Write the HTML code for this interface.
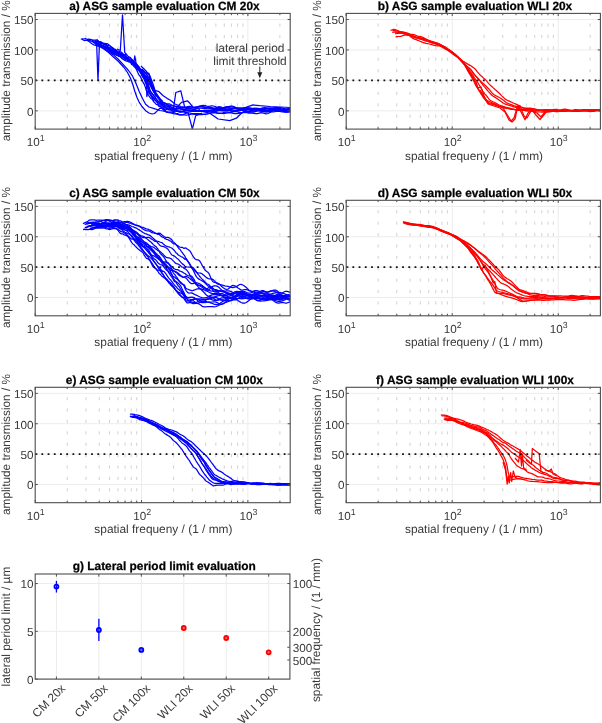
<!DOCTYPE html><html><head><meta charset="utf-8"><style>html,body{margin:0;padding:0;background:#fff;width:602px;height:723px;overflow:hidden}svg{display:block;will-change:transform;filter:blur(0.3px);text-rendering:geometricPrecision}</style></head><body><svg width="602" height="723" viewBox="0 0 602 723" font-family='"Liberation Sans", sans-serif'>
<rect width="602" height="723" fill="#fff"/>
<clipPath id="clipa"><rect x="35.2" y="13.4" width="255.0" height="115.69999999999999"/></clipPath>
<line x1="35.2" y1="110.83" x2="290.2" y2="110.83" stroke="#ececec" stroke-width="1"/>
<line x1="35.2" y1="80.38" x2="290.2" y2="80.38" stroke="#ececec" stroke-width="1"/>
<line x1="35.2" y1="49.94" x2="290.2" y2="49.94" stroke="#ececec" stroke-width="1"/>
<line x1="35.2" y1="19.49" x2="290.2" y2="19.49" stroke="#ececec" stroke-width="1"/>
<line x1="141.54" y1="13.4" x2="141.54" y2="129.1" stroke="#ececec" stroke-width="1"/>
<line x1="247.88" y1="13.4" x2="247.88" y2="129.1" stroke="#ececec" stroke-width="1"/>
<path d="M67.21,126.00V129.20M67.21,114.61V117.81M67.21,103.22V106.42M67.21,91.83V95.03M67.21,80.44V83.64M67.21,69.05V72.25M67.21,57.66V60.86M67.21,46.27V49.47M67.21,34.88V38.08M67.21,23.49V26.69" stroke="#d2d2d2" stroke-width="1" fill="none"/>
<path d="M85.94,126.00V129.20M85.94,114.61V117.81M85.94,103.22V106.42M85.94,91.83V95.03M85.94,80.44V83.64M85.94,69.05V72.25M85.94,57.66V60.86M85.94,46.27V49.47M85.94,34.88V38.08M85.94,23.49V26.69" stroke="#d2d2d2" stroke-width="1" fill="none"/>
<path d="M99.22,126.00V129.20M99.22,114.61V117.81M99.22,103.22V106.42M99.22,91.83V95.03M99.22,80.44V83.64M99.22,69.05V72.25M99.22,57.66V60.86M99.22,46.27V49.47M99.22,34.88V38.08M99.22,23.49V26.69" stroke="#d2d2d2" stroke-width="1" fill="none"/>
<path d="M109.53,126.00V129.20M109.53,114.61V117.81M109.53,103.22V106.42M109.53,91.83V95.03M109.53,80.44V83.64M109.53,69.05V72.25M109.53,57.66V60.86M109.53,46.27V49.47M109.53,34.88V38.08M109.53,23.49V26.69" stroke="#d2d2d2" stroke-width="1" fill="none"/>
<path d="M117.95,126.00V129.20M117.95,114.61V117.81M117.95,103.22V106.42M117.95,91.83V95.03M117.95,80.44V83.64M117.95,69.05V72.25M117.95,57.66V60.86M117.95,46.27V49.47M117.95,34.88V38.08M117.95,23.49V26.69" stroke="#d2d2d2" stroke-width="1" fill="none"/>
<path d="M125.07,126.00V129.20M125.07,114.61V117.81M125.07,103.22V106.42M125.07,91.83V95.03M125.07,80.44V83.64M125.07,69.05V72.25M125.07,57.66V60.86M125.07,46.27V49.47M125.07,34.88V38.08M125.07,23.49V26.69" stroke="#d2d2d2" stroke-width="1" fill="none"/>
<path d="M131.24,126.00V129.20M131.24,114.61V117.81M131.24,103.22V106.42M131.24,91.83V95.03M131.24,80.44V83.64M131.24,69.05V72.25M131.24,57.66V60.86M131.24,46.27V49.47M131.24,34.88V38.08M131.24,23.49V26.69" stroke="#d2d2d2" stroke-width="1" fill="none"/>
<path d="M136.68,126.00V129.20M136.68,114.61V117.81M136.68,103.22V106.42M136.68,91.83V95.03M136.68,80.44V83.64M136.68,69.05V72.25M136.68,57.66V60.86M136.68,46.27V49.47M136.68,34.88V38.08M136.68,23.49V26.69" stroke="#d2d2d2" stroke-width="1" fill="none"/>
<path d="M173.55,126.00V129.20M173.55,114.61V117.81M173.55,103.22V106.42M173.55,91.83V95.03M173.55,80.44V83.64M173.55,69.05V72.25M173.55,57.66V60.86M173.55,46.27V49.47M173.55,34.88V38.08M173.55,23.49V26.69" stroke="#d2d2d2" stroke-width="1" fill="none"/>
<path d="M192.28,126.00V129.20M192.28,114.61V117.81M192.28,103.22V106.42M192.28,91.83V95.03M192.28,80.44V83.64M192.28,69.05V72.25M192.28,57.66V60.86M192.28,46.27V49.47M192.28,34.88V38.08M192.28,23.49V26.69" stroke="#d2d2d2" stroke-width="1" fill="none"/>
<path d="M205.57,126.00V129.20M205.57,114.61V117.81M205.57,103.22V106.42M205.57,91.83V95.03M205.57,80.44V83.64M205.57,69.05V72.25M205.57,57.66V60.86M205.57,46.27V49.47M205.57,34.88V38.08M205.57,23.49V26.69" stroke="#d2d2d2" stroke-width="1" fill="none"/>
<path d="M215.87,126.00V129.20M215.87,114.61V117.81M215.87,103.22V106.42M215.87,91.83V95.03M215.87,80.44V83.64M215.87,69.05V72.25M215.87,57.66V60.86M215.87,46.27V49.47M215.87,34.88V38.08M215.87,23.49V26.69" stroke="#d2d2d2" stroke-width="1" fill="none"/>
<path d="M224.29,126.00V129.20M224.29,114.61V117.81M224.29,103.22V106.42M224.29,91.83V95.03M224.29,80.44V83.64M224.29,69.05V72.25M224.29,57.66V60.86M224.29,46.27V49.47M224.29,34.88V38.08M224.29,23.49V26.69" stroke="#d2d2d2" stroke-width="1" fill="none"/>
<path d="M231.41,126.00V129.20M231.41,114.61V117.81M231.41,103.22V106.42M231.41,91.83V95.03M231.41,80.44V83.64M231.41,69.05V72.25M231.41,57.66V60.86M231.41,46.27V49.47M231.41,34.88V38.08M231.41,23.49V26.69" stroke="#d2d2d2" stroke-width="1" fill="none"/>
<path d="M237.58,126.00V129.20M237.58,114.61V117.81M237.58,103.22V106.42M237.58,91.83V95.03M237.58,80.44V83.64M237.58,69.05V72.25M237.58,57.66V60.86M237.58,46.27V49.47M237.58,34.88V38.08M237.58,23.49V26.69" stroke="#d2d2d2" stroke-width="1" fill="none"/>
<path d="M243.02,126.00V129.20M243.02,114.61V117.81M243.02,103.22V106.42M243.02,91.83V95.03M243.02,80.44V83.64M243.02,69.05V72.25M243.02,57.66V60.86M243.02,46.27V49.47M243.02,34.88V38.08M243.02,23.49V26.69" stroke="#d2d2d2" stroke-width="1" fill="none"/>
<path d="M279.89,126.00V129.20M279.89,114.61V117.81M279.89,103.22V106.42M279.89,91.83V95.03M279.89,80.44V83.64M279.89,69.05V72.25M279.89,57.66V60.86M279.89,46.27V49.47M279.89,34.88V38.08M279.89,23.49V26.69" stroke="#d2d2d2" stroke-width="1" fill="none"/>
<g clip-path="url(#clipa)" fill="none" stroke="#0000ff" stroke-width="1.25" stroke-linejoin="round">
<polyline points="82.0,38.8 83.7,39.0 85.3,38.5 87.0,39.3 88.7,39.1 90.4,39.3 92.0,40.0 93.7,40.1 95.4,40.1 97.0,39.8 98.7,41.5 100.3,41.7 101.8,42.4 103.3,43.9 104.8,43.6 106.3,43.6 107.8,43.9 109.3,45.2 110.9,47.0 112.5,48.2 114.0,49.9 115.5,50.5 117.0,51.1 118.5,52.4 120.0,53.8 121.5,54.4 123.0,54.4 124.4,54.8 125.9,54.5 127.4,55.6 128.7,56.9 130.1,57.4 131.4,58.9 132.7,60.1 134.1,61.7 135.3,62.6 136.6,64.1 137.8,65.8 138.9,66.5 140.1,69.7 141.3,69.9 142.6,70.8 143.8,72.1 145.0,72.9 146.2,73.5 147.5,75.4 148.4,76.8 149.2,77.7 150.0,79.0 150.6,80.4 151.2,81.6 151.7,83.6 152.2,85.0 152.8,86.1 153.6,87.2 154.4,89.3 155.2,91.0 156.0,93.1 157.0,94.2 157.9,95.7 158.9,97.1 159.9,98.7 160.9,99.6 161.9,101.3 163.2,103.0 164.6,103.4 166.0,103.7 167.5,103.8 169.2,103.8 170.8,104.5 172.5,105.5 174.2,106.1 175.8,106.3 177.5,106.4 179.2,106.9 180.9,107.7 182.7,108.1 184.4,108.0 186.1,107.9 187.8,108.1 189.5,108.3 191.2,108.3 192.9,108.0 194.6,107.6 196.3,107.1 198.1,106.7 199.8,106.3 201.5,106.4 203.2,106.7 204.9,107.1 206.6,107.5 208.3,108.1 210.0,108.5 211.8,108.9 213.5,108.9 215.2,108.4 216.9,107.5 218.6,106.7 220.3,106.8 222.0,107.3 223.7,107.6 225.4,107.6 227.1,107.6 228.8,107.7 230.5,107.9 232.2,108.0 233.9,108.1 235.6,108.2 237.3,108.6 239.0,109.1 240.7,109.4 242.4,109.1 244.1,108.3 245.8,108.0 247.5,108.7 249.2,109.2 250.9,108.9 252.7,108.5 254.4,108.3 256.1,108.3 257.8,108.4 259.5,108.6 261.2,108.8 262.9,108.8 264.7,108.6 266.4,108.3 268.1,108.1 269.8,108.0 271.5,108.1 273.3,108.2 275.0,108.5 276.7,109.0 278.4,109.5 280.2,109.6 281.9,109.4 283.6,109.1 285.3,109.0 287.1,109.0 288.8,109.0 290.5,109.0"/>
<polyline points="96.9,39.9 98.5,41.3 100.2,41.9 101.8,42.8 103.2,43.2 104.7,43.3 106.2,44.4 107.7,45.5 109.3,45.5 110.8,46.5 112.4,47.6 114.0,48.7 115.5,50.8 117.0,52.0 118.5,52.4 120.0,52.7 121.4,53.3 122.9,54.4 124.4,55.3 125.8,56.8 127.3,57.4 128.7,57.8 130.1,58.1 131.4,59.4 132.7,60.4 134.0,62.2 135.3,63.0 136.5,64.0 137.7,66.1 138.9,67.6 140.0,68.3 141.2,69.6 142.5,70.6 143.7,71.1 144.9,72.3 146.1,74.0 147.3,75.9 148.1,77.5 148.9,78.9 149.7,79.8 150.4,81.6 150.9,82.8 151.5,84.5 152.0,86.7 152.5,87.7 153.3,88.4 154.2,90.4 155.0,92.4 155.8,93.0 156.8,95.1 157.8,96.3 158.7,97.5 159.8,99.0 160.8,100.5 161.9,101.2 163.1,102.5 164.5,102.9 166.0,103.6 167.5,104.7 169.1,105.9 170.8,106.9 172.5,107.5 174.2,108.0 175.8,108.5 177.5,108.8 179.2,108.5 180.9,107.9 182.7,107.5 184.4,107.4 186.1,107.6 187.8,107.9 189.5,107.9 191.2,107.8 192.9,107.8 194.6,107.7 196.3,107.4 198.1,107.1 199.8,106.9 201.5,106.9 203.2,107.1 204.9,107.3 206.6,107.3 208.3,107.2 210.0,107.3 211.8,107.7 213.5,108.2 215.2,108.6 216.9,108.7 218.6,108.7 220.3,108.7 222.0,108.4 223.7,107.6 225.4,106.8 227.2,106.5 228.9,106.6 230.6,106.8 232.3,107.0 234.0,107.3 235.7,107.7 237.4,107.9 239.1,107.9 240.8,107.9 242.6,107.9 244.3,107.8 246.0,107.7 247.7,107.7 249.4,107.9 251.1,108.2 252.8,108.3 254.6,108.4 256.3,108.4 258.0,108.5 259.7,108.8 261.4,108.9 263.1,109.0 264.8,108.8 266.5,108.5 268.2,108.3 269.9,108.2 271.7,108.2 273.4,107.9 275.1,107.5 276.8,107.4 278.5,107.8 280.2,108.8 281.9,109.8 283.6,110.3 285.4,110.1 287.1,109.5 288.8,108.9 290.5,108.8"/>
<polyline points="90.3,39.9 92.0,40.0 93.6,41.2 95.3,41.2 97.0,42.0 98.6,42.7 100.2,43.4 101.8,43.7 103.2,43.3 104.7,44.3 106.2,44.6 107.7,46.4 109.2,48.0 110.8,49.3 112.3,50.1 113.8,50.0 115.3,50.7 116.8,51.2 118.3,52.2 119.8,53.1 121.2,53.5 122.7,55.6 124.2,55.5 125.6,56.5 127.1,57.9 128.5,59.2 129.8,60.3 131.1,61.1 132.5,62.8 133.8,63.1 135.1,64.2 136.3,64.8 137.4,65.1 138.5,66.7 139.6,68.5 140.8,70.5 141.9,71.7 143.1,72.8 144.1,73.5 145.2,75.0 146.3,76.5 147.2,77.1 147.9,78.9 148.8,80.6 149.5,81.9 150.1,83.2 150.7,85.1 151.3,86.5 151.9,87.9 152.8,88.9 153.7,91.4 154.5,92.8 155.5,94.3 156.5,95.9 157.5,96.8 158.5,98.4 159.6,98.7 160.7,99.8 161.8,100.4 163.0,102.5 164.5,103.0 165.9,104.0 167.4,104.7 169.1,105.1 170.7,105.5 172.4,105.8 174.1,106.0 175.8,106.3 177.5,106.9 179.2,107.4 180.9,107.8 182.7,107.8 184.4,107.4 186.1,107.0 187.8,106.6 189.5,106.4 191.2,106.6 192.9,107.0 194.6,107.2 196.3,107.0 198.1,106.5 199.8,106.0 201.5,105.6 203.2,105.4 204.9,105.6 206.6,106.1 208.3,106.4 210.0,106.2 211.7,105.9 213.3,106.0 215.0,106.5 216.7,107.0 218.4,107.4 220.1,107.6 221.8,108.0 223.5,108.6 225.2,109.3 226.9,109.9 228.6,110.0 230.3,109.6 232.0,109.0 233.8,108.5 235.5,108.4 237.2,108.6 238.9,108.9 240.6,109.1 242.3,109.2 244.0,109.1 245.7,109.1 247.4,109.0 249.2,108.9 250.9,108.8 252.6,109.0 254.3,109.4 256.1,109.9 257.8,110.1 259.5,110.0 261.2,109.7 262.9,109.2 264.7,108.9 266.4,108.7 268.1,108.7 269.8,108.7 271.6,108.6 273.3,108.5 275.0,108.4 276.7,108.4 278.5,108.5 280.2,108.7 281.9,109.0 283.6,109.5 285.3,109.7 287.1,109.6 288.8,109.2 290.5,108.6"/>
<polyline points="95.1,40.7 96.8,41.2 98.4,42.0 100.1,42.4 101.7,43.1 103.2,43.9 104.7,45.1 106.2,45.5 107.7,46.9 109.2,48.0 110.8,47.9 112.3,48.3 113.9,49.9 115.4,49.3 116.8,50.8 118.3,51.0 119.8,51.7 121.3,52.1 122.8,53.5 124.2,55.4 125.7,56.0 127.1,57.5 128.5,58.4 129.8,59.9 131.2,60.3 132.5,62.0 133.8,63.4 135.1,64.7 136.2,65.9 137.3,68.4 138.4,68.8 139.5,70.0 140.6,71.1 141.7,72.0 142.6,72.8 143.6,74.9 144.5,76.7 145.4,79.0 146.1,81.2 146.8,81.6 147.4,84.0 148.1,84.2 148.6,86.4 149.2,87.5 149.8,90.0 150.4,91.1 151.2,92.3 152.2,93.8 153.1,95.0 154.0,96.5 155.1,97.7 156.2,99.1 157.4,100.5 158.6,101.5 159.8,102.1 161.0,103.2 162.3,104.8 163.8,106.9 165.2,107.6 166.6,108.9 168.2,109.5 169.9,109.5 171.6,109.1 173.3,109.0 175.0,109.6 176.8,110.7 178.5,111.6 180.2,112.1 182.0,111.8 183.7,111.0 185.4,110.4 187.2,110.4 188.9,110.6 190.7,110.6 192.4,110.0 194.2,109.4 195.9,108.8 197.6,108.5 199.4,108.2 201.1,108.1 202.8,108.3 204.6,108.6 206.3,108.7 208.0,108.8 209.8,108.8 211.5,108.7 213.2,108.4 214.9,108.2 216.7,108.2 218.4,108.3 220.1,108.3 221.8,108.2 223.5,108.1 225.2,107.8 227.0,107.3 228.7,106.7 230.4,106.2 232.1,106.2 233.8,106.7 235.6,107.4 237.3,108.0 239.0,108.5 240.7,109.0 242.4,109.5 244.1,109.6 245.8,109.5 247.6,109.3 249.3,109.1 251.0,109.1 252.7,109.4 254.4,109.9 256.1,110.3 257.9,110.3 259.6,110.1 261.3,110.0 263.0,110.0 264.7,109.9 266.4,109.8 268.2,109.8 269.9,109.5 271.6,109.0 273.3,108.7 275.0,108.4 276.8,108.0 278.5,107.6 280.2,107.5 281.9,107.8 283.6,108.4 285.4,108.9 287.1,109.0 288.8,108.7 290.5,108.3"/>
<polyline points="98.0,43.0 99.5,43.9 101.1,44.6 102.6,46.0 104.1,46.9 105.6,46.8 107.1,47.3 108.6,49.0 110.1,50.6 111.6,50.6 113.2,52.0 114.6,52.8 116.1,52.6 117.6,53.0 119.1,54.0 120.6,55.4 122.1,56.0 123.6,57.0 125.1,58.1 126.6,58.5 128.1,59.7 129.4,60.2 130.8,62.2 132.1,63.3 133.5,64.1 134.8,65.1 136.0,66.4 137.1,66.5 138.2,67.5 139.3,68.8 140.5,70.7 141.6,72.2 142.7,74.1 143.8,75.3 144.9,76.4 146.0,77.8 146.9,80.4 147.7,81.7 148.5,83.1 149.3,84.3 149.9,85.2 150.6,86.2 151.2,87.2 151.8,88.3 152.7,89.9 153.5,91.5 154.4,93.0 155.3,95.2 156.3,95.9 157.3,96.8 158.3,98.4 159.4,99.7 160.5,101.4 161.6,102.5 162.8,104.1 164.2,104.9 165.6,106.4 167.1,107.6 168.7,108.4 170.3,108.9 172.0,109.0 173.7,108.7 175.3,108.4 177.0,108.3 178.7,108.2 180.4,108.7 182.1,109.5 183.8,110.2 185.4,110.4 187.1,110.4 188.8,110.4 190.5,110.7 192.2,111.2 193.9,111.3 195.6,111.0 197.3,110.7 199.0,110.7 200.7,111.1 202.4,111.3 204.1,111.2 205.8,111.0 207.6,110.8 209.3,110.9 211.0,111.1 212.7,111.3 214.4,111.5 216.1,111.3 217.9,110.9 219.6,110.6 221.3,110.5 223.0,110.8 224.8,111.0 226.5,110.9 228.2,110.7 230.0,110.6 231.7,110.8 233.4,111.0 235.2,110.9 236.9,110.8 238.7,110.8 240.4,110.7 242.1,110.2 243.9,109.6 245.6,109.2 247.3,109.3 249.1,109.8 250.8,110.2 252.6,110.3 254.3,110.2 256.0,110.0 257.8,109.6 259.5,109.0 261.2,108.3 263.0,107.8 264.7,107.6 266.4,107.8 268.1,108.6 269.9,109.4 271.6,109.9 273.3,109.9 275.0,109.7 276.8,109.3 278.5,109.2 280.2,109.2 281.9,109.4 283.6,109.4 285.4,109.4 287.1,109.2 288.8,108.9 290.5,108.4"/>
<polyline points="97.5,44.1 99.1,44.4 100.7,44.6 102.2,45.3 103.8,45.9 105.3,46.9 106.8,47.2 108.4,47.8 110.0,48.6 111.5,49.6 113.1,50.6 114.6,51.4 116.1,53.0 117.6,54.1 119.2,55.0 120.7,55.1 122.2,56.5 123.7,57.1 125.2,58.6 126.8,59.1 128.2,59.5 129.6,60.4 131.0,62.1 132.3,62.4 133.7,63.8 135.0,64.4 136.2,66.2 137.3,66.8 138.5,68.5 139.6,69.7 140.8,70.5 142.0,72.1 143.2,74.2 144.3,75.1 145.4,75.8 146.6,77.5 147.5,79.3 148.3,80.0 149.1,81.9 149.8,82.9 150.4,84.6 150.9,85.3 151.5,87.2 152.0,88.8 152.9,90.4 153.7,91.8 154.5,92.4 155.4,93.3 156.3,94.6 157.3,96.2 158.3,97.2 159.4,99.2 160.5,101.0 161.6,102.7 162.8,103.7 164.2,104.7 165.6,105.1 167.0,105.8 168.6,106.3 170.3,106.8 171.9,107.6 173.6,108.4 175.2,109.2 176.9,109.8 178.6,110.0 180.3,109.9 182.0,109.7 183.7,109.6 185.4,109.7 187.1,109.8 188.8,110.0 190.5,110.2 192.2,110.3 193.9,110.5 195.6,110.9 197.3,111.4 199.0,111.4 200.7,111.3 202.4,111.2 204.1,111.5 205.8,111.6 207.5,111.6 209.2,111.4 210.9,111.2 212.7,110.8 214.4,110.4 216.1,110.2 217.8,110.3 219.5,110.5 221.3,110.6 223.0,110.6 224.7,110.5 226.4,110.1 228.2,109.6 229.9,109.4 231.6,109.7 233.3,110.3 235.1,110.8 236.8,110.9 238.5,110.5 240.3,110.2 242.0,110.4 243.7,110.9 245.5,111.5 247.2,112.1 248.9,112.3 250.7,112.2 252.4,111.9 254.1,111.6 255.9,111.2 257.6,110.9 259.3,110.7 261.1,110.5 262.8,110.4 264.5,110.4 266.3,110.5 268.0,110.5 269.7,110.2 271.5,109.8 273.2,109.7 274.9,109.7 276.7,109.8 278.4,110.1 280.1,110.4 281.9,110.5 283.6,110.5 285.3,110.5 287.0,110.8 288.8,111.3 290.5,111.7"/>
<polyline points="94.7,41.7 96.4,42.2 98.0,43.9 99.6,44.7 101.2,45.2 102.8,45.7 104.2,46.2 105.8,47.2 107.3,48.4 108.8,48.9 110.4,49.0 111.9,49.9 113.4,50.2 114.9,50.8 116.4,51.5 117.9,52.4 119.4,53.9 120.9,54.9 122.4,55.3 123.8,56.8 125.3,57.5 126.8,58.2 128.2,59.3 129.5,59.9 130.8,60.7 132.2,62.1 133.5,62.7 134.8,64.5 136.0,66.0 137.0,67.3 138.0,69.2 139.1,70.6 140.1,71.9 141.1,73.8 142.0,75.8 142.8,77.4 143.6,78.2 144.4,80.0 145.1,82.0 145.8,83.5 146.4,84.9 147.1,86.4 147.7,88.2 148.3,90.0 148.9,92.8 149.5,93.5 150.5,94.7 151.4,95.6 152.4,96.8 153.4,97.8 154.4,98.8 155.7,100.8 156.9,101.5 158.2,102.7 159.5,103.8 160.8,105.2 162.1,106.3 163.5,108.0 164.9,109.8 166.3,111.7 167.9,112.3 169.6,112.3 171.3,112.0 173.0,111.6 174.7,111.1 176.4,111.0 178.2,111.0 179.9,111.3 181.7,111.5 183.4,111.4 185.2,111.0 186.9,110.5 188.7,110.4 190.4,110.5 192.2,110.7 193.9,111.1 195.6,111.4 197.4,111.3 199.1,111.0 200.9,110.7 202.6,110.5 204.3,110.3 206.1,110.4 207.8,110.6 209.6,110.5 211.3,110.1 213.0,109.6 214.8,109.2 216.5,109.3 218.2,109.5 219.9,109.5 221.7,109.3 223.4,109.0 225.1,108.5 226.8,108.2 228.6,108.1 230.3,108.4 232.0,108.6 233.7,108.8 235.4,108.9 237.2,109.1 238.9,109.3 240.6,109.6 242.3,109.9 244.0,110.1 245.7,109.9 247.4,109.3 249.2,108.7 250.9,108.4 252.6,108.5 254.3,109.0 256.0,109.5 257.7,110.2 259.5,110.9 261.2,111.3 262.9,111.5 264.6,111.7 266.3,111.8 268.1,111.4 269.8,110.7 271.5,110.1 273.2,109.9 274.9,110.0 276.7,110.2 278.4,110.3 280.1,110.4 281.9,110.6 283.6,111.2 285.3,111.8 287.0,112.1 288.8,111.9 290.5,111.6"/>
<polyline points="87.0,40.5 88.7,41.3 90.3,42.6 91.9,43.7 93.6,44.8 95.2,45.2 96.8,46.0 98.5,46.2 100.1,45.9 101.7,46.0 103.3,46.5 104.9,48.0 106.5,48.5 108.0,49.2 109.6,49.6 111.1,50.3 112.7,51.1 114.2,52.9 115.7,52.8 117.3,54.0 118.8,54.5 120.4,55.2 121.9,55.6 123.4,56.6 124.9,58.2 126.4,58.7 127.9,60.2 129.3,61.0 130.7,62.0 132.0,63.4 133.4,64.3 134.7,65.9 135.9,67.4 136.9,67.8 138.0,69.6 139.1,70.3 140.2,72.0 141.2,73.3 142.2,75.2 143.2,76.2 144.1,77.6 145.0,78.8 145.8,81.2 146.5,82.1 147.3,84.1 148.0,85.2 148.6,86.5 149.2,87.4 149.8,89.7 150.4,91.3 151.3,92.5 152.3,93.7 153.2,94.5 154.2,95.9 155.2,96.9 156.3,99.0 157.5,100.8 158.7,102.0 159.9,102.7 161.1,104.1 162.4,104.7 163.8,106.1 165.2,107.0 166.6,108.3 168.2,109.0 169.8,109.4 171.5,109.7 173.2,109.8 174.9,110.2 176.6,110.8 178.3,111.6 180.0,112.0 181.8,111.8 183.5,111.1 185.2,110.5 186.9,110.3 188.7,110.3 190.4,110.3 192.1,110.2 193.8,110.0 195.6,110.2 197.3,110.7 199.0,111.1 200.7,111.2 202.5,111.0 204.2,111.0 205.9,111.2 207.6,111.2 209.4,110.9 211.1,110.7 212.8,110.7 214.5,110.7 216.3,110.4 218.0,109.9 219.7,109.6 221.4,109.5 223.2,109.7 224.9,109.8 226.6,109.8 228.3,110.0 230.1,110.7 231.8,111.3 233.5,111.5 235.2,111.2 237.0,110.8 238.7,110.4 240.4,110.0 242.1,109.8 243.9,110.0 245.6,110.6 247.3,111.2 249.0,111.3 250.8,110.6 252.5,109.7 254.2,109.3 255.9,109.3 257.7,109.3 259.4,109.2 261.1,109.3 262.9,109.5 264.6,110.0 266.3,110.5 268.0,111.0 269.8,111.1 271.5,110.7 273.2,110.0 274.9,109.7 276.7,109.7 278.4,109.9 280.1,110.0 281.9,110.2 283.6,110.4 285.3,110.7 287.0,111.0 288.8,111.0 290.5,110.7"/>
<polyline points="95.2,44.4 96.8,44.9 98.4,45.8 100.0,45.5 101.7,45.8 103.2,46.2 104.8,48.0 106.3,48.8 107.9,50.4 109.5,51.2 111.0,52.0 112.5,54.0 114.1,54.1 115.6,54.9 117.1,55.4 118.7,55.7 120.2,56.8 121.8,57.6 123.3,58.8 124.8,59.2 126.3,59.5 127.8,60.6 129.2,61.1 130.6,62.1 131.9,62.8 133.3,64.4 134.6,65.1 135.8,67.1 136.9,68.0 137.9,69.4 139.0,70.4 140.0,71.8 141.1,73.3 142.0,74.8 142.9,76.1 143.8,77.0 144.7,78.0 145.4,80.1 146.1,81.0 146.8,81.9 147.4,85.1 148.0,86.8 148.6,89.7 149.2,91.6 149.8,93.0 150.7,94.4 151.6,95.2 152.5,97.0 153.4,98.2 154.4,99.4 155.6,100.4 156.8,102.0 158.1,103.9 159.3,106.0 160.6,106.6 161.9,107.8 163.2,108.9 164.6,110.0 165.9,111.7 167.4,112.4 169.1,112.7 170.8,113.0 172.4,113.4 174.1,113.8 175.8,114.0 177.5,114.4 179.2,114.8 180.9,114.9 182.6,114.8 184.3,115.0 186.1,115.1 187.8,115.0 189.6,114.6 191.3,114.2 193.0,114.2 194.8,114.4 196.5,114.6 198.3,114.7 200.0,114.7 201.7,114.6 203.5,114.5 205.2,114.3 206.9,114.0 208.7,113.5 210.4,112.9 212.2,112.5 213.9,112.2 215.7,112.4 217.4,112.8 219.1,113.1 220.9,113.4 222.6,113.5 224.3,113.5 226.1,113.1 227.8,112.8 229.6,112.8 231.3,113.0 233.1,113.4 234.8,113.6 236.6,113.7 238.3,113.5 240.1,113.2 241.8,112.7 243.6,112.1 245.3,111.6 247.1,111.2 248.8,111.1 250.6,111.5 252.3,111.9 254.1,111.9 255.8,111.3 257.6,110.7 259.3,110.6 261.0,110.8 262.8,111.3 264.5,111.6 266.3,111.9 268.0,111.9 269.7,111.7 271.5,111.3 273.2,111.0 274.9,110.8 276.7,110.7 278.4,110.7 280.1,110.9 281.9,111.2 283.6,111.3 285.3,111.4 287.0,111.6 288.8,111.5 290.5,111.3"/>
<polyline points="80.8,38.7 82.5,39.5 84.1,40.6 85.8,40.1 87.5,40.3 89.1,40.1 90.8,41.1 92.4,41.5 94.0,42.9 95.6,43.8 97.2,45.4 98.8,45.5 100.4,45.9 102.0,46.1 103.5,46.2 105.0,47.1 106.6,47.9 108.1,48.5 109.6,50.3 111.1,51.3 112.6,52.8 114.1,53.9 115.6,54.2 117.1,55.0 118.6,56.3 120.1,56.4 121.6,58.2 123.0,59.3 124.5,60.1 126.0,60.9 127.5,61.3 128.9,62.0 130.2,62.0 131.6,64.5 132.9,65.1 134.3,66.8 135.4,67.8 136.4,69.3 137.3,71.1 138.3,73.9 139.2,75.2 140.2,76.2 140.9,77.7 141.6,79.2 142.2,80.5 142.9,82.0 143.5,83.3 144.2,84.0 144.8,85.7 145.5,87.6 146.2,90.2 146.9,91.4 147.6,93.3 148.2,94.5 149.3,96.5 150.3,97.7 151.3,98.7 152.4,99.5 153.5,101.5 154.8,102.7 156.2,104.3 157.5,104.7 158.9,106.3 160.2,106.2 161.6,107.8 163.0,109.3 164.3,111.1 165.7,111.7 167.2,112.2 168.9,112.0 170.6,112.0 172.3,112.2 174.0,112.7 175.7,113.3 177.4,113.7 179.2,114.3 180.9,114.8 182.6,114.7 184.3,114.1 186.1,113.2 187.8,112.8 189.6,113.0 191.3,113.3 193.0,113.5 194.8,113.5 196.5,113.5 198.3,113.7 200.0,113.9 201.7,114.1 203.5,114.2 205.2,114.1 206.9,114.0 208.7,113.7 210.4,113.2 212.2,112.8 213.9,112.7 215.7,113.0 217.4,113.3 219.1,113.3 220.9,113.2 222.6,112.9 224.3,112.4 226.1,112.2 227.8,112.2 229.6,112.3 231.3,112.3 233.1,112.0 234.8,111.6 236.5,111.6 238.3,112.1 240.0,112.7 241.8,112.9 243.5,112.6 245.2,112.4 247.0,112.7 248.7,113.1 250.5,113.2 252.2,113.2 253.9,113.4 255.7,113.7 257.4,113.6 259.2,113.1 260.9,112.6 262.6,112.8 264.4,113.4 266.1,113.8 267.9,113.5 269.6,112.7 271.4,112.0 273.1,111.8 274.8,111.7 276.6,111.5 278.3,111.3 280.1,111.5 281.8,111.8 283.5,112.0 285.3,112.0 287.0,112.0 288.8,111.8 290.5,111.5"/>
<polyline points="96.0,44.5 102.4,48.1 108.0,52.0 113.2,56.7 118.5,61.5 124.0,67.5 127.5,72.5 130.5,78.3 132.8,84.5 134.8,91.3 137.0,97.5 139.1,102.1 142.0,106.5 145.6,110.7 149.0,113.0 152.1,114.0 154.5,113.5 157.3,110.9 159.9,108.2 166.6,109.5 175.0,111.0 185.0,112.0 200.0,111.0 209.8,113.2 218.1,119.0 229.8,120.7 236.4,118.2 241.4,113.2 248.0,109.0 260.0,110.0 290.5,110.5"/>
<polyline points="141.0,66.0 146.0,71.0 150.0,76.0 153.0,84.0 154.9,90.3 159.0,91.7 163.2,95.8 167.4,98.6 170.0,100.0 175.0,104.0 181.0,106.5 190.0,108.0"/>
<polyline points="92.0,41.5 95.5,42.3 96.6,43.0 98.0,80.4 99.4,44.3 102.0,45.5"/>
<polyline points="117.0,49.0 120.3,50.5 122.5,14.8 124.7,52.3 127.0,55.0"/>
<polyline points="131.0,59.5 133.8,62.5 134.8,55.9 136.2,64.0 138.0,68.0"/>
<polyline points="166.6,106.0 170.0,108.0 173.3,109.9 175.8,92.5 180.8,90.8 184.9,108.2 190.0,109.0 196.0,109.5"/>
<polyline points="176.0,108.0 181.6,102.4 187.4,100.8 189.9,103.3 193.2,107.4 200.0,109.5"/>
<polyline points="180.0,111.0 188.2,113.2 192.4,129.0 195.7,115.7 202.0,113.0"/>
<polyline points="238.0,110.0 248.0,106.6 253.0,104.9 259.7,105.7 270.0,106.5 290.5,107.5"/>
<polyline points="138.0,67.0 141.0,70.5 143.5,74.0 145.0,78.5 146.6,84.0 146.8,96.5 148.5,90.0 151.0,96.0 154.0,101.0"/>
<polyline points="142.0,69.0 145.5,72.8 149.0,73.3 150.2,79.0 151.5,84.0 153.0,88.0 155.0,92.0"/>
<polyline points="100.0,45.5 106.0,50.0 113.2,54.6 118.5,59.5 124.0,65.4 128.5,70.5 132.6,76.2 135.8,83.0 139.1,91.3 142.5,98.5 145.6,104.2 149.0,107.0 154.2,108.6 160.0,110.5 166.0,111.5"/>
</g>
<line x1="35.20" y1="80.38" x2="290.2" y2="80.38" stroke="#111" stroke-width="1.8" stroke-dasharray="1.8 4.413"/>
<rect x="35.2" y="13.4" width="255.0" height="115.69999999999999" fill="none" stroke="#4d4d4d" stroke-width="1.1"/>
<line x1="35.2" y1="110.83" x2="37.800000000000004" y2="110.83" stroke="#4d4d4d" stroke-width="1"/>
<line x1="290.2" y1="110.83" x2="287.59999999999997" y2="110.83" stroke="#4d4d4d" stroke-width="1"/>
<text x="33.40" y="115.73" text-anchor="end" font-size="11.7" fill="#383838">0</text>
<line x1="35.2" y1="80.38" x2="37.800000000000004" y2="80.38" stroke="#4d4d4d" stroke-width="1"/>
<line x1="290.2" y1="80.38" x2="287.59999999999997" y2="80.38" stroke="#4d4d4d" stroke-width="1"/>
<text x="33.40" y="85.28" text-anchor="end" font-size="11.7" fill="#383838">50</text>
<line x1="35.2" y1="49.94" x2="37.800000000000004" y2="49.94" stroke="#4d4d4d" stroke-width="1"/>
<line x1="290.2" y1="49.94" x2="287.59999999999997" y2="49.94" stroke="#4d4d4d" stroke-width="1"/>
<text x="33.40" y="54.84" text-anchor="end" font-size="11.7" fill="#383838">100</text>
<line x1="35.2" y1="19.49" x2="37.800000000000004" y2="19.49" stroke="#4d4d4d" stroke-width="1"/>
<line x1="290.2" y1="19.49" x2="287.59999999999997" y2="19.49" stroke="#4d4d4d" stroke-width="1"/>
<text x="33.40" y="24.39" text-anchor="end" font-size="11.7" fill="#383838">150</text>
<line x1="35.20" y1="129.1" x2="35.20" y2="126.5" stroke="#4d4d4d" stroke-width="1"/>
<line x1="35.20" y1="13.4" x2="35.20" y2="16.0" stroke="#4d4d4d" stroke-width="1"/>
<text x="35.80" y="145.90" text-anchor="middle" font-size="11.7" fill="#383838">10<tspan font-size="8.8" dy="-4.5">1</tspan></text>
<line x1="141.54" y1="129.1" x2="141.54" y2="126.5" stroke="#4d4d4d" stroke-width="1"/>
<line x1="141.54" y1="13.4" x2="141.54" y2="16.0" stroke="#4d4d4d" stroke-width="1"/>
<text x="142.14" y="145.90" text-anchor="middle" font-size="11.7" fill="#383838">10<tspan font-size="8.8" dy="-4.5">2</tspan></text>
<line x1="247.88" y1="129.1" x2="247.88" y2="126.5" stroke="#4d4d4d" stroke-width="1"/>
<line x1="247.88" y1="13.4" x2="247.88" y2="16.0" stroke="#4d4d4d" stroke-width="1"/>
<text x="248.48" y="145.90" text-anchor="middle" font-size="11.7" fill="#383838">10<tspan font-size="8.8" dy="-4.5">3</tspan></text>
<line x1="67.21" y1="129.1" x2="67.21" y2="127.3" stroke="#4d4d4d" stroke-width="1"/>
<line x1="67.21" y1="13.4" x2="67.21" y2="15.200000000000001" stroke="#4d4d4d" stroke-width="1"/>
<line x1="85.94" y1="129.1" x2="85.94" y2="127.3" stroke="#4d4d4d" stroke-width="1"/>
<line x1="85.94" y1="13.4" x2="85.94" y2="15.200000000000001" stroke="#4d4d4d" stroke-width="1"/>
<line x1="99.22" y1="129.1" x2="99.22" y2="127.3" stroke="#4d4d4d" stroke-width="1"/>
<line x1="99.22" y1="13.4" x2="99.22" y2="15.200000000000001" stroke="#4d4d4d" stroke-width="1"/>
<line x1="109.53" y1="129.1" x2="109.53" y2="127.3" stroke="#4d4d4d" stroke-width="1"/>
<line x1="109.53" y1="13.4" x2="109.53" y2="15.200000000000001" stroke="#4d4d4d" stroke-width="1"/>
<line x1="117.95" y1="129.1" x2="117.95" y2="127.3" stroke="#4d4d4d" stroke-width="1"/>
<line x1="117.95" y1="13.4" x2="117.95" y2="15.200000000000001" stroke="#4d4d4d" stroke-width="1"/>
<line x1="125.07" y1="129.1" x2="125.07" y2="127.3" stroke="#4d4d4d" stroke-width="1"/>
<line x1="125.07" y1="13.4" x2="125.07" y2="15.200000000000001" stroke="#4d4d4d" stroke-width="1"/>
<line x1="131.24" y1="129.1" x2="131.24" y2="127.3" stroke="#4d4d4d" stroke-width="1"/>
<line x1="131.24" y1="13.4" x2="131.24" y2="15.200000000000001" stroke="#4d4d4d" stroke-width="1"/>
<line x1="136.68" y1="129.1" x2="136.68" y2="127.3" stroke="#4d4d4d" stroke-width="1"/>
<line x1="136.68" y1="13.4" x2="136.68" y2="15.200000000000001" stroke="#4d4d4d" stroke-width="1"/>
<line x1="173.55" y1="129.1" x2="173.55" y2="127.3" stroke="#4d4d4d" stroke-width="1"/>
<line x1="173.55" y1="13.4" x2="173.55" y2="15.200000000000001" stroke="#4d4d4d" stroke-width="1"/>
<line x1="192.28" y1="129.1" x2="192.28" y2="127.3" stroke="#4d4d4d" stroke-width="1"/>
<line x1="192.28" y1="13.4" x2="192.28" y2="15.200000000000001" stroke="#4d4d4d" stroke-width="1"/>
<line x1="205.57" y1="129.1" x2="205.57" y2="127.3" stroke="#4d4d4d" stroke-width="1"/>
<line x1="205.57" y1="13.4" x2="205.57" y2="15.200000000000001" stroke="#4d4d4d" stroke-width="1"/>
<line x1="215.87" y1="129.1" x2="215.87" y2="127.3" stroke="#4d4d4d" stroke-width="1"/>
<line x1="215.87" y1="13.4" x2="215.87" y2="15.200000000000001" stroke="#4d4d4d" stroke-width="1"/>
<line x1="224.29" y1="129.1" x2="224.29" y2="127.3" stroke="#4d4d4d" stroke-width="1"/>
<line x1="224.29" y1="13.4" x2="224.29" y2="15.200000000000001" stroke="#4d4d4d" stroke-width="1"/>
<line x1="231.41" y1="129.1" x2="231.41" y2="127.3" stroke="#4d4d4d" stroke-width="1"/>
<line x1="231.41" y1="13.4" x2="231.41" y2="15.200000000000001" stroke="#4d4d4d" stroke-width="1"/>
<line x1="237.58" y1="129.1" x2="237.58" y2="127.3" stroke="#4d4d4d" stroke-width="1"/>
<line x1="237.58" y1="13.4" x2="237.58" y2="15.200000000000001" stroke="#4d4d4d" stroke-width="1"/>
<line x1="243.02" y1="129.1" x2="243.02" y2="127.3" stroke="#4d4d4d" stroke-width="1"/>
<line x1="243.02" y1="13.4" x2="243.02" y2="15.200000000000001" stroke="#4d4d4d" stroke-width="1"/>
<line x1="279.89" y1="129.1" x2="279.89" y2="127.3" stroke="#4d4d4d" stroke-width="1"/>
<line x1="279.89" y1="13.4" x2="279.89" y2="15.200000000000001" stroke="#4d4d4d" stroke-width="1"/>
<text x="163.40" y="159.70" text-anchor="middle" font-size="11.9" fill="#383838">spatial frequeny / (1 / mm)</text>
<text transform="translate(9.80,70.75) rotate(-90)" x="0" y="0" text-anchor="middle" font-size="11.8" fill="#383838">amplitude transmission / %</text>
<text x="164.40" y="9.70" text-anchor="middle" font-size="11.9" font-weight="bold" fill="#000" stroke="#000" stroke-width="0.25">a) ASG sample evaluation CM 20x</text>
<clipPath id="clipb"><rect x="346.2" y="13.4" width="254.2" height="115.69999999999999"/></clipPath>
<line x1="346.2" y1="110.83" x2="600.4" y2="110.83" stroke="#ececec" stroke-width="1"/>
<line x1="346.2" y1="80.38" x2="600.4" y2="80.38" stroke="#ececec" stroke-width="1"/>
<line x1="346.2" y1="49.94" x2="600.4" y2="49.94" stroke="#ececec" stroke-width="1"/>
<line x1="346.2" y1="19.49" x2="600.4" y2="19.49" stroke="#ececec" stroke-width="1"/>
<line x1="452.21" y1="13.4" x2="452.21" y2="129.1" stroke="#ececec" stroke-width="1"/>
<line x1="558.22" y1="13.4" x2="558.22" y2="129.1" stroke="#ececec" stroke-width="1"/>
<path d="M378.11,126.00V129.20M378.11,114.61V117.81M378.11,103.22V106.42M378.11,91.83V95.03M378.11,80.44V83.64M378.11,69.05V72.25M378.11,57.66V60.86M378.11,46.27V49.47M378.11,34.88V38.08M378.11,23.49V26.69" stroke="#d2d2d2" stroke-width="1" fill="none"/>
<path d="M396.78,126.00V129.20M396.78,114.61V117.81M396.78,103.22V106.42M396.78,91.83V95.03M396.78,80.44V83.64M396.78,69.05V72.25M396.78,57.66V60.86M396.78,46.27V49.47M396.78,34.88V38.08M396.78,23.49V26.69" stroke="#d2d2d2" stroke-width="1" fill="none"/>
<path d="M410.02,126.00V129.20M410.02,114.61V117.81M410.02,103.22V106.42M410.02,91.83V95.03M410.02,80.44V83.64M410.02,69.05V72.25M410.02,57.66V60.86M410.02,46.27V49.47M410.02,34.88V38.08M410.02,23.49V26.69" stroke="#d2d2d2" stroke-width="1" fill="none"/>
<path d="M420.30,126.00V129.20M420.30,114.61V117.81M420.30,103.22V106.42M420.30,91.83V95.03M420.30,80.44V83.64M420.30,69.05V72.25M420.30,57.66V60.86M420.30,46.27V49.47M420.30,34.88V38.08M420.30,23.49V26.69" stroke="#d2d2d2" stroke-width="1" fill="none"/>
<path d="M428.69,126.00V129.20M428.69,114.61V117.81M428.69,103.22V106.42M428.69,91.83V95.03M428.69,80.44V83.64M428.69,69.05V72.25M428.69,57.66V60.86M428.69,46.27V49.47M428.69,34.88V38.08M428.69,23.49V26.69" stroke="#d2d2d2" stroke-width="1" fill="none"/>
<path d="M435.79,126.00V129.20M435.79,114.61V117.81M435.79,103.22V106.42M435.79,91.83V95.03M435.79,80.44V83.64M435.79,69.05V72.25M435.79,57.66V60.86M435.79,46.27V49.47M435.79,34.88V38.08M435.79,23.49V26.69" stroke="#d2d2d2" stroke-width="1" fill="none"/>
<path d="M441.93,126.00V129.20M441.93,114.61V117.81M441.93,103.22V106.42M441.93,91.83V95.03M441.93,80.44V83.64M441.93,69.05V72.25M441.93,57.66V60.86M441.93,46.27V49.47M441.93,34.88V38.08M441.93,23.49V26.69" stroke="#d2d2d2" stroke-width="1" fill="none"/>
<path d="M447.36,126.00V129.20M447.36,114.61V117.81M447.36,103.22V106.42M447.36,91.83V95.03M447.36,80.44V83.64M447.36,69.05V72.25M447.36,57.66V60.86M447.36,46.27V49.47M447.36,34.88V38.08M447.36,23.49V26.69" stroke="#d2d2d2" stroke-width="1" fill="none"/>
<path d="M484.12,126.00V129.20M484.12,114.61V117.81M484.12,103.22V106.42M484.12,91.83V95.03M484.12,80.44V83.64M484.12,69.05V72.25M484.12,57.66V60.86M484.12,46.27V49.47M484.12,34.88V38.08M484.12,23.49V26.69" stroke="#d2d2d2" stroke-width="1" fill="none"/>
<path d="M502.79,126.00V129.20M502.79,114.61V117.81M502.79,103.22V106.42M502.79,91.83V95.03M502.79,80.44V83.64M502.79,69.05V72.25M502.79,57.66V60.86M502.79,46.27V49.47M502.79,34.88V38.08M502.79,23.49V26.69" stroke="#d2d2d2" stroke-width="1" fill="none"/>
<path d="M516.03,126.00V129.20M516.03,114.61V117.81M516.03,103.22V106.42M516.03,91.83V95.03M516.03,80.44V83.64M516.03,69.05V72.25M516.03,57.66V60.86M516.03,46.27V49.47M516.03,34.88V38.08M516.03,23.49V26.69" stroke="#d2d2d2" stroke-width="1" fill="none"/>
<path d="M526.30,126.00V129.20M526.30,114.61V117.81M526.30,103.22V106.42M526.30,91.83V95.03M526.30,80.44V83.64M526.30,69.05V72.25M526.30,57.66V60.86M526.30,46.27V49.47M526.30,34.88V38.08M526.30,23.49V26.69" stroke="#d2d2d2" stroke-width="1" fill="none"/>
<path d="M534.70,126.00V129.20M534.70,114.61V117.81M534.70,103.22V106.42M534.70,91.83V95.03M534.70,80.44V83.64M534.70,69.05V72.25M534.70,57.66V60.86M534.70,46.27V49.47M534.70,34.88V38.08M534.70,23.49V26.69" stroke="#d2d2d2" stroke-width="1" fill="none"/>
<path d="M541.79,126.00V129.20M541.79,114.61V117.81M541.79,103.22V106.42M541.79,91.83V95.03M541.79,80.44V83.64M541.79,69.05V72.25M541.79,57.66V60.86M541.79,46.27V49.47M541.79,34.88V38.08M541.79,23.49V26.69" stroke="#d2d2d2" stroke-width="1" fill="none"/>
<path d="M547.94,126.00V129.20M547.94,114.61V117.81M547.94,103.22V106.42M547.94,91.83V95.03M547.94,80.44V83.64M547.94,69.05V72.25M547.94,57.66V60.86M547.94,46.27V49.47M547.94,34.88V38.08M547.94,23.49V26.69" stroke="#d2d2d2" stroke-width="1" fill="none"/>
<path d="M553.36,126.00V129.20M553.36,114.61V117.81M553.36,103.22V106.42M553.36,91.83V95.03M553.36,80.44V83.64M553.36,69.05V72.25M553.36,57.66V60.86M553.36,46.27V49.47M553.36,34.88V38.08M553.36,23.49V26.69" stroke="#d2d2d2" stroke-width="1" fill="none"/>
<path d="M590.13,126.00V129.20M590.13,114.61V117.81M590.13,103.22V106.42M590.13,91.83V95.03M590.13,80.44V83.64M590.13,69.05V72.25M590.13,57.66V60.86M590.13,46.27V49.47M590.13,34.88V38.08M590.13,23.49V26.69" stroke="#d2d2d2" stroke-width="1" fill="none"/>
<g clip-path="url(#clipb)" fill="none" stroke="#ff0000" stroke-width="1.25" stroke-linejoin="round">
<polyline points="390.5,30.3 392.2,29.9 393.9,29.4 395.5,29.7 397.1,30.4 398.7,31.1 400.4,31.6 402.1,31.9 403.8,32.2 405.5,32.6 407.1,33.0 408.8,33.6 410.4,34.0 412.1,34.3 413.8,34.6 415.4,35.2 417.0,35.9 418.6,36.4 420.1,36.5 421.7,36.9 423.3,37.5 424.9,38.5 426.4,39.4 428.0,40.2 429.6,40.7 431.1,41.2 432.7,41.6 434.2,42.1 435.7,42.5 437.2,43.1 438.8,43.7 440.3,44.5 441.7,45.2 443.1,45.9 444.5,46.5 445.9,47.4 447.3,48.4 448.7,49.4 450.0,50.2 451.3,51.2 452.6,52.2 453.9,53.3 455.2,54.3 456.6,55.5 457.9,56.7 459.2,58.0 460.5,59.3 461.8,60.4 463.1,61.2 464.4,61.9 465.8,62.9 467.2,63.7 468.7,64.6 470.1,65.4 471.6,66.2 472.8,67.2 474.0,68.1 475.2,69.1 476.4,70.5 477.6,72.1 478.9,73.7 480.1,75.0 481.3,76.1 482.5,77.1 483.7,78.2 484.9,79.2 486.1,80.4 487.3,81.8 488.5,83.3 489.7,84.6 490.9,85.7 492.1,86.7 493.3,87.9 494.5,89.0 495.7,90.1 497.0,91.2 498.2,92.3 499.5,93.5 500.8,94.8 502.0,96.1 503.3,97.3 504.5,98.4 505.8,99.4 507.2,100.2 508.7,100.9 510.2,101.6 511.7,102.3 513.2,103.0 514.8,103.7 516.3,104.3 517.8,105.0 519.4,105.6 521.0,106.7 522.7,107.6 524.3,108.2 525.9,108.5 527.6,108.5 529.2,108.4 530.9,108.4 532.5,108.6 534.2,108.9 536.0,109.3 537.6,109.7 539.3,109.9 541.0,110.0 542.7,110.0 544.4,110.0 546.1,110.1 547.8,110.3 549.5,110.3 551.2,110.0 552.9,109.6 554.6,109.3 556.3,109.4 558.0,109.7 559.7,109.8 561.4,109.6 563.1,109.3 564.8,109.2 566.5,109.4 568.2,110.0 569.9,110.6 571.6,110.8 573.3,110.6 575.0,110.2 576.7,110.0 578.4,110.1 580.1,110.4 581.8,110.5 583.5,110.6 585.2,110.5 586.9,110.5 588.6,110.4 590.3,110.0 592.0,109.7 593.7,109.5 595.4,109.6 597.1,110.0 598.8,110.3 600.5,110.3"/>
<polyline points="392.6,30.7 394.4,30.4 396.0,30.8 397.7,31.2 399.3,31.6 401.1,31.9 402.8,32.3 404.6,32.7 406.3,33.2 407.9,33.7 409.6,34.4 411.3,35.2 413.0,35.9 414.8,36.7 416.4,37.4 418.1,37.9 419.7,38.2 421.4,38.6 423.1,39.0 424.8,39.5 426.4,40.0 428.1,40.6 429.8,41.3 431.4,42.1 433.1,42.8 434.8,43.5 436.4,43.9 438.1,44.3 439.6,44.8 441.2,45.5 442.8,46.4 444.3,47.4 445.8,48.2 447.3,49.0 448.7,49.9 450.1,50.7 451.5,51.7 452.8,52.9 454.2,54.1 455.5,55.1 456.7,56.1 457.9,57.0 459.1,58.1 460.3,59.2 461.5,60.3 462.6,61.5 463.6,62.6 464.7,63.8 465.8,64.9 466.8,66.0 468.0,67.1 469.2,68.2 470.4,69.4 471.5,70.7 472.6,72.2 473.6,73.6 474.7,74.8 475.7,75.9 476.8,77.1 477.9,78.3 478.9,79.5 480.1,80.6 481.2,81.7 482.3,82.8 483.4,83.8 484.5,84.8 485.7,85.8 486.9,87.0 488.1,88.2 489.2,89.4 490.4,90.9 491.6,92.4 492.8,93.8 494.2,94.8 495.6,95.6 497.0,96.3 498.4,97.0 499.7,97.7 501.1,98.5 502.4,99.4 503.8,100.5 505.2,101.8 506.6,102.9 508.2,103.5 509.7,104.1 511.3,104.7 512.9,105.3 514.4,105.9 516.0,106.3 517.6,106.8 519.2,107.3 520.9,107.8 522.5,108.1 524.1,108.2 525.8,108.2 527.4,108.2 529.1,108.3 530.8,108.4 532.5,108.6 534.2,109.0 535.9,109.6 537.6,110.0 539.3,110.2 541.0,110.3 542.7,110.3 544.4,110.2 546.1,110.0 547.8,110.0 549.5,110.0 551.2,110.0 552.9,110.1 554.6,110.3 556.3,110.4 558.0,110.5 559.7,110.7 561.4,110.9 563.1,110.9 564.8,111.0 566.5,110.9 568.2,110.9 569.9,110.6 571.6,110.3 573.3,110.0 575.0,109.7 576.7,109.7 578.4,110.0 580.1,110.4 581.8,110.7 583.5,110.8 585.2,110.8 586.9,110.7 588.6,110.3 590.3,110.0 592.0,109.7 593.7,109.5 595.4,109.5 597.1,109.8 598.8,110.0 600.5,110.1"/>
<polyline points="392.2,32.3 393.9,32.1 395.5,31.9 397.1,32.1 398.7,32.4 400.3,32.6 402.0,32.8 403.7,33.1 405.3,33.5 406.9,34.2 408.4,34.8 410.0,35.3 411.6,35.7 413.2,36.1 414.9,36.5 416.5,37.0 418.1,37.4 419.6,37.5 421.3,37.8 422.9,38.3 424.5,38.9 426.1,39.4 427.7,40.1 429.3,40.8 430.9,41.5 432.5,42.0 434.1,42.4 435.7,42.8 437.3,43.2 438.8,43.9 440.4,44.6 441.9,45.5 443.4,46.5 444.9,47.4 446.4,48.3 447.8,49.3 449.2,50.3 450.6,51.2 452.0,52.1 453.3,53.2 454.7,54.2 455.9,55.3 457.2,56.4 458.4,57.6 459.7,59.0 460.9,60.4 462.1,61.7 463.2,62.8 464.4,63.8 465.5,64.9 466.7,66.1 467.9,67.2 469.1,68.2 470.3,69.3 471.5,70.5 472.6,72.0 473.6,73.5 474.7,74.9 475.7,76.1 476.7,77.3 477.8,78.3 478.8,79.5 479.9,80.8 480.9,82.3 482.0,83.7 483.0,85.1 484.1,86.4 485.2,87.7 486.3,89.0 487.4,90.3 488.5,91.6 489.6,92.8 490.7,94.0 491.9,95.2 493.3,96.2 494.7,97.1 496.2,98.0 497.6,99.0 499.0,100.1 500.4,101.1 501.8,102.1 503.2,103.0 504.6,103.8 506.1,104.4 507.7,104.8 509.3,105.3 510.9,105.8 512.5,106.4 514.1,106.9 515.7,107.4 517.3,108.0 519.0,108.6 520.6,110.1 522.3,109.8 524.0,109.3 525.6,108.9 527.3,108.8 529.0,108.9 530.6,109.2 532.3,109.6 534.0,109.9 535.7,110.1 537.4,110.3 539.1,110.4 540.9,110.5 542.5,110.7 544.2,111.0 546.0,111.4 547.7,111.6 549.4,111.5 551.1,111.0 552.8,110.5 554.5,110.3 556.2,110.4 557.9,110.6 559.6,110.6 561.3,110.5 563.0,110.4 564.7,110.4 566.4,110.4 568.1,110.6 569.8,110.9 571.5,111.1 573.2,111.2 574.9,111.0 576.6,110.8 578.3,110.6 580.0,110.3 581.7,110.2 583.5,110.1 585.1,110.1 586.9,110.0 588.6,109.8 590.3,109.8 592.0,109.7 593.7,109.8 595.4,109.9 597.1,110.2 598.8,110.6 600.5,110.9"/>
<polyline points="395.2,33.3 396.8,32.9 398.4,32.9 399.9,33.0 401.5,33.2 403.1,33.5 404.8,33.9 406.4,34.3 407.9,34.9 409.3,35.5 410.8,36.0 412.3,36.6 413.9,37.0 415.5,37.4 417.1,37.9 418.7,38.4 420.2,38.9 421.8,39.3 423.4,39.7 425.0,40.1 426.6,40.5 428.2,41.1 429.8,41.7 431.4,42.2 433.0,42.7 434.6,43.2 436.2,43.9 437.8,44.6 439.4,45.2 440.9,45.8 442.5,46.6 444.0,47.6 445.5,48.5 446.9,49.3 448.4,50.0 449.8,50.7 451.2,51.5 452.6,52.5 454.0,53.5 455.3,54.7 456.6,56.1 457.9,57.4 459.1,58.7 460.4,59.9 461.6,61.0 462.7,62.1 463.8,63.3 464.9,64.7 466.0,66.2 467.1,67.7 468.2,69.1 469.3,70.4 470.4,71.8 471.5,73.1 472.4,74.6 473.4,76.1 474.3,77.6 475.2,79.0 476.2,80.3 477.1,81.6 478.0,83.0 478.9,84.5 479.9,86.1 480.8,87.7 481.7,89.3 482.7,91.0 483.7,92.5 484.7,93.8 485.8,95.0 486.8,96.2 487.8,97.5 488.8,98.9 490.0,100.2 491.5,101.0 493.1,101.8 494.6,102.5 496.2,103.4 497.7,104.3 499.2,105.0 500.7,105.5 502.3,106.1 503.8,106.6 505.4,107.2 507.0,107.5 508.7,107.9 510.4,108.4 512.0,108.9 513.7,109.4 515.4,109.7 517.0,109.8 518.7,109.7 520.4,110.2 522.1,109.9 523.8,109.6 525.5,109.3 527.2,109.3 528.9,109.5 530.5,109.7 532.2,109.8 534.0,109.8 535.7,110.0 537.4,110.1 539.1,110.1 540.8,110.0 542.5,109.8 544.2,109.6 545.9,109.5 547.6,109.5 549.3,109.7 551.0,110.1 552.7,110.7 554.4,111.3 556.1,111.7 557.9,111.6 559.6,111.4 561.3,111.3 563.0,111.4 564.7,111.3 566.4,111.1 568.1,110.8 569.8,110.7 571.5,110.7 573.2,110.9 574.9,111.1 576.6,111.3 578.3,111.4 580.0,111.4 581.8,111.2 583.5,110.8 585.2,110.4 586.9,110.4 588.6,110.6 590.3,110.8 592.0,110.7 593.7,110.4 595.4,110.2 597.1,110.4 598.8,110.7 600.5,111.1"/>
<polyline points="395.1,34.0 396.7,33.5 398.3,33.3 399.9,33.2 401.5,33.1 403.1,33.4 404.8,33.8 406.4,34.1 407.9,34.8 409.4,35.4 410.9,36.1 412.4,36.8 414.1,37.4 415.7,37.8 417.3,38.2 418.9,38.6 420.6,39.2 422.2,39.7 423.8,40.4 425.5,41.0 427.1,41.5 428.8,41.9 430.4,42.4 432.1,42.8 433.7,43.3 435.4,43.8 437.0,44.3 438.6,44.9 440.2,45.7 441.9,46.3 443.4,47.1 445.0,48.1 446.6,49.2 448.1,50.3 449.5,51.5 451.0,52.6 452.4,53.7 453.8,54.7 455.2,55.6 456.6,56.6 457.9,57.6 459.1,58.6 460.4,59.6 461.6,60.7 462.8,62.0 463.8,63.6 464.8,65.3 465.8,67.0 466.8,68.6 467.8,70.0 468.7,71.2 469.7,72.5 470.6,74.0 471.4,75.5 472.3,77.1 473.1,78.5 473.9,79.9 474.7,81.5 475.5,83.3 476.4,85.3 477.2,87.2 478.1,88.9 478.9,90.4 479.8,91.8 480.6,93.2 481.5,94.7 482.5,96.2 483.5,97.8 484.6,99.2 485.6,100.3 486.6,101.5 487.6,102.7 488.8,103.7 490.5,104.0 492.1,104.3 493.8,104.8 495.4,105.2 497.1,105.8 498.7,106.3 500.3,106.7 501.9,107.2 503.5,107.8 505.1,108.2 506.8,108.3 508.5,108.5 510.2,108.7 511.9,109.0 513.6,109.2 515.2,109.7 516.9,110.1 518.6,110.3 520.3,110.3 522.0,110.1 523.7,110.2 525.4,110.6 527.1,110.8 528.8,110.8 530.5,110.5 532.2,110.1 534.0,110.0 535.6,110.1 537.4,110.2 539.1,110.4 540.8,110.6 542.5,110.8 544.2,111.1 545.9,111.5 547.6,111.8 549.3,111.9 551.0,111.7 552.7,111.3 554.4,111.1 556.1,111.0 557.9,110.9 559.6,110.7 561.3,110.4 563.0,110.2 564.7,110.0 566.4,109.9 568.1,109.9 569.8,110.1 571.5,110.4 573.2,110.5 574.9,110.5 576.6,110.5 578.3,110.6 580.0,110.7 581.7,110.7 583.4,110.7 585.1,110.8 586.9,111.2 588.6,111.5 590.3,111.6 592.0,111.5 593.7,111.4 595.4,111.2 597.1,110.8 598.8,110.3 600.5,109.9"/>
<polyline points="395.5,36.9 397.2,36.7 398.9,36.5 400.5,36.3 402.2,35.8 403.9,35.1 405.6,35.0 407.3,35.0 409.0,35.2 410.4,36.3 411.7,37.4 413.1,38.4 414.6,39.2 416.2,39.7 417.8,40.3 419.4,41.0 421.0,41.7 422.7,42.3 424.3,42.8 426.0,43.3 427.7,43.7 429.3,44.0 431.0,44.4 432.6,44.9 434.3,45.3 435.9,45.6 437.6,45.8 439.2,46.0 440.9,46.5 442.4,47.3 444.0,48.3 445.5,49.2 447.1,50.0 448.6,50.8 450.1,51.7 451.4,52.6 452.8,53.6 454.1,54.6 455.5,55.7 456.9,56.7 458.2,57.7 459.4,59.0 460.5,60.5 461.7,61.9 462.8,63.1 463.9,64.2 464.8,65.4 465.6,66.7 466.5,68.3 467.4,70.1 468.2,71.7 469.1,73.1 469.9,74.4 470.6,75.7 471.4,76.8 472.2,78.2 473.0,79.6 473.8,81.3 474.6,83.0 475.4,84.6 476.2,86.1 477.1,87.4 477.9,88.7 478.9,89.9 479.7,91.0 480.6,92.2 481.6,93.6 482.6,95.1 483.7,96.5 484.7,97.9 485.8,99.2 486.8,100.5 487.8,101.8 489.1,102.9 490.7,103.2 492.3,103.6 494.0,104.1 495.6,104.7 497.2,105.4 498.8,106.0 500.3,106.5 501.9,106.9 503.5,107.4 505.1,107.9 506.8,108.2 508.4,108.6 510.1,109.1 511.8,109.4 513.5,109.5 515.2,109.7 516.9,109.9 518.6,110.2 520.2,110.1 522.0,110.3 523.7,110.5 525.4,110.7 527.1,110.7 528.8,110.8 530.5,111.0 532.2,111.3 533.9,111.5 535.6,111.7 537.3,111.8 539.0,111.9 540.7,112.0 542.4,112.0 544.1,112.0 545.8,112.0 547.5,111.7 549.3,111.4 551.0,111.0 552.7,110.8 554.4,110.7 556.1,110.8 557.8,110.9 559.5,111.1 561.2,111.1 562.9,111.1 564.6,111.1 566.3,111.0 568.0,110.8 569.8,110.8 571.5,110.9 573.2,111.2 574.9,111.3 576.6,111.0 578.3,110.5 580.0,110.1 581.7,109.8 583.4,109.7 585.1,109.7 586.8,109.7 588.5,109.9 590.2,110.2 592.0,110.5 593.7,110.6 595.4,110.4 597.1,110.1 598.8,109.7 600.5,109.5"/>
<polyline points="466.0,66.0 471.0,74.0 476.0,82.0 478.0,88.0 481.0,87.0 484.0,96.0 488.0,104.0 494.0,106.0 500.0,108.0 505.0,112.0 509.0,120.0 512.0,122.0 515.0,119.0 518.0,105.0 521.0,112.0 525.0,119.8 528.0,113.0 532.0,110.0 536.0,115.0 540.0,119.5 543.0,116.0 547.0,111.0 555.0,110.0"/>
<polyline points="480.0,90.0 486.0,100.0 495.0,104.0 503.0,108.0 508.0,116.0 511.0,121.0 514.0,118.0 517.0,108.0 520.0,106.0 524.0,116.0 527.0,118.0 531.0,111.0 537.0,113.0 541.0,117.0 545.0,112.0 552.0,110.0"/>
</g>
<line x1="346.20" y1="80.38" x2="600.4" y2="80.38" stroke="#111" stroke-width="1.8" stroke-dasharray="1.8 4.413"/>
<rect x="346.2" y="13.4" width="254.2" height="115.69999999999999" fill="none" stroke="#4d4d4d" stroke-width="1.1"/>
<line x1="346.2" y1="110.83" x2="348.8" y2="110.83" stroke="#4d4d4d" stroke-width="1"/>
<line x1="600.4" y1="110.83" x2="597.8" y2="110.83" stroke="#4d4d4d" stroke-width="1"/>
<text x="344.40" y="115.73" text-anchor="end" font-size="11.7" fill="#383838">0</text>
<line x1="346.2" y1="80.38" x2="348.8" y2="80.38" stroke="#4d4d4d" stroke-width="1"/>
<line x1="600.4" y1="80.38" x2="597.8" y2="80.38" stroke="#4d4d4d" stroke-width="1"/>
<text x="344.40" y="85.28" text-anchor="end" font-size="11.7" fill="#383838">50</text>
<line x1="346.2" y1="49.94" x2="348.8" y2="49.94" stroke="#4d4d4d" stroke-width="1"/>
<line x1="600.4" y1="49.94" x2="597.8" y2="49.94" stroke="#4d4d4d" stroke-width="1"/>
<text x="344.40" y="54.84" text-anchor="end" font-size="11.7" fill="#383838">100</text>
<line x1="346.2" y1="19.49" x2="348.8" y2="19.49" stroke="#4d4d4d" stroke-width="1"/>
<line x1="600.4" y1="19.49" x2="597.8" y2="19.49" stroke="#4d4d4d" stroke-width="1"/>
<text x="344.40" y="24.39" text-anchor="end" font-size="11.7" fill="#383838">150</text>
<line x1="346.20" y1="129.1" x2="346.20" y2="126.5" stroke="#4d4d4d" stroke-width="1"/>
<line x1="346.20" y1="13.4" x2="346.20" y2="16.0" stroke="#4d4d4d" stroke-width="1"/>
<text x="346.80" y="145.90" text-anchor="middle" font-size="11.7" fill="#383838">10<tspan font-size="8.8" dy="-4.5">1</tspan></text>
<line x1="452.21" y1="129.1" x2="452.21" y2="126.5" stroke="#4d4d4d" stroke-width="1"/>
<line x1="452.21" y1="13.4" x2="452.21" y2="16.0" stroke="#4d4d4d" stroke-width="1"/>
<text x="452.81" y="145.90" text-anchor="middle" font-size="11.7" fill="#383838">10<tspan font-size="8.8" dy="-4.5">2</tspan></text>
<line x1="558.22" y1="129.1" x2="558.22" y2="126.5" stroke="#4d4d4d" stroke-width="1"/>
<line x1="558.22" y1="13.4" x2="558.22" y2="16.0" stroke="#4d4d4d" stroke-width="1"/>
<text x="558.82" y="145.90" text-anchor="middle" font-size="11.7" fill="#383838">10<tspan font-size="8.8" dy="-4.5">3</tspan></text>
<line x1="378.11" y1="129.1" x2="378.11" y2="127.3" stroke="#4d4d4d" stroke-width="1"/>
<line x1="378.11" y1="13.4" x2="378.11" y2="15.200000000000001" stroke="#4d4d4d" stroke-width="1"/>
<line x1="396.78" y1="129.1" x2="396.78" y2="127.3" stroke="#4d4d4d" stroke-width="1"/>
<line x1="396.78" y1="13.4" x2="396.78" y2="15.200000000000001" stroke="#4d4d4d" stroke-width="1"/>
<line x1="410.02" y1="129.1" x2="410.02" y2="127.3" stroke="#4d4d4d" stroke-width="1"/>
<line x1="410.02" y1="13.4" x2="410.02" y2="15.200000000000001" stroke="#4d4d4d" stroke-width="1"/>
<line x1="420.30" y1="129.1" x2="420.30" y2="127.3" stroke="#4d4d4d" stroke-width="1"/>
<line x1="420.30" y1="13.4" x2="420.30" y2="15.200000000000001" stroke="#4d4d4d" stroke-width="1"/>
<line x1="428.69" y1="129.1" x2="428.69" y2="127.3" stroke="#4d4d4d" stroke-width="1"/>
<line x1="428.69" y1="13.4" x2="428.69" y2="15.200000000000001" stroke="#4d4d4d" stroke-width="1"/>
<line x1="435.79" y1="129.1" x2="435.79" y2="127.3" stroke="#4d4d4d" stroke-width="1"/>
<line x1="435.79" y1="13.4" x2="435.79" y2="15.200000000000001" stroke="#4d4d4d" stroke-width="1"/>
<line x1="441.93" y1="129.1" x2="441.93" y2="127.3" stroke="#4d4d4d" stroke-width="1"/>
<line x1="441.93" y1="13.4" x2="441.93" y2="15.200000000000001" stroke="#4d4d4d" stroke-width="1"/>
<line x1="447.36" y1="129.1" x2="447.36" y2="127.3" stroke="#4d4d4d" stroke-width="1"/>
<line x1="447.36" y1="13.4" x2="447.36" y2="15.200000000000001" stroke="#4d4d4d" stroke-width="1"/>
<line x1="484.12" y1="129.1" x2="484.12" y2="127.3" stroke="#4d4d4d" stroke-width="1"/>
<line x1="484.12" y1="13.4" x2="484.12" y2="15.200000000000001" stroke="#4d4d4d" stroke-width="1"/>
<line x1="502.79" y1="129.1" x2="502.79" y2="127.3" stroke="#4d4d4d" stroke-width="1"/>
<line x1="502.79" y1="13.4" x2="502.79" y2="15.200000000000001" stroke="#4d4d4d" stroke-width="1"/>
<line x1="516.03" y1="129.1" x2="516.03" y2="127.3" stroke="#4d4d4d" stroke-width="1"/>
<line x1="516.03" y1="13.4" x2="516.03" y2="15.200000000000001" stroke="#4d4d4d" stroke-width="1"/>
<line x1="526.30" y1="129.1" x2="526.30" y2="127.3" stroke="#4d4d4d" stroke-width="1"/>
<line x1="526.30" y1="13.4" x2="526.30" y2="15.200000000000001" stroke="#4d4d4d" stroke-width="1"/>
<line x1="534.70" y1="129.1" x2="534.70" y2="127.3" stroke="#4d4d4d" stroke-width="1"/>
<line x1="534.70" y1="13.4" x2="534.70" y2="15.200000000000001" stroke="#4d4d4d" stroke-width="1"/>
<line x1="541.79" y1="129.1" x2="541.79" y2="127.3" stroke="#4d4d4d" stroke-width="1"/>
<line x1="541.79" y1="13.4" x2="541.79" y2="15.200000000000001" stroke="#4d4d4d" stroke-width="1"/>
<line x1="547.94" y1="129.1" x2="547.94" y2="127.3" stroke="#4d4d4d" stroke-width="1"/>
<line x1="547.94" y1="13.4" x2="547.94" y2="15.200000000000001" stroke="#4d4d4d" stroke-width="1"/>
<line x1="553.36" y1="129.1" x2="553.36" y2="127.3" stroke="#4d4d4d" stroke-width="1"/>
<line x1="553.36" y1="13.4" x2="553.36" y2="15.200000000000001" stroke="#4d4d4d" stroke-width="1"/>
<line x1="590.13" y1="129.1" x2="590.13" y2="127.3" stroke="#4d4d4d" stroke-width="1"/>
<line x1="590.13" y1="13.4" x2="590.13" y2="15.200000000000001" stroke="#4d4d4d" stroke-width="1"/>
<text x="474.00" y="159.70" text-anchor="middle" font-size="11.9" fill="#383838">spatial frequeny / (1 / mm)</text>
<text transform="translate(320.80,70.75) rotate(-90)" x="0" y="0" text-anchor="middle" font-size="11.8" fill="#383838">amplitude transmission / %</text>
<text x="475.00" y="9.70" text-anchor="middle" font-size="11.9" font-weight="bold" fill="#000" stroke="#000" stroke-width="0.25">b) ASG sample evaluation WLI 20x</text>
<clipPath id="clipc"><rect x="35.2" y="200.3" width="255.0" height="115.5"/></clipPath>
<line x1="35.2" y1="297.56" x2="290.2" y2="297.56" stroke="#ececec" stroke-width="1"/>
<line x1="35.2" y1="267.17" x2="290.2" y2="267.17" stroke="#ececec" stroke-width="1"/>
<line x1="35.2" y1="236.77" x2="290.2" y2="236.77" stroke="#ececec" stroke-width="1"/>
<line x1="35.2" y1="206.38" x2="290.2" y2="206.38" stroke="#ececec" stroke-width="1"/>
<line x1="141.54" y1="200.3" x2="141.54" y2="315.8" stroke="#ececec" stroke-width="1"/>
<line x1="247.88" y1="200.3" x2="247.88" y2="315.8" stroke="#ececec" stroke-width="1"/>
<path d="M67.21,312.70V315.90M67.21,301.31V304.51M67.21,289.92V293.12M67.21,278.53V281.73M67.21,267.14V270.34M67.21,255.75V258.95M67.21,244.36V247.56M67.21,232.97V236.17M67.21,221.58V224.78M67.21,210.19V213.39" stroke="#d2d2d2" stroke-width="1" fill="none"/>
<path d="M85.94,312.70V315.90M85.94,301.31V304.51M85.94,289.92V293.12M85.94,278.53V281.73M85.94,267.14V270.34M85.94,255.75V258.95M85.94,244.36V247.56M85.94,232.97V236.17M85.94,221.58V224.78M85.94,210.19V213.39" stroke="#d2d2d2" stroke-width="1" fill="none"/>
<path d="M99.22,312.70V315.90M99.22,301.31V304.51M99.22,289.92V293.12M99.22,278.53V281.73M99.22,267.14V270.34M99.22,255.75V258.95M99.22,244.36V247.56M99.22,232.97V236.17M99.22,221.58V224.78M99.22,210.19V213.39" stroke="#d2d2d2" stroke-width="1" fill="none"/>
<path d="M109.53,312.70V315.90M109.53,301.31V304.51M109.53,289.92V293.12M109.53,278.53V281.73M109.53,267.14V270.34M109.53,255.75V258.95M109.53,244.36V247.56M109.53,232.97V236.17M109.53,221.58V224.78M109.53,210.19V213.39" stroke="#d2d2d2" stroke-width="1" fill="none"/>
<path d="M117.95,312.70V315.90M117.95,301.31V304.51M117.95,289.92V293.12M117.95,278.53V281.73M117.95,267.14V270.34M117.95,255.75V258.95M117.95,244.36V247.56M117.95,232.97V236.17M117.95,221.58V224.78M117.95,210.19V213.39" stroke="#d2d2d2" stroke-width="1" fill="none"/>
<path d="M125.07,312.70V315.90M125.07,301.31V304.51M125.07,289.92V293.12M125.07,278.53V281.73M125.07,267.14V270.34M125.07,255.75V258.95M125.07,244.36V247.56M125.07,232.97V236.17M125.07,221.58V224.78M125.07,210.19V213.39" stroke="#d2d2d2" stroke-width="1" fill="none"/>
<path d="M131.24,312.70V315.90M131.24,301.31V304.51M131.24,289.92V293.12M131.24,278.53V281.73M131.24,267.14V270.34M131.24,255.75V258.95M131.24,244.36V247.56M131.24,232.97V236.17M131.24,221.58V224.78M131.24,210.19V213.39" stroke="#d2d2d2" stroke-width="1" fill="none"/>
<path d="M136.68,312.70V315.90M136.68,301.31V304.51M136.68,289.92V293.12M136.68,278.53V281.73M136.68,267.14V270.34M136.68,255.75V258.95M136.68,244.36V247.56M136.68,232.97V236.17M136.68,221.58V224.78M136.68,210.19V213.39" stroke="#d2d2d2" stroke-width="1" fill="none"/>
<path d="M173.55,312.70V315.90M173.55,301.31V304.51M173.55,289.92V293.12M173.55,278.53V281.73M173.55,267.14V270.34M173.55,255.75V258.95M173.55,244.36V247.56M173.55,232.97V236.17M173.55,221.58V224.78M173.55,210.19V213.39" stroke="#d2d2d2" stroke-width="1" fill="none"/>
<path d="M192.28,312.70V315.90M192.28,301.31V304.51M192.28,289.92V293.12M192.28,278.53V281.73M192.28,267.14V270.34M192.28,255.75V258.95M192.28,244.36V247.56M192.28,232.97V236.17M192.28,221.58V224.78M192.28,210.19V213.39" stroke="#d2d2d2" stroke-width="1" fill="none"/>
<path d="M205.57,312.70V315.90M205.57,301.31V304.51M205.57,289.92V293.12M205.57,278.53V281.73M205.57,267.14V270.34M205.57,255.75V258.95M205.57,244.36V247.56M205.57,232.97V236.17M205.57,221.58V224.78M205.57,210.19V213.39" stroke="#d2d2d2" stroke-width="1" fill="none"/>
<path d="M215.87,312.70V315.90M215.87,301.31V304.51M215.87,289.92V293.12M215.87,278.53V281.73M215.87,267.14V270.34M215.87,255.75V258.95M215.87,244.36V247.56M215.87,232.97V236.17M215.87,221.58V224.78M215.87,210.19V213.39" stroke="#d2d2d2" stroke-width="1" fill="none"/>
<path d="M224.29,312.70V315.90M224.29,301.31V304.51M224.29,289.92V293.12M224.29,278.53V281.73M224.29,267.14V270.34M224.29,255.75V258.95M224.29,244.36V247.56M224.29,232.97V236.17M224.29,221.58V224.78M224.29,210.19V213.39" stroke="#d2d2d2" stroke-width="1" fill="none"/>
<path d="M231.41,312.70V315.90M231.41,301.31V304.51M231.41,289.92V293.12M231.41,278.53V281.73M231.41,267.14V270.34M231.41,255.75V258.95M231.41,244.36V247.56M231.41,232.97V236.17M231.41,221.58V224.78M231.41,210.19V213.39" stroke="#d2d2d2" stroke-width="1" fill="none"/>
<path d="M237.58,312.70V315.90M237.58,301.31V304.51M237.58,289.92V293.12M237.58,278.53V281.73M237.58,267.14V270.34M237.58,255.75V258.95M237.58,244.36V247.56M237.58,232.97V236.17M237.58,221.58V224.78M237.58,210.19V213.39" stroke="#d2d2d2" stroke-width="1" fill="none"/>
<path d="M243.02,312.70V315.90M243.02,301.31V304.51M243.02,289.92V293.12M243.02,278.53V281.73M243.02,267.14V270.34M243.02,255.75V258.95M243.02,244.36V247.56M243.02,232.97V236.17M243.02,221.58V224.78M243.02,210.19V213.39" stroke="#d2d2d2" stroke-width="1" fill="none"/>
<path d="M279.89,312.70V315.90M279.89,301.31V304.51M279.89,289.92V293.12M279.89,278.53V281.73M279.89,267.14V270.34M279.89,255.75V258.95M279.89,244.36V247.56M279.89,232.97V236.17M279.89,221.58V224.78M279.89,210.19V213.39" stroke="#d2d2d2" stroke-width="1" fill="none"/>
<g clip-path="url(#clipc)" fill="none" stroke="#0000ff" stroke-width="1.25" stroke-linejoin="round">
<polyline points="83.0,223.7 84.6,222.9 86.3,222.2 87.9,221.2 89.5,220.1 91.2,219.8 92.8,219.9 94.4,219.9 96.1,220.4 97.7,220.2 99.4,220.0 101.0,220.2 102.7,220.4 104.3,220.7 106.0,219.9 107.7,220.0 109.3,220.4 111.0,220.4 112.6,220.7 114.3,219.8 116.0,219.8 117.6,219.9 119.2,220.6 120.8,220.9 122.4,222.0 124.0,221.7 125.6,221.5 127.2,221.3 128.8,221.6 130.4,222.3 132.0,223.1 133.6,224.0 135.2,224.9 136.8,225.2 138.3,225.6 139.9,226.7 141.4,227.8 142.9,228.9 144.4,229.9 146.0,230.6 147.5,230.8 149.0,230.9 150.5,231.7 152.0,232.7 153.5,233.0 155.0,233.4 156.5,233.7 158.0,234.4 159.4,234.5 160.8,236.1 162.3,237.2 163.7,237.5 165.1,238.7 166.6,239.3 168.0,239.7 169.5,240.6 170.9,241.3 172.3,242.7 173.7,243.9 175.1,243.8 176.6,245.1 178.0,245.7 179.5,247.0 181.0,247.4 182.6,247.4 184.0,248.4 185.5,247.8 186.9,248.8 188.4,249.8 189.9,250.9 191.1,252.8 192.3,255.0 193.6,257.1 194.8,258.7 196.1,259.6 197.3,259.8 198.4,259.9 199.5,260.7 200.5,262.3 201.6,264.2 202.6,266.1 203.6,267.8 204.7,269.5 205.7,270.8 206.7,271.5 207.8,272.1 208.8,273.3 209.8,275.5 210.9,278.1 211.9,280.3 213.0,281.7 214.0,282.3 215.3,282.5 216.6,282.8 217.9,283.2 219.2,283.9 220.4,285.1 221.7,286.6 223.3,287.8 224.9,288.9 226.5,289.5 228.1,289.1 229.7,287.7 231.3,286.1 233.0,285.4 234.7,285.8 236.3,286.8 238.0,288.0 239.7,289.1 241.2,290.0 242.8,290.0 244.4,289.6 246.0,289.5 247.5,289.9 249.1,290.6 250.7,291.1 252.4,291.6 254.1,292.2 255.7,292.9 257.4,293.4 259.0,293.2 260.7,292.4 262.3,291.6 264.0,291.3 265.6,291.6 267.3,292.0 268.9,291.9 270.6,291.3 272.3,290.6 273.9,290.1 275.6,290.1 277.2,290.9 278.9,292.3 280.6,293.2 282.2,293.0 283.9,292.0 285.5,291.3 287.2,291.4 288.8,291.9 290.5,292.3"/>
<polyline points="84.7,224.7 86.3,223.8 88.0,222.6 89.6,222.6 91.3,222.8 93.0,222.7 94.6,222.7 96.3,222.2 97.9,222.0 99.6,221.2 101.3,221.4 103.0,220.5 104.6,220.4 106.3,219.9 108.0,219.8 109.6,220.1 111.3,220.8 113.0,221.2 114.6,222.1 116.2,222.5 117.8,222.4 119.4,222.9 121.0,222.7 122.6,222.7 124.2,223.0 125.8,222.5 127.4,222.4 129.0,222.9 130.5,223.5 132.0,223.8 133.6,224.3 135.2,225.0 136.7,225.7 138.3,225.8 140.0,226.3 141.6,227.1 143.2,227.4 144.7,228.2 146.3,228.8 147.8,229.2 149.4,229.8 150.9,230.3 152.4,231.4 154.0,232.2 155.5,233.1 157.1,233.6 158.6,233.1 160.1,233.3 161.6,234.6 163.0,235.8 164.4,236.8 165.9,237.5 167.3,237.4 168.7,237.6 170.2,238.6 171.5,239.4 172.8,241.4 174.0,242.5 175.3,243.8 176.5,245.2 177.7,246.8 178.8,248.4 180.1,249.5 181.3,251.3 182.5,252.9 183.7,254.5 184.9,256.2 186.0,259.4 187.2,260.7 188.1,261.8 189.1,262.9 190.1,264.4 191.1,266.3 192.1,268.1 193.1,270.0 194.1,271.9 195.0,274.0 195.9,275.9 196.9,277.4 197.9,278.4 199.0,279.1 200.1,279.7 201.2,280.2 202.3,280.9 203.5,281.8 204.8,282.8 206.0,284.1 207.3,285.4 208.6,286.3 210.0,286.9 211.4,287.7 212.8,288.7 214.3,289.4 215.8,289.7 217.4,290.0 218.9,290.7 220.4,291.4 222.0,291.7 223.7,292.1 225.3,292.6 227.0,293.3 228.7,294.2 230.3,294.9 232.0,295.7 233.7,296.0 235.4,295.6 237.1,294.9 238.8,294.2 240.5,293.9 242.1,293.8 243.7,294.1 245.4,294.6 247.0,295.0 248.7,295.3 250.3,295.7 252.0,296.0 253.7,295.9 255.3,295.4 257.0,294.7 258.7,294.1 260.4,293.7 262.1,293.5 263.7,293.6 265.4,293.9 267.1,294.2 268.7,294.2 270.4,294.1 272.1,293.7 273.8,293.2 275.4,292.8 277.1,292.6 278.8,292.6 280.5,292.7 282.1,293.1 283.8,293.6 285.5,294.2 287.1,294.9 288.8,295.5 290.5,295.9"/>
<polyline points="89.6,222.4 91.2,222.4 92.9,222.2 94.5,222.2 96.2,222.2 97.8,221.9 99.5,221.8 101.2,221.1 102.8,220.3 104.5,220.0 106.2,219.9 107.8,220.0 109.5,220.2 111.2,220.3 112.9,220.8 114.5,220.7 116.2,221.0 117.8,221.1 119.4,222.0 121.0,222.4 122.6,223.3 124.2,224.1 125.9,224.6 127.5,224.5 129.1,225.1 130.6,225.8 132.0,226.5 133.5,226.9 134.9,227.7 136.3,228.1 137.8,229.1 139.2,229.9 140.6,230.8 142.0,231.7 143.4,232.8 144.9,233.6 146.3,233.9 147.7,234.6 149.2,235.1 150.6,235.9 152.0,237.3 153.4,238.4 154.8,239.8 156.1,240.8 157.5,242.7 158.8,244.1 160.1,245.7 161.4,246.1 162.7,246.4 164.0,246.7 165.3,247.5 166.6,248.1 167.9,249.2 169.2,251.0 170.4,253.0 171.8,255.0 173.0,255.3 174.3,256.1 175.6,257.1 176.9,258.3 178.2,259.2 179.6,260.9 180.9,262.4 182.3,263.9 183.6,264.6 185.0,266.2 186.3,266.8 187.6,267.0 188.9,267.1 190.3,267.1 191.6,267.0 193.0,267.5 194.2,268.8 195.5,270.6 196.7,272.2 198.0,272.9 199.3,273.0 200.6,273.1 201.9,273.7 203.1,274.7 204.4,275.8 205.7,276.9 207.0,277.9 208.3,278.6 209.6,278.9 210.8,278.9 212.1,279.1 213.3,279.8 214.7,281.1 216.1,282.7 217.5,284.0 218.9,284.5 220.2,284.6 221.6,284.9 223.2,285.3 224.8,285.8 226.5,286.1 228.1,286.3 229.7,286.9 231.3,287.4 233.0,287.6 234.7,287.2 236.3,286.6 238.0,285.6 239.7,284.5 241.2,284.4 242.8,285.0 244.4,286.0 246.0,287.3 247.5,288.8 249.1,290.2 250.7,291.1 252.4,291.4 254.1,291.7 255.7,292.0 257.4,292.2 259.0,292.4 260.7,292.7 262.3,293.0 264.0,293.2 265.6,293.0 267.3,292.4 268.9,291.6 270.6,290.9 272.3,290.8 273.9,291.2 275.6,291.9 277.2,292.6 278.9,293.5 280.6,294.5 282.2,295.4 283.9,296.2 285.5,296.6 287.2,296.7 288.8,296.2 290.5,295.3"/>
<polyline points="91.3,223.1 93.0,223.3 94.7,223.2 96.3,223.7 98.0,223.8 99.7,223.8 101.4,223.3 103.1,222.6 104.8,222.2 106.5,220.9 108.2,220.4 109.9,221.5 111.6,222.6 113.3,223.2 115.0,223.1 116.7,223.0 118.3,223.3 119.9,223.6 121.5,224.4 123.1,225.4 124.7,226.0 126.3,227.4 128.0,227.7 129.6,229.0 130.8,230.7 132.0,231.7 133.2,232.8 134.4,234.2 135.5,235.6 136.7,237.0 137.8,237.8 138.9,239.0 140.1,240.2 141.4,241.8 142.7,242.8 144.0,243.5 145.3,244.6 146.7,245.9 148.0,247.4 149.3,248.3 150.5,249.3 151.7,250.5 152.9,250.8 154.1,251.9 155.3,253.8 156.5,255.3 157.7,256.6 158.9,257.9 160.1,259.3 161.3,261.0 162.5,262.1 163.8,263.3 165.0,263.7 166.2,264.9 167.5,266.3 168.8,267.2 170.1,268.3 171.3,269.1 172.5,270.0 173.7,270.9 175.0,271.4 176.2,271.8 177.5,272.7 178.8,273.8 180.1,274.9 181.4,276.0 182.8,277.0 184.2,277.5 185.6,277.8 187.0,279.1 188.4,280.9 189.8,282.6 191.1,283.6 192.5,283.7 193.9,283.3 195.4,282.9 196.8,282.9 198.2,283.2 199.6,283.8 201.1,284.7 202.6,285.8 204.1,287.1 205.6,288.7 207.0,290.1 208.4,290.2 209.9,288.8 211.4,287.2 212.9,286.2 214.5,285.9 216.0,285.9 217.5,286.3 219.0,287.4 220.5,289.1 222.1,290.3 223.8,291.3 225.4,292.1 227.1,292.7 228.8,293.2 230.4,293.4 232.1,293.5 233.8,293.5 235.5,293.1 237.1,292.4 238.8,291.6 240.4,291.4 242.1,291.6 243.7,292.4 245.3,293.4 246.9,294.3 248.6,294.8 250.2,294.8 251.9,294.4 253.6,293.9 255.2,293.4 256.9,292.9 258.6,292.2 260.3,291.2 261.9,290.5 263.6,290.7 265.3,291.7 267.0,293.0 268.6,294.1 270.3,295.0 272.0,295.9 273.7,296.9 275.4,297.7 277.0,298.1 278.7,298.1 280.4,297.9 282.1,297.5 283.8,296.8 285.4,295.8 287.1,294.9 288.8,294.7 290.5,295.3"/>
<polyline points="93.0,223.4 94.7,223.6 96.4,224.3 98.1,223.9 99.8,223.8 101.5,223.3 103.2,222.8 104.9,222.5 106.6,223.1 108.3,223.7 110.0,223.8 111.7,223.7 113.4,223.2 115.1,223.2 116.7,223.3 118.3,224.2 119.9,224.3 121.5,224.8 123.1,224.7 124.7,225.5 126.3,225.9 127.9,225.9 129.5,226.6 130.8,228.0 132.0,229.3 133.3,230.7 134.6,231.6 135.8,232.8 137.1,233.5 138.5,234.5 139.8,235.7 141.2,236.8 142.7,237.6 144.2,237.5 145.7,237.6 147.2,237.3 148.7,237.3 150.2,238.1 151.7,239.2 153.2,240.0 154.7,241.3 156.2,241.4 157.7,241.4 159.1,241.7 160.5,242.3 162.0,242.6 163.4,244.1 164.8,245.2 166.2,246.2 167.7,246.6 169.0,246.9 170.4,247.5 171.7,248.0 173.1,249.3 174.4,250.5 175.7,252.4 177.0,253.5 178.3,255.0 179.6,255.8 181.0,256.5 182.3,257.1 183.6,258.0 184.9,259.4 186.1,258.4 187.3,260.0 188.4,262.1 189.6,264.3 190.7,266.4 191.9,268.1 193.0,269.3 194.1,270.2 195.1,271.0 196.1,272.0 197.2,273.1 198.3,274.5 199.4,276.0 200.5,277.4 201.7,278.6 202.8,279.6 204.0,280.8 205.3,282.3 206.5,283.5 207.8,284.2 209.1,284.9 210.4,286.4 211.7,288.7 213.2,290.9 214.6,292.0 216.1,292.1 217.6,291.6 219.0,291.0 220.5,290.9 222.1,291.0 223.8,291.4 225.4,292.1 227.1,293.1 228.7,294.1 230.4,294.7 232.1,294.9 233.7,294.3 235.4,293.4 237.1,292.7 238.8,292.0 240.4,291.5 242.0,291.1 243.7,291.3 245.3,291.9 246.9,292.6 248.6,293.2 250.2,293.2 251.9,292.4 253.5,291.2 255.2,290.5 256.9,290.5 258.6,291.1 260.2,291.9 261.9,292.7 263.6,293.9 265.2,295.0 266.9,295.6 268.6,295.8 270.3,296.0 271.9,296.4 273.6,297.0 275.3,297.4 277.0,297.3 278.7,296.9 280.4,296.5 282.0,296.1 283.7,295.7 285.4,295.7 287.1,296.1 288.8,296.8 290.5,297.4"/>
<polyline points="91.4,224.4 93.1,223.9 94.7,224.2 96.4,224.1 98.1,224.1 99.8,224.1 101.5,224.2 103.2,223.6 104.8,223.7 106.5,223.7 108.2,224.0 109.9,223.4 111.6,222.9 113.3,222.6 115.0,222.9 116.6,223.2 118.2,223.3 119.8,224.3 121.4,225.4 123.0,226.2 124.6,226.2 126.2,226.7 127.8,227.2 129.4,227.1 130.8,228.3 132.0,229.9 133.3,231.2 134.5,232.4 135.7,233.1 136.9,233.5 138.1,234.9 139.3,236.5 140.5,237.8 141.8,239.5 143.1,240.9 144.4,243.0 145.7,244.3 147.0,246.1 148.2,246.5 149.5,247.1 150.7,248.0 151.9,249.5 153.0,251.2 154.2,252.7 155.3,254.0 156.5,255.3 157.7,256.4 158.9,257.4 160.1,259.2 161.2,260.4 162.4,261.8 163.6,262.9 164.8,264.4 166.1,265.3 167.3,266.8 168.5,268.8 169.8,269.9 170.9,270.4 172.1,270.1 173.3,270.8 174.6,271.5 175.9,272.4 177.2,273.3 178.5,274.9 179.8,275.6 181.1,276.3 182.6,277.2 184.0,277.1 185.5,276.3 186.9,276.7 188.4,277.5 189.8,278.6 191.2,279.7 192.6,280.8 194.1,281.9 195.6,283.1 197.0,284.2 198.4,285.2 199.9,286.0 201.3,286.8 202.8,287.7 204.2,288.6 205.7,289.0 207.1,288.7 208.5,287.8 209.9,286.8 211.3,286.9 212.8,288.1 214.3,289.6 215.8,290.5 217.3,290.6 218.8,290.6 220.3,290.9 221.9,291.1 223.5,291.1 225.2,291.0 226.8,290.8 228.4,290.9 230.0,291.2 231.7,291.9 233.3,292.7 235.0,293.3 236.6,293.8 238.3,294.8 239.9,296.2 241.5,297.3 243.2,297.9 244.8,298.2 246.4,298.5 248.1,298.9 249.8,299.1 251.4,299.0 253.1,298.5 254.8,298.0 256.4,297.9 258.1,298.1 259.8,298.4 261.4,298.5 263.1,298.6 264.8,298.3 266.5,297.7 268.2,296.9 269.9,296.2 271.6,295.9 273.3,295.7 275.0,295.7 276.8,295.6 278.5,295.6 280.2,295.7 281.9,296.2 283.6,296.9 285.3,297.4 287.1,297.3 288.8,296.9 290.5,296.4"/>
<polyline points="91.5,225.5 93.2,225.4 94.9,226.0 96.6,226.3 98.3,226.3 100.0,225.7 101.7,225.8 103.4,225.4 105.1,225.0 106.8,224.6 108.5,224.2 110.2,224.4 112.0,224.6 113.7,224.7 115.3,224.6 117.0,224.9 118.5,225.4 120.1,225.6 121.7,225.9 123.3,226.4 124.9,226.6 126.5,227.8 128.0,229.3 129.6,230.3 130.9,231.2 132.0,232.7 133.2,233.7 134.3,235.0 135.4,236.6 136.6,236.5 137.8,237.2 138.9,237.7 140.2,238.8 141.5,240.0 142.9,240.8 144.3,241.9 145.7,242.6 147.1,243.4 148.5,245.0 149.9,245.9 151.3,246.5 152.6,246.9 153.9,247.5 155.2,248.6 156.6,249.4 157.9,250.7 159.2,250.8 160.6,251.9 161.9,253.3 163.2,254.3 164.6,256.1 165.9,257.1 167.2,257.7 168.6,257.8 169.9,258.2 171.2,258.8 172.5,260.1 173.8,261.4 175.1,262.9 176.4,263.6 177.6,263.9 178.9,264.5 180.2,265.4 181.5,266.8 182.8,267.0 184.0,268.4 185.2,268.8 186.5,269.8 187.7,271.2 189.0,273.4 190.2,275.8 191.4,277.9 192.5,279.5 193.7,281.2 194.9,283.2 196.1,284.7 197.3,285.3 198.6,285.2 199.8,285.3 201.0,285.7 202.4,286.3 203.7,287.0 205.1,287.8 206.4,288.7 207.8,289.5 209.2,290.2 210.7,290.9 212.2,291.1 213.7,291.1 215.2,291.1 216.8,291.4 218.3,292.4 219.8,293.9 221.5,295.0 223.1,295.6 224.8,295.6 226.4,295.1 228.0,294.5 229.7,293.8 231.4,293.5 233.0,293.4 234.7,293.1 236.4,293.0 238.0,293.2 239.7,293.7 241.4,294.0 243.0,294.0 244.7,293.9 246.4,294.0 248.0,294.3 249.7,294.8 251.4,295.0 253.1,294.9 254.8,294.5 256.5,294.3 258.1,294.6 259.8,295.4 261.5,296.6 263.2,297.7 264.9,298.1 266.6,297.8 268.3,297.4 270.0,297.0 271.7,296.6 273.4,296.1 275.1,295.4 276.8,294.7 278.5,294.3 280.2,294.5 281.9,295.4 283.6,296.6 285.4,297.8 287.1,298.9 288.8,299.9 290.5,300.5"/>
<polyline points="93.1,223.9 94.8,224.1 96.5,224.7 98.2,224.8 99.9,225.0 101.6,225.3 103.4,225.0 105.1,225.1 106.8,225.6 108.6,226.0 110.3,226.5 112.1,226.2 113.8,226.3 115.5,225.8 117.2,226.1 118.8,227.0 120.3,227.8 121.9,228.1 123.5,228.7 125.0,230.0 126.5,230.6 128.0,232.1 129.5,233.7 130.7,235.0 131.9,235.6 133.1,237.4 134.2,238.8 135.4,240.7 136.6,241.5 137.7,242.3 138.8,243.5 140.0,244.7 141.2,245.4 142.5,246.6 143.8,246.3 145.0,247.1 146.2,248.1 147.5,249.7 148.8,251.8 150.0,253.6 151.2,254.7 152.4,255.4 153.7,255.8 154.9,256.6 156.2,257.2 157.4,258.3 158.7,259.3 160.0,259.8 161.3,261.2 162.6,261.6 163.9,262.1 165.3,261.8 166.7,262.6 168.1,263.4 169.4,264.2 170.8,265.6 172.1,266.9 173.4,268.3 174.7,269.0 176.0,269.6 177.3,269.7 178.7,270.2 179.9,271.2 181.2,271.5 182.5,272.1 183.8,273.0 185.1,273.6 186.3,274.7 187.6,275.6 188.8,275.9 190.0,275.8 191.2,275.9 192.3,276.8 193.5,278.6 194.8,280.9 196.0,283.4 197.2,285.4 198.4,287.1 199.7,288.5 201.1,289.6 202.4,290.8 203.8,292.2 205.2,293.8 206.6,295.2 208.1,296.0 209.7,296.7 211.2,297.1 212.8,297.2 214.4,296.9 216.0,296.4 217.6,295.9 219.2,295.5 220.8,295.5 222.5,295.5 224.2,295.0 225.8,294.0 227.4,293.3 229.1,293.3 230.8,294.5 232.4,296.0 234.1,296.8 235.8,296.7 237.5,296.2 239.2,295.9 240.9,295.8 242.6,295.7 244.2,295.8 245.9,295.8 247.7,295.7 249.4,295.6 251.1,295.4 252.8,295.2 254.5,295.0 256.2,295.0 257.9,295.1 259.6,295.3 261.4,295.3 263.1,295.3 264.8,295.7 266.5,296.3 268.2,296.8 270.0,297.1 271.7,297.4 273.4,297.9 275.1,298.5 276.8,299.1 278.6,299.4 280.3,299.4 282.0,299.0 283.7,298.3 285.4,297.8 287.1,297.6 288.8,297.5 290.5,297.1"/>
<polyline points="91.5,224.4 93.1,223.8 94.8,223.5 96.5,223.5 98.2,223.1 99.9,224.1 101.6,223.4 103.2,223.5 104.9,222.9 106.6,223.2 108.3,223.2 110.0,223.7 111.7,223.7 113.3,223.4 115.0,222.9 116.7,222.8 118.2,222.5 119.8,222.6 121.4,222.5 123.0,223.1 124.6,223.7 126.2,224.6 127.8,226.2 129.4,227.5 130.7,229.2 132.0,229.6 133.3,230.3 134.6,231.2 135.9,231.6 137.2,232.8 138.6,234.2 139.9,235.0 141.2,235.9 142.6,236.2 144.0,236.6 145.4,237.7 146.7,238.6 148.1,239.8 149.5,240.9 150.8,241.9 152.1,243.2 153.4,244.6 154.6,245.8 155.8,246.3 157.0,247.9 158.2,249.4 159.3,251.7 160.4,253.6 161.6,254.8 162.7,255.9 163.8,257.2 164.9,258.7 166.0,260.7 167.1,262.2 168.2,262.7 169.2,264.6 170.3,266.0 171.2,268.0 172.2,270.6 173.1,272.5 174.1,273.9 175.2,275.0 176.2,276.6 177.2,277.8 178.2,279.6 179.3,281.0 180.4,281.9 181.6,283.0 182.8,284.3 183.9,285.6 185.1,288.8 186.3,290.8 187.4,292.2 188.6,293.0 189.9,293.0 191.3,292.9 192.6,293.3 194.0,294.1 195.4,294.8 196.9,295.4 198.5,296.2 200.2,297.0 201.8,297.6 203.4,297.8 205.1,297.8 206.8,297.4 208.5,296.6 210.2,295.6 211.9,294.9 213.6,294.7 215.3,294.7 217.1,294.6 218.8,294.2 220.5,293.7 222.2,293.6 223.9,294.4 225.6,295.6 227.3,296.4 229.0,296.2 230.7,295.8 232.4,295.9 234.1,296.5 235.8,296.7 237.6,295.9 239.2,294.2 240.9,292.8 242.7,292.3 244.3,292.9 246.1,293.9 247.8,294.9 249.4,295.4 251.2,295.5 252.8,295.6 254.6,295.8 256.2,296.2 257.9,296.8 259.6,297.9 261.4,299.1 263.1,300.0 264.8,300.2 266.5,299.7 268.2,298.9 269.9,298.0 271.6,297.4 273.3,297.3 275.0,297.6 276.7,298.0 278.4,298.2 280.2,298.2 281.9,298.2 283.6,298.3 285.3,298.4 287.1,298.7 288.8,299.2 290.5,299.6"/>
<polyline points="86.4,226.6 88.2,226.2 89.9,225.7 91.6,225.5 93.3,225.1 95.0,224.5 96.7,225.2 98.4,225.4 100.1,226.2 101.8,226.4 103.6,226.5 105.3,226.6 107.0,226.4 108.7,225.8 110.4,225.3 112.1,225.3 113.8,225.2 115.5,225.1 117.1,225.7 118.7,226.9 120.2,227.5 121.8,227.6 123.4,227.7 125.0,228.3 126.5,228.3 128.0,229.5 129.6,230.8 130.8,231.9 131.9,232.4 133.1,234.3 134.3,235.5 135.4,237.5 136.6,239.3 137.7,241.0 138.8,241.9 140.0,243.2 141.3,244.6 142.5,245.6 143.8,246.9 145.1,247.3 146.3,248.2 147.5,249.2 148.8,250.0 149.9,252.4 151.1,254.6 152.2,256.4 153.3,258.1 154.5,259.1 155.6,259.7 156.8,261.1 157.9,262.8 159.1,263.7 160.2,264.5 161.4,264.8 162.6,265.6 163.8,266.8 165.0,268.4 166.2,269.9 167.5,270.7 168.7,271.4 169.9,272.3 171.1,273.7 172.2,275.4 173.4,276.6 174.6,277.0 175.8,278.2 176.9,278.9 178.1,280.0 179.3,281.2 180.6,283.2 181.9,284.1 183.2,284.4 184.5,285.0 185.9,288.4 187.3,289.0 188.8,289.6 190.2,290.2 191.7,290.6 193.2,290.4 194.7,289.9 196.2,289.2 197.7,288.8 199.3,288.6 200.9,288.9 202.5,289.4 204.0,289.9 205.6,290.4 207.1,291.1 208.7,292.0 210.3,292.9 211.9,293.4 213.5,293.5 215.1,293.5 216.7,293.5 218.2,293.7 219.8,294.6 221.5,295.7 223.1,296.3 224.8,296.1 226.4,295.5 228.1,294.9 229.7,294.2 231.4,293.6 233.1,292.7 234.7,291.8 236.4,291.3 238.1,291.5 239.7,292.4 241.4,293.4 243.0,294.2 244.7,294.8 246.4,295.3 248.0,295.9 249.7,296.6 251.4,296.9 253.1,296.9 254.8,296.7 256.4,296.4 258.1,296.1 259.8,296.0 261.5,296.1 263.2,296.2 264.9,296.4 266.6,296.2 268.3,295.6 270.0,295.0 271.7,294.8 273.4,295.1 275.1,295.9 276.8,297.1 278.5,298.3 280.2,298.8 281.9,298.5 283.6,297.9 285.4,297.4 287.1,297.4 288.8,297.8 290.5,298.1"/>
<polyline points="88.1,226.3 89.8,226.4 91.5,226.2 93.2,225.7 94.9,224.9 96.6,224.5 98.3,224.5 100.1,224.1 101.8,224.5 103.5,223.8 105.2,224.1 106.9,223.6 108.6,223.1 110.3,223.5 112.0,223.3 113.7,223.8 115.4,224.5 117.0,225.1 118.6,225.7 120.1,226.4 121.7,227.0 123.3,227.6 124.9,227.8 126.5,227.8 128.0,228.7 129.6,228.6 130.9,228.8 132.0,230.3 133.2,231.8 134.3,233.1 135.4,234.9 136.6,236.5 137.8,238.3 138.9,239.6 140.1,240.8 141.5,241.5 142.9,242.5 144.2,242.8 145.6,243.8 146.9,244.4 148.3,244.6 149.6,246.0 150.8,247.5 152.1,248.9 153.3,250.3 154.5,251.5 155.6,253.0 156.8,254.0 158.0,255.3 159.1,256.1 160.3,257.7 161.4,259.4 162.6,261.3 163.7,262.7 164.8,263.9 166.0,265.1 167.1,266.5 168.2,268.0 169.3,268.9 170.3,271.0 171.4,273.2 172.4,275.7 173.4,278.3 174.4,280.0 175.4,281.0 176.4,281.9 177.5,282.6 178.5,283.4 179.6,284.6 180.7,285.8 181.8,288.3 182.9,290.6 184.1,292.9 185.2,295.8 186.3,296.8 187.4,297.7 188.6,298.0 189.9,297.7 191.1,297.3 192.4,297.1 193.9,297.5 195.4,298.5 197.1,300.1 198.7,301.6 200.4,302.5 202.0,302.7 203.7,302.7 205.4,302.4 207.1,302.1 208.8,302.2 210.5,302.8 212.3,303.5 214.0,304.2 215.7,304.7 217.4,304.7 219.2,304.0 220.9,302.7 222.7,301.4 224.4,300.6 226.1,300.5 227.9,300.5 229.6,300.4 231.4,300.1 233.1,299.6 234.9,298.8 236.7,298.3 238.4,298.4 240.2,298.7 241.9,298.8 243.7,298.6 245.5,298.4 247.2,298.3 249.0,298.1 250.7,297.9 252.5,297.8 254.2,297.5 256.0,297.3 257.8,297.2 259.5,297.1 261.2,296.7 263.0,295.9 264.7,295.1 266.4,294.8 268.2,294.8 269.9,295.1 271.6,295.6 273.4,296.1 275.1,296.4 276.8,296.5 278.5,296.6 280.2,296.7 281.9,296.6 283.7,296.5 285.4,296.4 287.1,296.4 288.8,296.4 290.5,296.4"/>
<polyline points="86.4,224.5 88.1,223.6 89.8,223.3 91.5,223.1 93.2,223.6 94.9,224.2 96.6,225.1 98.3,225.0 100.0,224.3 101.7,223.6 103.4,222.6 105.0,223.0 106.8,223.6 108.5,223.7 110.2,223.9 111.8,224.6 113.5,224.4 115.2,224.8 116.9,224.4 118.5,225.4 120.1,225.8 121.7,226.4 123.3,226.8 124.9,226.9 126.5,227.4 128.0,227.8 129.6,229.3 130.8,230.6 132.0,231.5 133.1,232.8 134.3,234.6 135.4,236.6 136.6,238.4 137.7,240.6 138.8,241.9 140.0,243.2 141.3,244.8 142.5,246.2 143.8,247.2 145.0,248.7 146.2,250.0 147.4,251.3 148.5,252.7 149.6,253.7 150.7,255.6 151.7,257.3 152.8,259.3 153.8,260.8 154.8,262.6 155.9,264.0 156.9,265.5 157.9,267.3 158.9,268.9 160.0,269.4 161.0,271.1 162.0,273.1 163.2,274.6 164.3,276.6 165.4,278.0 166.6,279.4 167.7,281.1 168.8,282.5 170.0,283.9 171.1,285.5 172.2,286.2 173.4,287.1 174.5,288.4 175.7,290.4 176.9,291.7 178.1,293.3 179.3,294.8 180.5,295.9 181.7,297.0 183.0,297.0 184.2,297.9 185.4,297.2 186.7,297.4 188.0,297.7 189.4,297.4 190.8,297.3 192.3,297.5 193.9,298.1 195.6,298.6 197.3,299.1 199.1,299.7 200.8,300.7 202.5,301.5 204.3,301.4 206.1,300.1 207.8,298.6 209.6,297.5 211.4,297.3 213.2,298.1 214.9,299.4 216.7,300.2 218.4,299.7 220.2,298.5 221.9,297.8 223.7,297.6 225.4,297.6 227.2,297.5 228.9,297.4 230.6,297.6 232.3,298.0 234.1,298.0 235.8,297.3 237.5,296.3 239.2,295.3 241.0,294.6 242.7,293.9 244.4,293.8 246.1,294.3 247.8,295.2 249.5,296.0 251.2,296.8 252.9,297.6 254.6,298.2 256.3,298.6 258.0,298.7 259.7,298.9 261.4,299.0 263.1,298.9 264.8,298.6 266.5,298.5 268.2,298.6 269.9,298.7 271.6,298.9 273.3,299.2 275.0,299.6 276.8,299.5 278.5,298.9 280.2,298.0 281.9,297.3 283.6,297.0 285.3,296.9 287.1,296.7 288.8,296.6 290.5,296.8"/>
<polyline points="84.8,229.6 86.5,229.6 88.3,229.6 90.0,229.2 91.8,227.8 93.5,227.5 95.3,227.2 97.0,227.4 98.8,227.5 100.5,226.9 102.2,226.4 104.0,226.3 105.7,226.1 107.4,226.1 109.1,227.1 110.8,227.2 112.6,227.2 114.3,226.5 115.9,226.6 117.4,227.1 119.0,228.2 120.5,228.8 122.0,229.2 123.5,229.4 125.0,229.8 126.5,229.8 128.0,230.8 129.5,231.0 130.8,231.9 131.9,233.1 133.1,234.5 134.3,236.0 135.4,237.4 136.6,238.6 137.7,239.9 138.8,240.7 140.0,241.7 141.3,243.2 142.6,244.5 143.9,245.0 145.2,245.8 146.5,246.4 147.8,246.9 149.1,248.0 150.3,249.2 151.5,250.7 152.7,251.8 153.8,253.2 155.0,254.7 156.2,256.7 157.3,257.6 158.4,258.6 159.6,259.9 160.7,261.2 161.9,262.8 163.0,264.5 164.1,265.4 165.2,266.4 166.4,268.4 167.5,270.4 168.7,272.6 169.7,274.1 170.7,275.7 171.8,277.2 172.8,278.5 173.9,280.7 174.9,281.7 176.0,282.3 177.1,284.2 178.1,285.7 179.3,286.8 180.4,288.7 181.6,290.5 182.7,292.3 183.9,293.9 185.1,295.4 186.2,297.3 187.4,299.3 188.6,300.8 189.9,300.9 191.2,300.4 192.6,299.6 194.2,299.3 195.7,299.2 197.4,299.1 199.1,298.9 200.8,298.9 202.4,299.0 204.1,299.3 205.9,299.4 207.6,299.4 209.4,298.9 211.1,298.3 212.9,297.7 214.6,297.4 216.4,297.6 218.1,298.4 219.9,299.4 221.6,300.2 223.3,300.5 225.1,300.0 226.8,299.1 228.6,298.3 230.3,298.0 232.1,297.9 233.8,297.2 235.6,295.8 237.3,294.3 239.0,293.3 240.8,292.9 242.5,293.0 244.2,293.2 246.0,293.6 247.7,294.1 249.4,295.1 251.2,296.2 252.9,297.5 254.6,298.8 256.3,299.8 258.0,300.5 259.7,300.4 261.4,299.6 263.1,298.6 264.9,298.1 266.6,298.2 268.3,298.4 270.0,298.4 271.7,298.3 273.4,297.9 275.1,297.3 276.8,296.4 278.5,295.4 280.2,294.8 281.9,295.1 283.6,295.9 285.3,296.5 287.1,296.6 288.8,296.5 290.5,296.4"/>
<polyline points="84.7,227.1 86.4,227.6 88.1,226.9 89.8,225.8 91.5,225.3 93.2,225.6 95.0,224.9 96.7,225.3 98.4,226.1 100.1,226.3 101.9,226.7 103.6,226.4 105.3,225.8 107.1,225.8 108.8,225.5 110.6,225.6 112.3,225.0 114.0,225.4 115.8,225.7 117.3,226.4 118.9,227.6 120.5,228.6 122.0,229.8 123.6,231.4 125.1,232.3 126.5,232.9 128.0,234.0 129.4,233.9 130.6,235.2 131.8,236.8 133.0,238.6 134.2,240.3 135.4,242.0 136.6,243.2 137.7,244.1 138.8,245.8 139.9,247.2 141.1,248.8 142.3,250.4 143.4,251.2 144.6,252.6 145.7,254.4 146.7,255.6 147.8,256.7 148.9,258.5 149.9,259.9 150.9,262.4 152.0,264.6 153.0,266.6 154.1,267.5 155.1,268.2 156.2,269.0 157.2,270.3 158.3,272.0 159.4,273.8 160.5,274.4 161.6,276.0 162.8,276.8 164.0,277.7 165.2,278.5 166.4,279.9 167.6,280.8 168.8,282.8 170.0,283.7 171.2,285.1 172.4,286.4 173.6,287.9 174.7,288.8 175.9,290.3 177.1,291.1 178.3,292.2 179.5,292.6 180.8,293.2 182.0,293.6 183.2,294.8 184.4,296.5 185.7,296.9 186.9,298.9 188.2,300.3 189.5,300.9 190.8,301.6 192.2,302.2 193.8,302.7 195.4,302.7 197.1,302.0 198.8,301.0 200.5,300.1 202.2,299.7 203.9,299.5 205.6,299.3 207.3,299.0 209.0,298.8 210.7,299.1 212.4,299.8 214.1,300.4 215.8,300.6 217.5,300.4 219.2,300.0 220.9,299.8 222.6,299.5 224.3,299.0 226.0,298.4 227.7,298.0 229.4,298.2 231.1,298.9 232.8,299.6 234.5,300.0 236.2,299.8 237.9,298.8 239.6,297.5 241.3,296.5 243.1,296.3 244.8,296.6 246.5,296.9 248.2,297.1 249.9,297.1 251.7,297.4 253.4,297.7 255.2,297.9 256.9,298.2 258.6,298.6 260.4,298.9 262.1,299.0 263.9,298.9 265.7,299.0 267.4,299.3 269.2,299.6 271.0,299.6 272.7,300.2 274.5,301.5 276.3,302.7 278.1,303.1 279.8,302.8 281.6,302.5 283.4,302.6 285.2,303.0 286.9,303.0 288.7,302.4 290.5,301.7"/>
<polyline points="90.1,228.1 91.8,228.6 93.6,228.1 95.4,227.8 97.1,227.2 98.9,227.1 100.7,227.1 102.4,227.6 104.2,227.8 105.9,228.8 107.7,229.0 109.5,229.6 111.2,229.2 113.0,228.7 114.7,228.6 116.4,228.6 117.8,229.3 119.3,230.2 120.8,231.4 122.3,231.8 123.8,232.8 125.3,233.4 126.6,234.8 127.9,235.8 129.3,237.0 130.5,238.5 131.8,239.1 133.0,238.9 134.2,239.2 135.4,239.7 136.6,241.3 137.7,242.9 138.8,244.1 139.9,245.6 141.1,247.4 142.3,249.0 143.5,250.8 144.7,252.5 145.8,253.5 147.0,254.7 148.1,255.9 149.2,256.5 150.3,257.6 151.4,258.6 152.5,259.7 153.7,261.5 154.8,262.2 155.9,264.0 157.0,265.3 158.1,266.6 159.2,267.5 160.4,268.9 161.5,270.2 162.6,271.3 163.8,271.4 165.1,272.8 166.3,274.4 167.4,276.2 168.6,277.8 169.7,279.1 170.9,280.3 172.0,281.7 173.1,283.5 174.2,284.6 175.3,286.1 176.5,287.1 177.6,288.7 178.8,289.4 179.9,290.5 181.1,291.5 182.3,293.0 183.4,294.6 184.6,296.2 185.8,300.4 186.9,301.2 188.2,301.0 189.4,300.1 190.7,299.5 192.1,299.6 193.6,300.9 195.2,302.4 196.8,303.4 198.5,303.3 200.2,302.1 201.8,301.0 203.5,300.8 205.2,301.2 206.9,301.8 208.6,302.2 210.3,302.2 212.0,302.0 213.7,301.9 215.4,302.0 217.1,302.6 218.8,303.5 220.5,304.3 222.2,304.3 223.9,303.4 225.6,301.9 227.3,300.1 229.0,298.7 230.7,298.0 232.4,298.0 234.2,298.5 235.9,299.2 237.6,300.3 239.3,301.4 241.1,302.5 242.8,303.1 244.6,303.1 246.3,302.5 248.0,301.3 249.8,299.7 251.5,298.8 253.3,298.5 255.1,298.5 256.8,298.3 258.6,298.0 260.3,298.0 262.1,298.4 263.9,298.9 265.6,299.1 267.4,299.1 269.2,299.0 271.0,299.0 272.7,299.4 274.5,300.1 276.3,300.9 278.1,301.4 279.8,301.4 281.6,301.1 283.4,300.4 285.2,299.6 286.9,298.9 288.7,298.5 290.5,298.3"/>
<polyline points="83.0,229.6 84.8,229.2 86.5,229.3 88.3,229.5 90.1,229.3 91.9,229.6 93.6,229.2 95.4,228.3 97.2,228.2 99.0,228.2 100.7,228.2 102.5,228.0 104.3,227.8 106.0,227.7 107.8,228.1 109.6,228.4 111.4,227.8 113.1,227.7 114.9,227.9 116.6,229.1 118.0,230.3 119.5,232.5 121.0,233.8 122.5,233.8 124.0,234.8 125.4,235.1 126.6,235.6 127.9,236.4 129.2,238.5 130.4,240.4 131.7,242.6 132.9,243.9 134.2,244.8 135.4,246.4 136.6,247.5 137.7,248.7 138.8,249.4 139.9,250.5 141.0,251.1 142.1,251.9 143.3,253.1 144.3,255.4 145.4,256.8 146.5,258.5 147.6,258.6 148.6,259.4 149.7,260.3 150.8,261.5 151.9,263.1 153.0,264.7 154.1,266.7 155.2,268.0 156.3,269.2 157.4,270.2 158.5,270.2 159.6,270.5 160.7,271.3 161.9,272.9 163.1,274.5 164.3,276.7 165.5,278.2 166.7,279.1 167.9,280.5 169.0,281.6 170.2,282.5 171.3,283.6 172.4,285.0 173.5,286.3 174.7,288.2 175.8,290.1 176.9,291.6 178.0,292.8 179.2,293.8 180.3,295.0 181.4,296.2 182.6,297.6 183.7,298.1 184.8,299.8 185.9,301.5 187.1,302.9 188.3,302.9 189.5,302.6 190.8,302.6 192.4,303.4 194.0,303.7 195.7,303.5 197.3,303.4 199.0,303.9 200.7,305.1 202.4,306.4 204.1,306.9 205.8,306.8 207.5,306.5 209.2,306.6 210.9,306.6 212.7,306.7 214.4,306.8 216.2,306.5 218.0,305.7 219.7,304.8 221.5,304.1 223.2,303.5 225.0,302.7 226.7,302.1 228.5,301.5 230.2,301.0 232.0,300.3 233.7,299.5 235.5,298.9 237.3,298.6 239.1,298.5 240.8,298.4 242.6,298.0 244.3,297.8 246.1,297.8 247.9,298.1 249.7,298.0 251.4,298.0 253.2,298.3 255.0,299.3 256.8,300.4 258.5,301.0 260.3,301.1 262.1,301.0 263.9,300.9 265.6,300.7 267.4,300.3 269.2,299.8 271.0,299.3 272.8,298.9 274.6,298.8 276.3,299.0 278.1,299.7 279.9,300.1 281.7,299.8 283.4,299.0 285.2,298.2 287.0,297.4 288.7,296.8 290.5,296.9"/>
</g>
<line x1="35.20" y1="267.17" x2="290.2" y2="267.17" stroke="#111" stroke-width="1.8" stroke-dasharray="1.8 4.413"/>
<rect x="35.2" y="200.3" width="255.0" height="115.5" fill="none" stroke="#4d4d4d" stroke-width="1.1"/>
<line x1="35.2" y1="297.56" x2="37.800000000000004" y2="297.56" stroke="#4d4d4d" stroke-width="1"/>
<line x1="290.2" y1="297.56" x2="287.59999999999997" y2="297.56" stroke="#4d4d4d" stroke-width="1"/>
<text x="33.40" y="302.46" text-anchor="end" font-size="11.7" fill="#383838">0</text>
<line x1="35.2" y1="267.17" x2="37.800000000000004" y2="267.17" stroke="#4d4d4d" stroke-width="1"/>
<line x1="290.2" y1="267.17" x2="287.59999999999997" y2="267.17" stroke="#4d4d4d" stroke-width="1"/>
<text x="33.40" y="272.07" text-anchor="end" font-size="11.7" fill="#383838">50</text>
<line x1="35.2" y1="236.77" x2="37.800000000000004" y2="236.77" stroke="#4d4d4d" stroke-width="1"/>
<line x1="290.2" y1="236.77" x2="287.59999999999997" y2="236.77" stroke="#4d4d4d" stroke-width="1"/>
<text x="33.40" y="241.67" text-anchor="end" font-size="11.7" fill="#383838">100</text>
<line x1="35.2" y1="206.38" x2="37.800000000000004" y2="206.38" stroke="#4d4d4d" stroke-width="1"/>
<line x1="290.2" y1="206.38" x2="287.59999999999997" y2="206.38" stroke="#4d4d4d" stroke-width="1"/>
<text x="33.40" y="211.28" text-anchor="end" font-size="11.7" fill="#383838">150</text>
<line x1="35.20" y1="315.8" x2="35.20" y2="313.2" stroke="#4d4d4d" stroke-width="1"/>
<line x1="35.20" y1="200.3" x2="35.20" y2="202.9" stroke="#4d4d4d" stroke-width="1"/>
<text x="35.80" y="332.60" text-anchor="middle" font-size="11.7" fill="#383838">10<tspan font-size="8.8" dy="-4.5">1</tspan></text>
<line x1="141.54" y1="315.8" x2="141.54" y2="313.2" stroke="#4d4d4d" stroke-width="1"/>
<line x1="141.54" y1="200.3" x2="141.54" y2="202.9" stroke="#4d4d4d" stroke-width="1"/>
<text x="142.14" y="332.60" text-anchor="middle" font-size="11.7" fill="#383838">10<tspan font-size="8.8" dy="-4.5">2</tspan></text>
<line x1="247.88" y1="315.8" x2="247.88" y2="313.2" stroke="#4d4d4d" stroke-width="1"/>
<line x1="247.88" y1="200.3" x2="247.88" y2="202.9" stroke="#4d4d4d" stroke-width="1"/>
<text x="248.48" y="332.60" text-anchor="middle" font-size="11.7" fill="#383838">10<tspan font-size="8.8" dy="-4.5">3</tspan></text>
<line x1="67.21" y1="315.8" x2="67.21" y2="314.0" stroke="#4d4d4d" stroke-width="1"/>
<line x1="67.21" y1="200.3" x2="67.21" y2="202.10000000000002" stroke="#4d4d4d" stroke-width="1"/>
<line x1="85.94" y1="315.8" x2="85.94" y2="314.0" stroke="#4d4d4d" stroke-width="1"/>
<line x1="85.94" y1="200.3" x2="85.94" y2="202.10000000000002" stroke="#4d4d4d" stroke-width="1"/>
<line x1="99.22" y1="315.8" x2="99.22" y2="314.0" stroke="#4d4d4d" stroke-width="1"/>
<line x1="99.22" y1="200.3" x2="99.22" y2="202.10000000000002" stroke="#4d4d4d" stroke-width="1"/>
<line x1="109.53" y1="315.8" x2="109.53" y2="314.0" stroke="#4d4d4d" stroke-width="1"/>
<line x1="109.53" y1="200.3" x2="109.53" y2="202.10000000000002" stroke="#4d4d4d" stroke-width="1"/>
<line x1="117.95" y1="315.8" x2="117.95" y2="314.0" stroke="#4d4d4d" stroke-width="1"/>
<line x1="117.95" y1="200.3" x2="117.95" y2="202.10000000000002" stroke="#4d4d4d" stroke-width="1"/>
<line x1="125.07" y1="315.8" x2="125.07" y2="314.0" stroke="#4d4d4d" stroke-width="1"/>
<line x1="125.07" y1="200.3" x2="125.07" y2="202.10000000000002" stroke="#4d4d4d" stroke-width="1"/>
<line x1="131.24" y1="315.8" x2="131.24" y2="314.0" stroke="#4d4d4d" stroke-width="1"/>
<line x1="131.24" y1="200.3" x2="131.24" y2="202.10000000000002" stroke="#4d4d4d" stroke-width="1"/>
<line x1="136.68" y1="315.8" x2="136.68" y2="314.0" stroke="#4d4d4d" stroke-width="1"/>
<line x1="136.68" y1="200.3" x2="136.68" y2="202.10000000000002" stroke="#4d4d4d" stroke-width="1"/>
<line x1="173.55" y1="315.8" x2="173.55" y2="314.0" stroke="#4d4d4d" stroke-width="1"/>
<line x1="173.55" y1="200.3" x2="173.55" y2="202.10000000000002" stroke="#4d4d4d" stroke-width="1"/>
<line x1="192.28" y1="315.8" x2="192.28" y2="314.0" stroke="#4d4d4d" stroke-width="1"/>
<line x1="192.28" y1="200.3" x2="192.28" y2="202.10000000000002" stroke="#4d4d4d" stroke-width="1"/>
<line x1="205.57" y1="315.8" x2="205.57" y2="314.0" stroke="#4d4d4d" stroke-width="1"/>
<line x1="205.57" y1="200.3" x2="205.57" y2="202.10000000000002" stroke="#4d4d4d" stroke-width="1"/>
<line x1="215.87" y1="315.8" x2="215.87" y2="314.0" stroke="#4d4d4d" stroke-width="1"/>
<line x1="215.87" y1="200.3" x2="215.87" y2="202.10000000000002" stroke="#4d4d4d" stroke-width="1"/>
<line x1="224.29" y1="315.8" x2="224.29" y2="314.0" stroke="#4d4d4d" stroke-width="1"/>
<line x1="224.29" y1="200.3" x2="224.29" y2="202.10000000000002" stroke="#4d4d4d" stroke-width="1"/>
<line x1="231.41" y1="315.8" x2="231.41" y2="314.0" stroke="#4d4d4d" stroke-width="1"/>
<line x1="231.41" y1="200.3" x2="231.41" y2="202.10000000000002" stroke="#4d4d4d" stroke-width="1"/>
<line x1="237.58" y1="315.8" x2="237.58" y2="314.0" stroke="#4d4d4d" stroke-width="1"/>
<line x1="237.58" y1="200.3" x2="237.58" y2="202.10000000000002" stroke="#4d4d4d" stroke-width="1"/>
<line x1="243.02" y1="315.8" x2="243.02" y2="314.0" stroke="#4d4d4d" stroke-width="1"/>
<line x1="243.02" y1="200.3" x2="243.02" y2="202.10000000000002" stroke="#4d4d4d" stroke-width="1"/>
<line x1="279.89" y1="315.8" x2="279.89" y2="314.0" stroke="#4d4d4d" stroke-width="1"/>
<line x1="279.89" y1="200.3" x2="279.89" y2="202.10000000000002" stroke="#4d4d4d" stroke-width="1"/>
<text x="163.40" y="346.40" text-anchor="middle" font-size="11.9" fill="#383838">spatial frequeny / (1 / mm)</text>
<text transform="translate(9.80,257.55) rotate(-90)" x="0" y="0" text-anchor="middle" font-size="11.8" fill="#383838">amplitude transmission / %</text>
<text x="164.40" y="196.60" text-anchor="middle" font-size="11.9" font-weight="bold" fill="#000" stroke="#000" stroke-width="0.25">c) ASG sample evaluation CM 50x</text>
<clipPath id="clipd"><rect x="346.2" y="200.3" width="254.2" height="115.5"/></clipPath>
<line x1="346.2" y1="297.56" x2="600.4" y2="297.56" stroke="#ececec" stroke-width="1"/>
<line x1="346.2" y1="267.17" x2="600.4" y2="267.17" stroke="#ececec" stroke-width="1"/>
<line x1="346.2" y1="236.77" x2="600.4" y2="236.77" stroke="#ececec" stroke-width="1"/>
<line x1="346.2" y1="206.38" x2="600.4" y2="206.38" stroke="#ececec" stroke-width="1"/>
<line x1="452.21" y1="200.3" x2="452.21" y2="315.8" stroke="#ececec" stroke-width="1"/>
<line x1="558.22" y1="200.3" x2="558.22" y2="315.8" stroke="#ececec" stroke-width="1"/>
<path d="M378.11,312.70V315.90M378.11,301.31V304.51M378.11,289.92V293.12M378.11,278.53V281.73M378.11,267.14V270.34M378.11,255.75V258.95M378.11,244.36V247.56M378.11,232.97V236.17M378.11,221.58V224.78M378.11,210.19V213.39" stroke="#d2d2d2" stroke-width="1" fill="none"/>
<path d="M396.78,312.70V315.90M396.78,301.31V304.51M396.78,289.92V293.12M396.78,278.53V281.73M396.78,267.14V270.34M396.78,255.75V258.95M396.78,244.36V247.56M396.78,232.97V236.17M396.78,221.58V224.78M396.78,210.19V213.39" stroke="#d2d2d2" stroke-width="1" fill="none"/>
<path d="M410.02,312.70V315.90M410.02,301.31V304.51M410.02,289.92V293.12M410.02,278.53V281.73M410.02,267.14V270.34M410.02,255.75V258.95M410.02,244.36V247.56M410.02,232.97V236.17M410.02,221.58V224.78M410.02,210.19V213.39" stroke="#d2d2d2" stroke-width="1" fill="none"/>
<path d="M420.30,312.70V315.90M420.30,301.31V304.51M420.30,289.92V293.12M420.30,278.53V281.73M420.30,267.14V270.34M420.30,255.75V258.95M420.30,244.36V247.56M420.30,232.97V236.17M420.30,221.58V224.78M420.30,210.19V213.39" stroke="#d2d2d2" stroke-width="1" fill="none"/>
<path d="M428.69,312.70V315.90M428.69,301.31V304.51M428.69,289.92V293.12M428.69,278.53V281.73M428.69,267.14V270.34M428.69,255.75V258.95M428.69,244.36V247.56M428.69,232.97V236.17M428.69,221.58V224.78M428.69,210.19V213.39" stroke="#d2d2d2" stroke-width="1" fill="none"/>
<path d="M435.79,312.70V315.90M435.79,301.31V304.51M435.79,289.92V293.12M435.79,278.53V281.73M435.79,267.14V270.34M435.79,255.75V258.95M435.79,244.36V247.56M435.79,232.97V236.17M435.79,221.58V224.78M435.79,210.19V213.39" stroke="#d2d2d2" stroke-width="1" fill="none"/>
<path d="M441.93,312.70V315.90M441.93,301.31V304.51M441.93,289.92V293.12M441.93,278.53V281.73M441.93,267.14V270.34M441.93,255.75V258.95M441.93,244.36V247.56M441.93,232.97V236.17M441.93,221.58V224.78M441.93,210.19V213.39" stroke="#d2d2d2" stroke-width="1" fill="none"/>
<path d="M447.36,312.70V315.90M447.36,301.31V304.51M447.36,289.92V293.12M447.36,278.53V281.73M447.36,267.14V270.34M447.36,255.75V258.95M447.36,244.36V247.56M447.36,232.97V236.17M447.36,221.58V224.78M447.36,210.19V213.39" stroke="#d2d2d2" stroke-width="1" fill="none"/>
<path d="M484.12,312.70V315.90M484.12,301.31V304.51M484.12,289.92V293.12M484.12,278.53V281.73M484.12,267.14V270.34M484.12,255.75V258.95M484.12,244.36V247.56M484.12,232.97V236.17M484.12,221.58V224.78M484.12,210.19V213.39" stroke="#d2d2d2" stroke-width="1" fill="none"/>
<path d="M502.79,312.70V315.90M502.79,301.31V304.51M502.79,289.92V293.12M502.79,278.53V281.73M502.79,267.14V270.34M502.79,255.75V258.95M502.79,244.36V247.56M502.79,232.97V236.17M502.79,221.58V224.78M502.79,210.19V213.39" stroke="#d2d2d2" stroke-width="1" fill="none"/>
<path d="M516.03,312.70V315.90M516.03,301.31V304.51M516.03,289.92V293.12M516.03,278.53V281.73M516.03,267.14V270.34M516.03,255.75V258.95M516.03,244.36V247.56M516.03,232.97V236.17M516.03,221.58V224.78M516.03,210.19V213.39" stroke="#d2d2d2" stroke-width="1" fill="none"/>
<path d="M526.30,312.70V315.90M526.30,301.31V304.51M526.30,289.92V293.12M526.30,278.53V281.73M526.30,267.14V270.34M526.30,255.75V258.95M526.30,244.36V247.56M526.30,232.97V236.17M526.30,221.58V224.78M526.30,210.19V213.39" stroke="#d2d2d2" stroke-width="1" fill="none"/>
<path d="M534.70,312.70V315.90M534.70,301.31V304.51M534.70,289.92V293.12M534.70,278.53V281.73M534.70,267.14V270.34M534.70,255.75V258.95M534.70,244.36V247.56M534.70,232.97V236.17M534.70,221.58V224.78M534.70,210.19V213.39" stroke="#d2d2d2" stroke-width="1" fill="none"/>
<path d="M541.79,312.70V315.90M541.79,301.31V304.51M541.79,289.92V293.12M541.79,278.53V281.73M541.79,267.14V270.34M541.79,255.75V258.95M541.79,244.36V247.56M541.79,232.97V236.17M541.79,221.58V224.78M541.79,210.19V213.39" stroke="#d2d2d2" stroke-width="1" fill="none"/>
<path d="M547.94,312.70V315.90M547.94,301.31V304.51M547.94,289.92V293.12M547.94,278.53V281.73M547.94,267.14V270.34M547.94,255.75V258.95M547.94,244.36V247.56M547.94,232.97V236.17M547.94,221.58V224.78M547.94,210.19V213.39" stroke="#d2d2d2" stroke-width="1" fill="none"/>
<path d="M553.36,312.70V315.90M553.36,301.31V304.51M553.36,289.92V293.12M553.36,278.53V281.73M553.36,267.14V270.34M553.36,255.75V258.95M553.36,244.36V247.56M553.36,232.97V236.17M553.36,221.58V224.78M553.36,210.19V213.39" stroke="#d2d2d2" stroke-width="1" fill="none"/>
<path d="M590.13,312.70V315.90M590.13,301.31V304.51M590.13,289.92V293.12M590.13,278.53V281.73M590.13,267.14V270.34M590.13,255.75V258.95M590.13,244.36V247.56M590.13,232.97V236.17M590.13,221.58V224.78M590.13,210.19V213.39" stroke="#d2d2d2" stroke-width="1" fill="none"/>
<g clip-path="url(#clipd)" fill="none" stroke="#ff0000" stroke-width="1.25" stroke-linejoin="round">
<polyline points="403.0,221.6 404.5,222.2 406.1,222.8 407.6,223.1 409.1,223.4 410.7,223.7 412.2,223.8 413.8,224.0 415.4,224.2 416.9,224.3 418.5,224.4 420.1,224.6 421.6,224.9 423.2,225.2 424.7,225.5 426.3,225.6 427.9,225.7 429.4,225.8 431.0,226.0 432.5,226.3 434.0,226.9 435.5,227.4 437.0,228.1 438.4,228.8 439.9,229.5 441.4,230.2 442.9,230.9 444.3,231.3 445.8,231.8 447.3,232.3 448.7,232.9 450.2,233.7 451.6,234.3 453.0,234.9 454.4,235.5 455.9,236.1 457.3,236.9 458.7,237.8 460.1,238.7 461.4,239.6 462.8,240.3 464.2,241.0 465.5,241.7 466.9,242.5 468.2,243.3 469.6,244.2 470.9,245.2 472.1,246.2 473.4,247.2 474.7,248.2 475.9,249.2 477.2,250.2 478.4,251.2 479.7,252.2 480.9,253.0 482.2,253.9 483.4,254.8 484.7,255.7 485.9,256.7 487.1,257.9 488.2,259.1 489.4,260.3 490.5,261.5 491.6,262.7 492.8,264.0 493.9,265.2 495.0,266.3 496.1,267.3 497.1,268.2 498.2,269.2 499.3,270.4 500.4,271.9 501.5,273.4 502.6,274.9 503.7,276.1 504.8,277.1 506.1,277.9 507.3,278.7 508.6,279.5 509.8,280.2 511.0,281.1 512.2,282.2 513.3,283.4 514.5,284.6 515.6,285.9 516.8,287.0 517.9,288.2 519.1,289.2 520.5,289.9 522.0,290.4 523.5,290.9 525.0,291.4 526.5,292.0 528.0,292.6 529.4,293.2 531.0,293.3 532.6,293.3 534.2,293.3 535.8,293.4 537.4,293.6 539.0,294.0 540.6,294.5 542.1,294.8 543.7,295.0 545.3,295.1 546.8,295.3 548.4,295.6 549.9,295.9 551.5,295.9 553.1,296.0 554.6,296.2 556.2,296.6 557.8,296.9 559.4,297.2 561.0,297.4 562.5,297.4 564.1,297.1 565.7,297.0 567.3,296.9 568.9,296.8 570.5,296.6 572.0,296.5 573.6,296.4 575.2,296.4 576.8,296.4 578.4,296.3 579.9,296.0 581.5,295.7 583.1,295.6 584.7,295.8 586.3,296.0 587.9,296.2 589.4,296.4 591.0,296.5 592.6,296.6 594.2,296.7 595.8,296.7 597.3,296.7 598.9,296.7 600.5,296.7"/>
<polyline points="404.6,222.7 406.1,223.1 407.7,223.5 409.2,224.0 410.8,224.5 412.4,224.9 414.0,225.1 415.6,225.0 417.2,224.8 418.8,224.8 420.3,224.9 421.9,225.2 423.5,225.5 425.1,225.8 426.7,225.9 428.2,226.1 429.8,226.2 431.4,226.5 432.9,227.1 434.4,227.8 435.8,228.3 437.3,228.7 438.8,229.1 440.2,229.5 441.7,230.1 443.2,230.9 444.6,231.6 446.1,232.3 447.5,232.9 449.0,233.5 450.4,234.1 451.8,234.7 453.2,235.3 454.6,236.0 456.0,236.8 457.4,237.7 458.8,238.5 460.1,239.3 461.5,240.0 462.8,240.6 464.2,241.4 465.6,242.2 466.9,243.1 468.2,244.0 469.6,244.8 470.9,245.6 472.1,246.5 473.4,247.4 474.6,248.3 475.9,249.4 477.1,250.6 478.4,251.8 479.6,252.8 480.8,253.7 481.9,254.5 483.1,255.5 484.3,256.7 485.4,257.9 486.6,259.2 487.7,260.4 488.8,261.7 489.9,262.9 491.1,264.1 492.1,265.2 493.2,266.4 494.3,267.7 495.4,269.1 496.4,270.3 497.5,271.5 498.6,272.7 499.6,273.8 500.6,274.9 501.7,276.0 502.7,277.3 503.9,278.6 505.1,279.8 506.4,281.1 507.6,282.3 508.9,283.2 510.2,283.9 511.4,284.6 512.6,285.3 513.8,286.1 515.0,287.1 516.1,288.1 517.3,289.1 518.5,290.1 520.0,290.8 521.5,291.6 523.0,292.2 524.5,292.7 526.0,293.1 527.5,293.4 529.0,293.7 530.6,293.7 532.2,293.7 533.8,293.8 535.4,293.9 537.0,294.1 538.6,294.3 540.2,294.5 541.8,294.6 543.4,294.7 545.0,294.9 546.5,295.2 548.1,295.6 549.7,296.0 551.3,296.0 552.9,295.9 554.5,295.9 556.1,295.8 557.6,295.8 559.2,295.8 560.8,295.9 562.4,296.0 564.0,296.1 565.6,296.2 567.2,296.0 568.8,295.8 570.3,295.5 571.9,295.4 573.5,295.5 575.1,295.8 576.6,296.1 578.2,296.4 579.8,296.6 581.4,296.8 583.0,296.9 584.6,297.0 586.1,297.1 587.7,297.0 589.3,296.9 590.9,296.9 592.5,296.9 594.1,297.0 595.7,297.1 597.3,297.2 598.9,297.3 600.5,297.2"/>
<polyline points="404.6,222.1 406.1,222.4 407.6,222.8 409.2,223.3 410.8,223.7 412.4,224.0 414.0,224.3 415.6,224.6 417.2,224.9 418.8,225.2 420.4,225.5 422.0,225.8 423.6,226.0 425.2,226.1 426.8,226.1 428.4,226.2 430.0,226.4 431.6,226.7 433.2,227.1 434.7,227.6 436.2,228.1 437.7,228.7 439.2,229.2 440.8,229.9 442.3,230.5 443.8,231.1 445.3,231.8 446.8,232.3 448.3,232.9 449.8,233.5 451.3,234.2 452.7,234.9 454.1,235.6 455.6,236.4 457.0,237.3 458.5,238.2 459.8,239.2 461.1,240.2 462.3,241.3 463.6,242.4 464.9,243.4 466.1,244.5 467.4,245.6 468.6,246.7 469.7,247.7 470.9,248.7 472.0,249.7 473.1,250.7 474.2,251.8 475.4,253.0 476.5,254.2 477.6,255.5 478.6,256.7 479.6,257.9 480.7,259.1 481.7,260.1 482.8,261.2 483.8,262.2 484.9,263.1 486.1,263.9 487.2,264.9 488.3,266.1 489.5,267.4 490.6,268.6 491.8,269.6 492.9,270.6 494.1,271.5 495.2,272.5 496.4,273.5 497.5,274.6 498.6,275.6 499.7,276.5 500.8,277.5 502.0,278.5 503.2,279.5 504.6,280.4 506.0,281.2 507.3,282.0 508.7,282.6 510.0,283.4 511.2,284.3 512.5,285.4 513.7,286.5 514.9,287.6 516.1,288.6 517.3,289.6 518.5,290.6 519.9,291.2 521.4,291.7 522.9,292.2 524.4,292.7 525.9,293.2 527.4,293.7 528.9,294.3 530.4,294.8 532.0,295.2 533.6,295.5 535.2,295.6 536.8,295.6 538.3,295.6 539.9,295.8 541.5,295.9 543.0,296.1 544.6,296.3 546.2,296.6 547.7,296.8 549.3,296.9 550.9,296.8 552.5,296.7 554.1,296.6 555.7,296.7 557.3,297.0 558.9,297.4 560.5,297.6 562.0,297.6 563.6,297.4 565.2,297.1 566.8,296.9 568.4,296.6 570.0,296.4 571.6,296.5 573.2,296.6 574.8,296.8 576.4,296.9 578.0,297.0 579.6,297.2 581.2,297.6 582.9,297.8 584.5,297.9 586.0,297.8 587.7,297.6 589.3,297.4 590.9,297.3 592.5,297.1 594.1,297.1 595.7,297.1 597.3,297.1 598.9,297.1 600.5,297.0"/>
<polyline points="407.7,223.6 409.3,224.1 410.9,224.3 412.5,224.4 414.1,224.4 415.7,224.4 417.3,224.6 418.9,225.0 420.6,225.4 422.2,225.8 423.8,226.0 425.4,226.0 427.1,226.1 428.7,226.3 430.3,226.6 431.9,226.9 433.5,227.4 435.0,227.9 436.6,228.5 438.1,229.2 439.6,229.8 441.2,230.4 442.7,231.1 444.2,231.9 445.8,232.7 447.3,233.2 448.8,233.7 450.3,234.2 451.7,235.0 453.2,236.0 454.6,237.1 456.1,237.9 457.5,238.6 458.9,239.2 460.2,240.2 461.5,241.2 462.7,242.2 463.9,243.3 465.1,244.4 466.4,245.5 467.6,246.4 468.7,247.3 469.8,248.2 470.9,249.2 471.9,250.4 473.0,251.7 474.1,253.0 475.1,254.2 476.2,255.3 477.3,256.4 478.2,257.6 479.2,258.9 480.1,260.1 481.1,261.4 482.1,262.8 483.0,264.2 484.1,265.6 485.2,266.7 486.2,267.7 487.3,268.7 488.4,269.7 489.5,270.8 490.6,271.8 491.6,273.0 492.7,274.1 493.8,275.3 494.9,276.5 495.9,277.8 496.9,278.9 497.9,280.0 499.0,281.1 500.0,282.2 501.2,283.1 502.6,283.7 504.0,284.2 505.4,284.8 506.8,285.6 508.2,286.6 509.5,287.6 510.8,288.8 512.1,289.8 513.5,290.8 514.8,291.7 516.1,292.5 517.4,293.2 518.8,293.7 520.3,294.2 521.8,294.9 523.3,295.5 524.8,295.9 526.4,296.1 527.9,296.4 529.5,296.6 531.1,296.7 532.7,296.7 534.3,296.6 535.9,296.6 537.5,296.7 539.1,296.9 540.7,297.1 542.3,297.3 543.9,297.6 545.5,298.0 547.1,298.2 548.7,298.4 550.3,298.4 551.9,298.3 553.5,298.2 555.2,298.0 556.8,297.7 558.4,297.5 560.0,297.4 561.6,297.4 563.3,297.4 564.9,297.4 566.5,297.4 568.1,297.5 569.8,297.7 571.4,297.8 573.0,297.8 574.6,297.6 576.2,297.5 577.9,297.4 579.5,297.2 581.1,297.0 582.7,297.1 584.3,297.3 586.0,297.5 587.6,297.5 589.2,297.4 590.8,297.3 592.4,297.3 594.0,297.3 595.7,297.3 597.3,297.4 598.9,297.6 600.5,297.7"/>
<polyline points="403.0,222.5 404.6,222.9 406.2,223.3 407.8,223.7 409.3,224.1 410.9,224.4 412.6,224.6 414.2,224.7 415.8,224.8 417.4,225.0 419.0,225.2 420.6,225.4 422.2,225.7 423.9,225.9 425.4,226.2 427.1,226.7 428.6,227.2 430.2,227.5 431.8,227.6 433.4,227.8 434.9,228.2 436.4,228.7 437.9,229.3 439.4,229.8 440.9,230.4 442.3,231.0 443.8,231.6 445.3,232.2 446.8,232.8 448.3,233.4 449.8,234.0 451.2,234.5 452.6,235.1 454.1,235.8 455.5,236.6 456.9,237.5 458.4,238.4 459.7,239.3 461.0,240.3 462.3,241.2 463.6,242.1 464.9,243.1 466.1,244.1 467.4,245.1 468.6,246.2 469.7,247.2 470.9,248.3 472.0,249.6 473.1,251.0 474.1,252.4 475.2,253.8 476.3,255.0 477.4,256.2 478.3,257.5 479.2,258.9 480.1,260.3 480.9,261.8 481.8,263.3 482.7,264.9 483.6,266.3 484.6,267.7 485.5,269.0 486.4,270.2 487.3,271.4 488.3,272.7 489.2,274.1 490.1,275.6 491.0,277.1 492.0,278.6 492.9,280.0 493.7,281.4 494.6,283.0 495.4,284.6 496.2,286.2 497.0,287.8 498.2,289.0 499.7,289.5 501.2,289.9 502.7,290.2 504.2,290.6 505.7,291.1 507.2,291.8 508.7,292.5 510.2,293.2 511.7,293.9 513.2,294.6 514.6,295.3 516.1,296.0 517.6,296.5 519.2,296.8 520.8,297.1 522.3,297.5 523.9,297.9 525.5,298.1 527.2,298.3 528.8,298.2 530.5,297.8 532.1,297.6 533.8,297.5 535.4,297.4 537.1,297.5 538.7,297.6 540.3,297.9 542.0,298.1 543.6,298.1 545.2,298.2 546.8,298.2 548.5,298.4 550.1,298.5 551.7,298.5 553.4,298.4 555.0,298.2 556.6,298.1 558.2,298.1 559.9,298.1 561.5,298.1 563.1,298.1 564.7,297.9 566.3,297.8 568.0,297.7 569.6,297.6 571.2,297.7 572.8,297.7 574.4,297.8 576.0,297.9 577.7,298.1 579.3,298.2 580.9,298.3 582.5,298.4 584.1,298.5 585.8,298.6 587.4,298.9 589.0,299.1 590.7,299.2 592.3,299.0 593.9,298.5 595.6,298.0 597.2,297.7 598.9,297.8 600.5,298.1"/>
<polyline points="406.1,222.7 407.7,223.1 409.3,223.4 410.9,223.8 412.5,224.2 414.1,224.6 415.8,224.9 417.4,225.2 419.0,225.6 420.6,225.9 422.3,226.2 423.9,226.3 425.5,226.3 427.1,226.3 428.8,226.4 430.4,226.7 432.0,227.2 433.6,227.9 435.1,228.6 436.7,229.2 438.2,229.7 439.8,230.2 441.3,230.8 442.8,231.5 444.4,232.2 445.9,232.8 447.5,233.3 449.0,233.9 450.5,234.7 452.0,235.5 453.4,236.3 454.9,237.2 456.4,238.0 457.9,238.8 459.3,239.6 460.6,240.8 461.8,242.0 463.0,243.3 464.2,244.4 465.4,245.4 466.7,246.4 467.9,247.4 468.9,248.8 469.9,250.2 470.9,251.7 471.8,253.2 472.8,254.6 473.8,256.0 474.8,257.4 475.7,258.8 476.7,260.1 477.4,261.5 478.1,262.9 478.9,264.4 479.6,265.8 480.4,267.1 481.1,268.5 482.0,269.9 482.9,271.4 483.8,272.8 484.7,274.1 485.7,275.3 486.6,276.7 487.5,278.2 488.5,279.5 489.4,280.7 490.4,281.9 491.4,283.0 492.2,284.2 493.1,285.3 493.9,286.6 494.8,288.1 495.7,289.8 496.9,290.9 498.5,291.5 500.1,291.9 501.7,292.2 503.4,292.6 504.9,293.0 506.5,293.4 508.1,293.9 509.7,294.4 511.2,294.9 512.8,295.4 514.3,296.1 515.8,296.8 517.3,297.3 518.9,297.7 520.5,298.1 522.0,298.5 523.6,298.9 525.2,298.9 526.9,298.9 528.5,298.9 530.2,299.1 531.8,298.9 533.5,298.8 535.1,298.6 536.7,298.4 538.4,298.2 540.0,298.0 541.6,298.0 543.2,298.2 544.9,298.6 546.5,299.0 548.1,299.2 549.8,299.1 551.4,298.9 553.0,298.6 554.7,298.5 556.3,298.4 557.9,298.3 559.6,298.0 561.2,297.8 562.8,297.7 564.5,297.8 566.1,298.1 567.7,298.3 569.3,298.5 571.0,298.5 572.6,298.5 574.2,298.6 575.9,298.7 577.5,298.8 579.1,298.8 580.8,298.8 582.4,298.7 584.1,298.6 585.7,298.4 587.3,298.2 589.0,298.3 590.6,298.5 592.3,298.8 593.9,298.9 595.6,298.8 597.2,298.7 598.9,298.6 600.5,298.4"/>
<polyline points="403.0,222.6 404.6,223.3 406.2,223.8 407.8,224.3 409.4,224.7 411.0,224.8 412.6,224.9 414.2,225.0 415.9,225.2 417.5,225.4 419.1,225.6 420.8,225.9 422.4,226.2 424.0,226.5 425.7,226.8 427.3,227.2 428.9,227.4 430.6,227.4 432.2,227.3 433.7,227.6 435.3,228.1 436.8,228.8 438.4,229.6 439.9,230.6 441.5,231.4 443.0,232.0 444.6,232.4 446.1,232.8 447.7,233.4 449.2,234.1 450.7,234.8 452.2,235.6 453.7,236.4 455.1,237.4 456.6,238.4 458.1,239.4 459.6,240.1 460.8,241.0 462.0,242.0 463.2,243.3 464.4,244.6 465.6,245.8 466.7,246.8 467.9,248.0 468.9,249.6 469.9,251.2 470.9,252.6 471.8,253.7 472.8,254.8 473.8,255.9 474.7,257.2 475.7,258.6 476.6,260.1 477.4,261.7 478.1,263.1 478.8,264.5 479.6,265.9 480.3,267.4 481.0,268.8 481.9,270.2 482.8,271.7 483.7,273.1 484.6,274.4 485.4,275.7 486.3,277.1 487.2,278.6 488.1,280.1 489.0,281.5 489.9,282.9 490.8,284.4 491.6,285.9 492.3,287.5 493.1,289.1 493.8,290.5 494.6,291.9 495.7,292.8 497.2,293.1 498.8,293.6 500.4,294.3 502.0,295.0 503.6,295.7 505.2,296.2 506.8,296.7 508.4,297.1 509.9,297.4 511.5,297.8 513.1,298.4 514.7,298.9 516.2,299.5 517.8,300.1 519.4,300.7 520.9,301.3 522.5,301.6 524.2,301.3 525.8,301.1 527.5,300.9 529.1,300.7 530.8,300.4 532.5,300.2 534.1,300.1 535.8,300.0 537.4,300.0 539.1,300.1 540.7,300.2 542.4,300.4 544.0,300.4 545.7,300.2 547.4,300.1 549.0,300.0 550.7,300.0 552.3,299.9 554.0,299.8 555.7,299.7 557.3,299.7 559.0,299.6 560.6,299.6 562.3,299.6 564.0,299.6 565.6,299.8 567.3,299.9 569.0,299.9 570.6,300.0 572.3,300.2 573.9,300.3 575.6,300.2 577.2,299.9 578.9,299.7 580.6,299.5 582.2,299.3 583.9,299.1 585.6,298.9 587.2,298.7 588.9,298.6 590.5,298.7 592.2,298.8 593.9,298.9 595.5,298.9 597.2,298.8 598.8,298.8 600.5,298.9"/>
<polyline points="466.0,246.0 470.0,250.0 474.0,254.5 478.0,261.0 481.6,269.8 484.9,264.9 488.0,271.0 490.7,276.5 493.2,283.1 494.8,281.5 496.5,293.1 504.8,293.9 514.8,296.4 523.1,301.4 529.8,300.5 543.1,298.9 560.0,297.5"/>
</g>
<line x1="346.20" y1="267.17" x2="600.4" y2="267.17" stroke="#111" stroke-width="1.8" stroke-dasharray="1.8 4.413"/>
<rect x="346.2" y="200.3" width="254.2" height="115.5" fill="none" stroke="#4d4d4d" stroke-width="1.1"/>
<line x1="346.2" y1="297.56" x2="348.8" y2="297.56" stroke="#4d4d4d" stroke-width="1"/>
<line x1="600.4" y1="297.56" x2="597.8" y2="297.56" stroke="#4d4d4d" stroke-width="1"/>
<text x="344.40" y="302.46" text-anchor="end" font-size="11.7" fill="#383838">0</text>
<line x1="346.2" y1="267.17" x2="348.8" y2="267.17" stroke="#4d4d4d" stroke-width="1"/>
<line x1="600.4" y1="267.17" x2="597.8" y2="267.17" stroke="#4d4d4d" stroke-width="1"/>
<text x="344.40" y="272.07" text-anchor="end" font-size="11.7" fill="#383838">50</text>
<line x1="346.2" y1="236.77" x2="348.8" y2="236.77" stroke="#4d4d4d" stroke-width="1"/>
<line x1="600.4" y1="236.77" x2="597.8" y2="236.77" stroke="#4d4d4d" stroke-width="1"/>
<text x="344.40" y="241.67" text-anchor="end" font-size="11.7" fill="#383838">100</text>
<line x1="346.2" y1="206.38" x2="348.8" y2="206.38" stroke="#4d4d4d" stroke-width="1"/>
<line x1="600.4" y1="206.38" x2="597.8" y2="206.38" stroke="#4d4d4d" stroke-width="1"/>
<text x="344.40" y="211.28" text-anchor="end" font-size="11.7" fill="#383838">150</text>
<line x1="346.20" y1="315.8" x2="346.20" y2="313.2" stroke="#4d4d4d" stroke-width="1"/>
<line x1="346.20" y1="200.3" x2="346.20" y2="202.9" stroke="#4d4d4d" stroke-width="1"/>
<text x="346.80" y="332.60" text-anchor="middle" font-size="11.7" fill="#383838">10<tspan font-size="8.8" dy="-4.5">1</tspan></text>
<line x1="452.21" y1="315.8" x2="452.21" y2="313.2" stroke="#4d4d4d" stroke-width="1"/>
<line x1="452.21" y1="200.3" x2="452.21" y2="202.9" stroke="#4d4d4d" stroke-width="1"/>
<text x="452.81" y="332.60" text-anchor="middle" font-size="11.7" fill="#383838">10<tspan font-size="8.8" dy="-4.5">2</tspan></text>
<line x1="558.22" y1="315.8" x2="558.22" y2="313.2" stroke="#4d4d4d" stroke-width="1"/>
<line x1="558.22" y1="200.3" x2="558.22" y2="202.9" stroke="#4d4d4d" stroke-width="1"/>
<text x="558.82" y="332.60" text-anchor="middle" font-size="11.7" fill="#383838">10<tspan font-size="8.8" dy="-4.5">3</tspan></text>
<line x1="378.11" y1="315.8" x2="378.11" y2="314.0" stroke="#4d4d4d" stroke-width="1"/>
<line x1="378.11" y1="200.3" x2="378.11" y2="202.10000000000002" stroke="#4d4d4d" stroke-width="1"/>
<line x1="396.78" y1="315.8" x2="396.78" y2="314.0" stroke="#4d4d4d" stroke-width="1"/>
<line x1="396.78" y1="200.3" x2="396.78" y2="202.10000000000002" stroke="#4d4d4d" stroke-width="1"/>
<line x1="410.02" y1="315.8" x2="410.02" y2="314.0" stroke="#4d4d4d" stroke-width="1"/>
<line x1="410.02" y1="200.3" x2="410.02" y2="202.10000000000002" stroke="#4d4d4d" stroke-width="1"/>
<line x1="420.30" y1="315.8" x2="420.30" y2="314.0" stroke="#4d4d4d" stroke-width="1"/>
<line x1="420.30" y1="200.3" x2="420.30" y2="202.10000000000002" stroke="#4d4d4d" stroke-width="1"/>
<line x1="428.69" y1="315.8" x2="428.69" y2="314.0" stroke="#4d4d4d" stroke-width="1"/>
<line x1="428.69" y1="200.3" x2="428.69" y2="202.10000000000002" stroke="#4d4d4d" stroke-width="1"/>
<line x1="435.79" y1="315.8" x2="435.79" y2="314.0" stroke="#4d4d4d" stroke-width="1"/>
<line x1="435.79" y1="200.3" x2="435.79" y2="202.10000000000002" stroke="#4d4d4d" stroke-width="1"/>
<line x1="441.93" y1="315.8" x2="441.93" y2="314.0" stroke="#4d4d4d" stroke-width="1"/>
<line x1="441.93" y1="200.3" x2="441.93" y2="202.10000000000002" stroke="#4d4d4d" stroke-width="1"/>
<line x1="447.36" y1="315.8" x2="447.36" y2="314.0" stroke="#4d4d4d" stroke-width="1"/>
<line x1="447.36" y1="200.3" x2="447.36" y2="202.10000000000002" stroke="#4d4d4d" stroke-width="1"/>
<line x1="484.12" y1="315.8" x2="484.12" y2="314.0" stroke="#4d4d4d" stroke-width="1"/>
<line x1="484.12" y1="200.3" x2="484.12" y2="202.10000000000002" stroke="#4d4d4d" stroke-width="1"/>
<line x1="502.79" y1="315.8" x2="502.79" y2="314.0" stroke="#4d4d4d" stroke-width="1"/>
<line x1="502.79" y1="200.3" x2="502.79" y2="202.10000000000002" stroke="#4d4d4d" stroke-width="1"/>
<line x1="516.03" y1="315.8" x2="516.03" y2="314.0" stroke="#4d4d4d" stroke-width="1"/>
<line x1="516.03" y1="200.3" x2="516.03" y2="202.10000000000002" stroke="#4d4d4d" stroke-width="1"/>
<line x1="526.30" y1="315.8" x2="526.30" y2="314.0" stroke="#4d4d4d" stroke-width="1"/>
<line x1="526.30" y1="200.3" x2="526.30" y2="202.10000000000002" stroke="#4d4d4d" stroke-width="1"/>
<line x1="534.70" y1="315.8" x2="534.70" y2="314.0" stroke="#4d4d4d" stroke-width="1"/>
<line x1="534.70" y1="200.3" x2="534.70" y2="202.10000000000002" stroke="#4d4d4d" stroke-width="1"/>
<line x1="541.79" y1="315.8" x2="541.79" y2="314.0" stroke="#4d4d4d" stroke-width="1"/>
<line x1="541.79" y1="200.3" x2="541.79" y2="202.10000000000002" stroke="#4d4d4d" stroke-width="1"/>
<line x1="547.94" y1="315.8" x2="547.94" y2="314.0" stroke="#4d4d4d" stroke-width="1"/>
<line x1="547.94" y1="200.3" x2="547.94" y2="202.10000000000002" stroke="#4d4d4d" stroke-width="1"/>
<line x1="553.36" y1="315.8" x2="553.36" y2="314.0" stroke="#4d4d4d" stroke-width="1"/>
<line x1="553.36" y1="200.3" x2="553.36" y2="202.10000000000002" stroke="#4d4d4d" stroke-width="1"/>
<line x1="590.13" y1="315.8" x2="590.13" y2="314.0" stroke="#4d4d4d" stroke-width="1"/>
<line x1="590.13" y1="200.3" x2="590.13" y2="202.10000000000002" stroke="#4d4d4d" stroke-width="1"/>
<text x="474.00" y="346.40" text-anchor="middle" font-size="11.9" fill="#383838">spatial frequeny / (1 / mm)</text>
<text transform="translate(320.80,257.55) rotate(-90)" x="0" y="0" text-anchor="middle" font-size="11.8" fill="#383838">amplitude transmission / %</text>
<text x="475.00" y="196.60" text-anchor="middle" font-size="11.9" font-weight="bold" fill="#000" stroke="#000" stroke-width="0.25">d) ASG sample evaluation WLI 50x</text>
<clipPath id="clipe"><rect x="35.2" y="387.3" width="255.0" height="115.39999999999998"/></clipPath>
<line x1="35.2" y1="484.48" x2="290.2" y2="484.48" stroke="#ececec" stroke-width="1"/>
<line x1="35.2" y1="454.11" x2="290.2" y2="454.11" stroke="#ececec" stroke-width="1"/>
<line x1="35.2" y1="423.74" x2="290.2" y2="423.74" stroke="#ececec" stroke-width="1"/>
<line x1="35.2" y1="393.37" x2="290.2" y2="393.37" stroke="#ececec" stroke-width="1"/>
<line x1="141.54" y1="387.3" x2="141.54" y2="502.7" stroke="#ececec" stroke-width="1"/>
<line x1="247.88" y1="387.3" x2="247.88" y2="502.7" stroke="#ececec" stroke-width="1"/>
<path d="M67.21,499.60V502.80M67.21,488.21V491.41M67.21,476.82V480.02M67.21,465.43V468.63M67.21,454.04V457.24M67.21,442.65V445.85M67.21,431.26V434.46M67.21,419.87V423.07M67.21,408.48V411.68M67.21,397.09V400.29" stroke="#d2d2d2" stroke-width="1" fill="none"/>
<path d="M85.94,499.60V502.80M85.94,488.21V491.41M85.94,476.82V480.02M85.94,465.43V468.63M85.94,454.04V457.24M85.94,442.65V445.85M85.94,431.26V434.46M85.94,419.87V423.07M85.94,408.48V411.68M85.94,397.09V400.29" stroke="#d2d2d2" stroke-width="1" fill="none"/>
<path d="M99.22,499.60V502.80M99.22,488.21V491.41M99.22,476.82V480.02M99.22,465.43V468.63M99.22,454.04V457.24M99.22,442.65V445.85M99.22,431.26V434.46M99.22,419.87V423.07M99.22,408.48V411.68M99.22,397.09V400.29" stroke="#d2d2d2" stroke-width="1" fill="none"/>
<path d="M109.53,499.60V502.80M109.53,488.21V491.41M109.53,476.82V480.02M109.53,465.43V468.63M109.53,454.04V457.24M109.53,442.65V445.85M109.53,431.26V434.46M109.53,419.87V423.07M109.53,408.48V411.68M109.53,397.09V400.29" stroke="#d2d2d2" stroke-width="1" fill="none"/>
<path d="M117.95,499.60V502.80M117.95,488.21V491.41M117.95,476.82V480.02M117.95,465.43V468.63M117.95,454.04V457.24M117.95,442.65V445.85M117.95,431.26V434.46M117.95,419.87V423.07M117.95,408.48V411.68M117.95,397.09V400.29" stroke="#d2d2d2" stroke-width="1" fill="none"/>
<path d="M125.07,499.60V502.80M125.07,488.21V491.41M125.07,476.82V480.02M125.07,465.43V468.63M125.07,454.04V457.24M125.07,442.65V445.85M125.07,431.26V434.46M125.07,419.87V423.07M125.07,408.48V411.68M125.07,397.09V400.29" stroke="#d2d2d2" stroke-width="1" fill="none"/>
<path d="M131.24,499.60V502.80M131.24,488.21V491.41M131.24,476.82V480.02M131.24,465.43V468.63M131.24,454.04V457.24M131.24,442.65V445.85M131.24,431.26V434.46M131.24,419.87V423.07M131.24,408.48V411.68M131.24,397.09V400.29" stroke="#d2d2d2" stroke-width="1" fill="none"/>
<path d="M136.68,499.60V502.80M136.68,488.21V491.41M136.68,476.82V480.02M136.68,465.43V468.63M136.68,454.04V457.24M136.68,442.65V445.85M136.68,431.26V434.46M136.68,419.87V423.07M136.68,408.48V411.68M136.68,397.09V400.29" stroke="#d2d2d2" stroke-width="1" fill="none"/>
<path d="M173.55,499.60V502.80M173.55,488.21V491.41M173.55,476.82V480.02M173.55,465.43V468.63M173.55,454.04V457.24M173.55,442.65V445.85M173.55,431.26V434.46M173.55,419.87V423.07M173.55,408.48V411.68M173.55,397.09V400.29" stroke="#d2d2d2" stroke-width="1" fill="none"/>
<path d="M192.28,499.60V502.80M192.28,488.21V491.41M192.28,476.82V480.02M192.28,465.43V468.63M192.28,454.04V457.24M192.28,442.65V445.85M192.28,431.26V434.46M192.28,419.87V423.07M192.28,408.48V411.68M192.28,397.09V400.29" stroke="#d2d2d2" stroke-width="1" fill="none"/>
<path d="M205.57,499.60V502.80M205.57,488.21V491.41M205.57,476.82V480.02M205.57,465.43V468.63M205.57,454.04V457.24M205.57,442.65V445.85M205.57,431.26V434.46M205.57,419.87V423.07M205.57,408.48V411.68M205.57,397.09V400.29" stroke="#d2d2d2" stroke-width="1" fill="none"/>
<path d="M215.87,499.60V502.80M215.87,488.21V491.41M215.87,476.82V480.02M215.87,465.43V468.63M215.87,454.04V457.24M215.87,442.65V445.85M215.87,431.26V434.46M215.87,419.87V423.07M215.87,408.48V411.68M215.87,397.09V400.29" stroke="#d2d2d2" stroke-width="1" fill="none"/>
<path d="M224.29,499.60V502.80M224.29,488.21V491.41M224.29,476.82V480.02M224.29,465.43V468.63M224.29,454.04V457.24M224.29,442.65V445.85M224.29,431.26V434.46M224.29,419.87V423.07M224.29,408.48V411.68M224.29,397.09V400.29" stroke="#d2d2d2" stroke-width="1" fill="none"/>
<path d="M231.41,499.60V502.80M231.41,488.21V491.41M231.41,476.82V480.02M231.41,465.43V468.63M231.41,454.04V457.24M231.41,442.65V445.85M231.41,431.26V434.46M231.41,419.87V423.07M231.41,408.48V411.68M231.41,397.09V400.29" stroke="#d2d2d2" stroke-width="1" fill="none"/>
<path d="M237.58,499.60V502.80M237.58,488.21V491.41M237.58,476.82V480.02M237.58,465.43V468.63M237.58,454.04V457.24M237.58,442.65V445.85M237.58,431.26V434.46M237.58,419.87V423.07M237.58,408.48V411.68M237.58,397.09V400.29" stroke="#d2d2d2" stroke-width="1" fill="none"/>
<path d="M243.02,499.60V502.80M243.02,488.21V491.41M243.02,476.82V480.02M243.02,465.43V468.63M243.02,454.04V457.24M243.02,442.65V445.85M243.02,431.26V434.46M243.02,419.87V423.07M243.02,408.48V411.68M243.02,397.09V400.29" stroke="#d2d2d2" stroke-width="1" fill="none"/>
<path d="M279.89,499.60V502.80M279.89,488.21V491.41M279.89,476.82V480.02M279.89,465.43V468.63M279.89,454.04V457.24M279.89,442.65V445.85M279.89,431.26V434.46M279.89,419.87V423.07M279.89,408.48V411.68M279.89,397.09V400.29" stroke="#d2d2d2" stroke-width="1" fill="none"/>
<g clip-path="url(#clipe)" fill="none" stroke="#0000ff" stroke-width="1.25" stroke-linejoin="round">
<polyline points="129.9,414.0 131.2,414.1 132.5,414.1 133.8,414.4 135.1,414.7 136.4,414.9 137.6,415.1 138.9,415.4 140.1,415.8 141.3,416.3 142.6,416.9 143.8,417.5 145.0,418.1 146.2,418.6 147.5,419.1 148.7,419.6 149.9,420.1 151.1,420.4 152.3,420.9 153.5,421.4 154.7,422.0 155.9,422.6 157.1,423.2 158.2,423.9 159.4,424.5 160.5,425.0 161.7,425.6 162.8,426.2 164.0,426.9 165.1,427.7 166.3,428.4 167.6,428.9 168.8,429.3 170.0,429.6 171.3,430.0 172.5,430.4 173.7,430.9 175.0,431.3 176.2,431.7 177.3,432.4 178.5,433.2 179.6,434.0 180.7,434.6 181.9,435.2 183.0,435.8 184.1,436.6 185.3,437.5 186.4,438.5 187.5,439.4 188.7,440.2 189.8,440.9 190.9,441.4 191.8,442.1 192.7,442.9 193.7,443.8 194.6,444.8 195.5,445.7 196.5,446.6 197.4,447.5 198.3,448.4 199.2,449.3 200.2,450.2 201.1,451.1 202.0,452.0 203.0,452.9 203.9,453.7 204.8,454.5 205.7,455.3 206.7,456.3 207.6,457.4 208.4,458.5 209.2,459.4 209.9,460.4 210.7,461.5 211.5,462.6 212.3,463.6 213.1,464.7 213.9,465.8 214.7,466.9 215.5,468.1 216.4,469.1 217.5,469.9 218.6,470.6 219.7,471.1 220.8,471.6 221.9,472.2 223.0,473.1 224.1,474.0 225.2,474.8 226.3,475.5 227.4,476.1 228.5,476.8 229.6,477.6 230.7,478.3 231.8,479.1 232.9,480.1 234.2,480.6 235.4,480.9 236.7,481.2 238.0,481.4 239.3,481.6 240.6,481.7 241.8,481.8 243.1,482.0 244.4,482.3 245.7,482.6 247.0,482.9 248.3,483.2 249.6,483.4 250.9,483.5 252.3,483.4 253.6,483.2 254.9,483.0 256.2,482.9 257.5,482.9 258.9,483.0 260.2,483.3 261.5,483.6 262.8,483.9 264.1,484.1 265.4,484.1 266.8,484.1 268.1,484.1 269.4,484.1 270.7,484.2 272.1,484.3 273.4,484.4 274.7,484.4 276.0,484.2 277.3,484.1 278.6,484.0 280.0,484.1 281.3,484.3 282.6,484.3 283.9,484.1 285.2,483.9 286.6,483.8 287.9,483.8 289.2,483.8 290.5,483.9"/>
<polyline points="133.8,416.0 135.1,416.5 136.4,416.8 137.7,417.2 139.0,417.6 140.2,417.9 141.4,418.1 142.7,418.4 143.9,418.8 145.2,419.2 146.4,419.6 147.7,420.1 148.9,420.8 150.1,421.4 151.3,422.0 152.5,422.6 153.7,423.3 154.9,424.0 156.1,424.6 157.3,425.1 158.5,425.7 159.7,426.4 160.9,427.2 162.1,427.8 163.2,428.2 164.4,428.6 165.6,429.1 166.8,429.7 168.0,430.3 169.2,430.8 170.4,431.3 171.6,431.8 172.8,432.4 174.0,433.1 175.2,433.7 176.4,434.4 177.5,435.3 178.6,436.2 179.7,437.1 180.8,438.0 181.8,438.7 182.9,439.3 184.0,439.9 185.1,440.6 186.2,441.3 187.3,442.1 188.3,442.9 189.3,443.7 190.3,444.4 191.2,445.3 192.2,446.4 193.1,447.4 194.1,448.4 195.0,449.3 195.9,450.4 196.8,451.3 197.6,452.3 198.4,453.2 199.2,454.2 200.0,455.2 200.8,456.2 201.6,457.3 202.4,458.4 203.2,459.5 204.0,460.4 204.8,461.3 205.6,462.3 206.3,463.4 207.1,464.6 207.9,465.7 208.6,466.8 209.4,467.9 210.2,468.9 210.9,469.9 211.7,470.9 212.5,472.0 213.3,473.2 214.1,474.3 215.1,475.0 216.3,475.6 217.5,476.3 218.7,477.0 219.8,477.7 221.0,478.2 222.2,478.8 223.4,479.3 224.6,479.8 225.9,480.3 227.1,480.8 228.4,481.2 229.6,481.5 230.9,481.4 232.1,481.3 233.4,481.1 234.7,480.9 236.1,481.0 237.4,481.2 238.7,481.6 240.0,482.1 241.3,482.5 242.6,482.9 243.9,483.3 245.3,483.5 246.6,483.5 247.9,483.5 249.2,483.6 250.6,483.5 251.9,483.3 253.2,483.1 254.6,483.0 255.9,482.9 257.2,482.9 258.5,483.0 259.9,483.3 261.2,483.6 262.5,483.8 263.9,484.0 265.2,484.2 266.5,484.4 267.8,484.5 269.2,484.5 270.5,484.5 271.8,484.4 273.2,484.1 274.5,483.7 275.8,483.5 277.2,483.4 278.5,483.4 279.8,483.4 281.2,483.6 282.5,483.8 283.8,484.1 285.2,484.3 286.5,484.3 287.8,484.2 289.2,484.2 290.5,484.4"/>
<polyline points="133.8,415.8 135.1,416.2 136.4,416.5 137.7,416.9 139.0,417.3 140.2,417.7 141.5,418.2 142.7,418.7 144.0,419.2 145.2,419.7 146.5,420.2 147.7,420.8 148.9,421.4 150.1,422.1 151.3,422.8 152.5,423.4 153.7,424.1 154.9,424.6 156.1,424.9 157.3,425.3 158.5,425.8 159.7,426.5 160.9,427.2 162.1,427.7 163.2,428.2 164.4,428.6 165.6,429.1 166.8,429.7 168.0,430.2 169.2,430.9 170.4,431.5 171.6,432.2 172.8,432.8 174.0,433.3 175.2,433.9 176.4,434.6 177.5,435.4 178.6,436.3 179.7,437.1 180.8,437.8 181.8,438.7 182.9,439.5 184.0,440.2 185.1,440.7 186.2,441.2 187.3,441.9 188.3,442.8 189.3,444.0 190.3,445.1 191.2,446.0 192.1,446.8 193.1,447.6 194.0,448.4 194.9,449.4 195.9,450.3 196.7,451.3 197.5,452.5 198.3,453.7 199.1,454.9 199.8,456.1 200.6,457.3 201.4,458.3 202.1,459.3 202.9,460.2 203.6,461.3 204.4,462.8 205.1,464.2 205.8,465.6 206.6,466.7 207.3,467.6 208.0,468.6 208.7,469.7 209.5,470.7 210.2,471.7 210.9,472.7 211.7,473.8 212.4,474.9 213.1,476.0 214.1,477.0 215.3,477.8 216.5,478.6 217.7,479.3 218.8,479.9 220.0,480.5 221.2,481.1 222.4,481.5 223.7,481.8 225.1,482.0 226.4,482.1 227.7,482.0 229.0,482.1 230.3,482.2 231.7,482.6 233.0,482.9 234.3,482.9 235.7,482.7 237.0,482.4 238.3,482.3 239.7,482.2 241.0,482.0 242.4,481.8 243.7,481.8 245.1,482.0 246.4,482.4 247.7,482.9 249.1,483.3 250.4,483.6 251.8,483.6 253.1,483.6 254.4,483.5 255.8,483.5 257.1,483.6 258.4,483.5 259.8,483.2 261.1,483.0 262.5,483.1 263.8,483.3 265.1,483.5 266.5,483.6 267.8,483.6 269.1,483.8 270.5,484.0 271.8,484.2 273.2,484.1 274.5,483.8 275.8,483.6 277.2,483.6 278.5,483.9 279.8,484.1 281.2,484.2 282.5,484.2 283.8,484.1 285.2,483.9 286.5,483.9 287.8,484.1 289.2,484.4 290.5,484.3"/>
<polyline points="132.5,416.0 133.8,416.2 135.2,416.5 136.5,416.9 137.7,417.5 139.0,418.1 140.2,418.5 141.5,419.0 142.7,419.4 144.0,419.6 145.2,419.9 146.5,420.5 147.7,421.3 149.0,422.1 150.2,422.7 151.4,423.2 152.6,423.5 153.8,423.7 154.9,424.1 156.2,424.7 157.3,425.4 158.5,426.3 159.7,427.1 160.9,427.8 162.1,428.3 163.3,428.8 164.5,429.3 165.7,429.8 166.9,430.4 168.1,431.0 169.3,431.7 170.5,432.1 171.7,432.3 172.9,432.6 174.1,433.1 175.3,433.9 176.5,434.7 177.5,435.5 178.6,436.1 179.7,436.8 180.8,437.6 181.8,438.4 182.9,439.2 184.0,440.1 185.1,441.1 186.2,441.9 187.2,442.6 188.3,443.3 189.2,444.0 190.2,444.8 191.2,445.6 192.1,446.6 193.0,447.6 194.0,448.5 194.9,449.4 195.8,450.2 196.7,450.9 197.5,451.9 198.2,453.0 199.0,454.3 199.8,455.7 200.6,457.1 201.3,458.4 202.1,459.5 202.9,460.5 203.6,461.4 204.4,462.4 205.1,463.5 205.8,464.7 206.6,466.1 207.3,467.4 208.0,468.7 208.8,469.8 209.5,470.9 210.2,471.9 211.0,472.9 211.7,473.8 212.5,474.7 213.2,475.9 214.2,476.9 215.4,477.7 216.6,478.4 217.7,479.0 218.9,479.8 220.1,480.7 221.2,481.4 222.5,481.6 223.8,481.7 225.1,482.0 226.4,482.4 227.7,482.7 229.1,483.0 230.4,482.3 231.7,482.2 233.0,482.4 234.4,482.6 235.7,482.9 237.0,483.0 238.4,483.0 239.7,483.1 241.0,483.4 242.4,483.5 243.7,483.3 245.1,483.0 246.4,482.9 247.7,483.0 249.1,483.4 250.4,483.8 251.8,484.0 253.1,484.0 254.4,483.7 255.8,483.6 257.1,483.4 258.4,483.3 259.8,483.3 261.1,483.3 262.4,483.5 263.8,483.6 265.1,483.8 266.5,484.0 267.8,484.2 269.1,484.4 270.5,484.6 271.8,484.5 273.1,484.3 274.5,484.2 275.8,484.1 277.2,484.2 278.5,484.2 279.8,484.2 281.2,484.3 282.5,484.6 283.8,484.8 285.2,484.9 286.5,484.8 287.8,484.6 289.2,484.4 290.5,484.3"/>
<polyline points="133.8,415.9 135.2,416.2 136.5,416.5 137.7,417.1 139.0,417.7 140.2,418.3 141.5,418.7 142.7,419.0 144.0,419.5 145.2,420.0 146.5,420.5 147.8,421.1 149.0,421.7 150.2,422.3 151.4,422.7 152.6,423.1 153.8,423.5 155.0,423.9 156.2,424.5 157.3,425.2 158.5,426.1 159.7,427.0 160.9,427.8 162.1,428.3 163.3,428.5 164.4,428.8 165.6,429.3 166.8,429.9 168.0,430.7 169.2,431.7 170.4,432.6 171.5,433.6 172.7,434.4 173.9,434.9 175.1,435.3 176.2,435.8 177.3,436.4 178.3,437.2 179.4,438.0 180.5,438.9 181.5,439.5 182.6,440.1 183.7,440.8 184.7,441.8 185.8,442.8 186.8,443.9 187.8,445.0 188.7,446.0 189.6,446.9 190.5,447.9 191.5,448.8 192.4,449.6 193.3,450.4 194.2,451.3 195.1,452.2 195.9,453.4 196.7,454.7 197.4,456.0 198.2,457.2 198.9,458.2 199.6,459.2 200.4,460.4 201.1,461.7 201.8,463.1 202.6,464.3 203.3,465.3 204.1,466.3 204.8,467.3 205.6,468.3 206.3,469.4 207.1,470.5 207.8,471.7 208.6,472.8 209.4,473.8 210.2,474.8 210.9,475.8 211.8,476.9 212.6,477.9 213.7,478.5 214.8,479.1 216.1,479.9 217.3,480.6 218.5,481.2 219.7,481.7 220.9,482.2 222.2,482.3 223.6,482.1 224.9,482.1 226.2,482.2 227.6,482.5 228.9,482.8 230.2,482.8 231.6,483.3 232.9,483.6 234.2,483.6 235.6,483.5 236.9,483.4 238.3,483.4 239.6,483.3 241.0,483.3 242.3,483.2 243.7,483.2 245.0,483.2 246.3,483.2 247.7,483.3 249.0,483.3 250.4,483.2 251.7,483.1 253.1,483.2 254.4,483.4 255.7,483.6 257.1,483.7 258.4,483.6 259.8,483.6 261.1,483.5 262.4,483.5 263.8,483.5 265.1,483.6 266.5,483.7 267.8,483.8 269.1,483.9 270.5,484.0 271.8,484.1 273.1,484.3 274.5,484.5 275.8,484.6 277.1,484.7 278.5,484.7 279.8,484.7 281.2,484.6 282.5,484.6 283.8,484.6 285.2,484.7 286.5,484.9 287.8,485.1 289.2,485.2 290.5,485.2"/>
<polyline points="133.8,416.1 135.2,416.6 136.5,417.0 137.7,417.4 139.0,417.6 140.2,417.9 141.5,418.3 142.7,418.7 144.0,419.0 145.2,419.4 146.5,420.0 147.7,420.8 148.9,421.5 150.2,422.2 151.3,422.8 152.6,423.2 153.8,423.6 154.9,424.1 156.2,424.9 157.3,425.6 158.5,426.4 159.7,427.2 160.9,427.9 162.1,428.5 163.3,429.0 164.5,429.4 165.7,430.0 166.9,430.7 168.1,431.3 169.3,431.8 170.4,432.2 171.6,432.7 172.8,433.4 174.0,434.1 175.2,434.9 176.4,435.5 177.4,436.2 178.5,436.8 179.6,437.6 180.6,438.4 181.7,439.5 182.7,440.6 183.8,441.5 184.8,442.1 185.9,442.6 186.9,443.2 187.9,444.2 188.8,445.5 189.7,446.7 190.6,447.8 191.5,448.8 192.4,449.8 193.3,450.7 194.2,451.5 195.1,452.2 195.9,453.1 196.6,454.3 197.3,455.5 198.0,456.7 198.8,458.0 199.5,459.3 200.2,460.6 201.0,461.8 201.7,463.0 202.4,464.0 203.1,465.0 203.9,466.1 204.6,467.5 205.4,468.9 206.1,470.3 206.9,471.5 207.7,472.7 208.4,473.7 209.2,474.8 210.0,476.0 210.8,477.2 211.6,478.3 212.5,479.1 213.5,479.6 214.7,480.0 216.0,480.2 217.2,480.6 218.4,481.1 219.6,481.7 220.9,482.3 222.1,482.6 223.5,482.8 224.8,483.0 226.1,483.0 227.5,483.0 228.8,483.1 230.1,483.5 231.5,483.8 232.8,483.9 234.1,484.0 235.5,484.0 236.8,484.1 238.2,484.1 239.5,483.9 240.8,483.6 242.2,483.2 243.5,482.9 244.9,482.7 246.2,482.6 247.6,482.9 248.9,483.3 250.2,483.7 251.6,484.0 252.9,484.0 254.3,483.9 255.6,483.8 257.0,483.9 258.3,483.9 259.6,483.6 261.0,483.4 262.3,483.3 263.7,483.4 265.0,483.5 266.4,483.6 267.7,483.8 269.0,484.0 270.4,484.3 271.7,484.4 273.1,484.4 274.4,484.2 275.8,483.9 277.1,483.8 278.4,483.6 279.8,483.5 281.1,483.5 282.5,483.5 283.8,483.6 285.1,483.9 286.5,484.3 287.8,484.6 289.2,484.7 290.5,484.7"/>
<polyline points="129.9,416.2 131.2,416.3 132.5,416.4 133.8,416.6 135.2,416.9 136.5,417.2 137.8,417.6 139.0,418.1 140.3,418.6 141.5,419.2 142.8,419.9 144.1,420.5 145.3,420.9 146.6,421.3 147.8,421.6 149.0,422.1 150.2,422.8 151.4,423.6 152.6,424.3 153.8,424.9 155.0,425.3 156.2,425.8 157.4,426.3 158.5,427.1 159.7,427.8 160.8,428.5 162.0,429.2 163.2,429.8 164.3,430.4 165.5,431.0 166.7,431.6 167.8,432.2 169.0,432.8 170.1,433.4 171.3,433.9 172.4,434.5 173.6,435.2 174.7,435.8 175.8,436.4 176.8,437.3 177.9,438.4 178.9,439.6 179.9,440.8 181.0,441.9 182.0,442.9 183.0,443.6 184.1,444.2 185.0,445.0 185.9,445.8 186.8,446.7 187.6,447.8 188.4,449.1 189.2,450.4 190.1,451.4 190.8,452.2 191.7,453.2 192.4,454.4 193.2,455.8 193.9,457.2 194.7,458.6 195.4,459.8 196.1,461.0 196.8,462.1 197.5,463.3 198.3,464.4 199.0,465.4 199.7,466.5 200.4,467.7 201.2,469.0 201.9,470.4 202.8,471.7 203.6,472.9 204.4,474.0 205.2,475.0 206.1,476.0 206.9,477.1 207.8,478.1 208.6,479.2 209.6,480.2 210.6,481.0 211.6,481.8 212.8,482.5 214.0,483.1 215.3,483.3 216.6,483.4 217.8,483.4 219.1,483.4 220.4,483.4 221.8,483.4 223.1,483.4 224.4,483.4 225.8,483.4 227.1,483.4 228.5,483.4 229.8,483.5 231.2,483.0 232.5,483.0 233.9,483.1 235.2,483.4 236.6,483.7 237.9,483.9 239.3,484.0 240.7,484.2 242.0,484.2 243.4,484.1 244.7,483.9 246.1,483.6 247.4,483.5 248.8,483.5 250.1,483.6 251.5,483.8 252.8,484.0 254.2,484.1 255.5,484.1 256.9,484.0 258.2,483.9 259.6,483.8 260.9,483.7 262.2,483.8 263.6,483.9 264.9,484.0 266.3,483.9 267.6,483.8 269.0,483.6 270.3,483.4 271.7,483.5 273.0,483.9 274.4,484.5 275.7,484.9 277.1,485.0 278.4,485.1 279.7,485.1 281.1,485.1 282.4,484.9 283.8,484.5 285.1,484.1 286.5,483.9 287.8,483.8 289.1,483.8 290.5,483.9"/>
<polyline points="129.9,416.5 131.2,417.0 132.6,417.3 133.9,417.5 135.2,417.6 136.5,418.0 137.8,418.7 139.1,419.3 140.3,419.8 141.6,420.1 142.9,420.4 144.1,420.7 145.4,421.2 146.7,421.8 147.9,422.5 149.1,423.1 150.3,423.6 151.5,424.2 152.7,424.9 153.9,425.5 155.1,426.0 156.3,426.7 157.5,427.8 158.6,428.8 159.6,429.6 160.7,430.1 161.8,430.9 162.9,431.9 164.0,432.9 165.1,433.7 166.2,434.4 167.3,435.1 168.4,435.8 169.4,436.4 170.5,437.2 171.5,438.3 172.5,439.5 173.4,440.5 174.4,441.3 175.4,442.0 176.3,442.8 177.3,443.8 178.2,444.9 179.2,446.1 180.2,447.4 181.1,448.5 182.1,449.6 182.8,450.8 183.5,451.9 184.2,453.1 184.9,454.2 185.6,455.3 186.3,456.3 187.0,457.3 187.7,458.3 188.4,459.3 189.2,460.3 189.9,461.5 190.6,462.9 191.5,464.2 192.3,465.4 193.1,466.6 194.0,467.5 194.8,468.0 195.6,468.5 196.5,469.4 197.3,470.6 198.1,472.0 198.9,473.4 199.8,474.5 200.8,475.4 201.7,476.2 202.7,477.2 203.6,478.2 204.6,479.4 205.5,480.5 206.4,481.2 207.4,481.8 208.5,482.4 209.7,483.2 210.9,484.2 212.1,485.1 213.3,485.9 214.6,485.7 216.0,485.3 217.3,485.1 218.7,485.1 220.0,485.2 221.3,485.2 222.7,485.1 224.0,484.8 225.4,484.2 226.7,483.8 228.1,483.9 229.4,484.2 230.8,484.7 232.2,484.5 233.5,484.1 234.9,483.7 236.2,483.3 237.6,483.1 238.9,483.1 240.3,483.6 241.6,484.1 243.0,484.4 244.3,484.4 245.7,484.1 247.1,483.7 248.4,483.4 249.8,483.2 251.1,483.3 252.5,483.6 253.8,483.9 255.2,484.3 256.6,484.6 257.9,484.7 259.3,484.7 260.6,484.6 262.0,484.3 263.4,484.2 264.7,484.2 266.1,484.2 267.4,484.2 268.8,484.3 270.1,484.5 271.5,484.7 272.9,484.8 274.2,484.8 275.6,484.9 276.9,485.0 278.3,485.0 279.6,484.8 281.0,484.7 282.4,484.7 283.7,484.8 285.1,484.8 286.4,484.7 287.8,484.6 289.1,484.7 290.5,484.8"/>
</g>
<line x1="35.20" y1="454.11" x2="290.2" y2="454.11" stroke="#111" stroke-width="1.8" stroke-dasharray="1.8 4.413"/>
<rect x="35.2" y="387.3" width="255.0" height="115.39999999999998" fill="none" stroke="#4d4d4d" stroke-width="1.1"/>
<line x1="35.2" y1="484.48" x2="37.800000000000004" y2="484.48" stroke="#4d4d4d" stroke-width="1"/>
<line x1="290.2" y1="484.48" x2="287.59999999999997" y2="484.48" stroke="#4d4d4d" stroke-width="1"/>
<text x="33.40" y="489.38" text-anchor="end" font-size="11.7" fill="#383838">0</text>
<line x1="35.2" y1="454.11" x2="37.800000000000004" y2="454.11" stroke="#4d4d4d" stroke-width="1"/>
<line x1="290.2" y1="454.11" x2="287.59999999999997" y2="454.11" stroke="#4d4d4d" stroke-width="1"/>
<text x="33.40" y="459.01" text-anchor="end" font-size="11.7" fill="#383838">50</text>
<line x1="35.2" y1="423.74" x2="37.800000000000004" y2="423.74" stroke="#4d4d4d" stroke-width="1"/>
<line x1="290.2" y1="423.74" x2="287.59999999999997" y2="423.74" stroke="#4d4d4d" stroke-width="1"/>
<text x="33.40" y="428.64" text-anchor="end" font-size="11.7" fill="#383838">100</text>
<line x1="35.2" y1="393.37" x2="37.800000000000004" y2="393.37" stroke="#4d4d4d" stroke-width="1"/>
<line x1="290.2" y1="393.37" x2="287.59999999999997" y2="393.37" stroke="#4d4d4d" stroke-width="1"/>
<text x="33.40" y="398.27" text-anchor="end" font-size="11.7" fill="#383838">150</text>
<line x1="35.20" y1="502.7" x2="35.20" y2="500.09999999999997" stroke="#4d4d4d" stroke-width="1"/>
<line x1="35.20" y1="387.3" x2="35.20" y2="389.90000000000003" stroke="#4d4d4d" stroke-width="1"/>
<text x="35.80" y="519.50" text-anchor="middle" font-size="11.7" fill="#383838">10<tspan font-size="8.8" dy="-4.5">1</tspan></text>
<line x1="141.54" y1="502.7" x2="141.54" y2="500.09999999999997" stroke="#4d4d4d" stroke-width="1"/>
<line x1="141.54" y1="387.3" x2="141.54" y2="389.90000000000003" stroke="#4d4d4d" stroke-width="1"/>
<text x="142.14" y="519.50" text-anchor="middle" font-size="11.7" fill="#383838">10<tspan font-size="8.8" dy="-4.5">2</tspan></text>
<line x1="247.88" y1="502.7" x2="247.88" y2="500.09999999999997" stroke="#4d4d4d" stroke-width="1"/>
<line x1="247.88" y1="387.3" x2="247.88" y2="389.90000000000003" stroke="#4d4d4d" stroke-width="1"/>
<text x="248.48" y="519.50" text-anchor="middle" font-size="11.7" fill="#383838">10<tspan font-size="8.8" dy="-4.5">3</tspan></text>
<line x1="67.21" y1="502.7" x2="67.21" y2="500.9" stroke="#4d4d4d" stroke-width="1"/>
<line x1="67.21" y1="387.3" x2="67.21" y2="389.1" stroke="#4d4d4d" stroke-width="1"/>
<line x1="85.94" y1="502.7" x2="85.94" y2="500.9" stroke="#4d4d4d" stroke-width="1"/>
<line x1="85.94" y1="387.3" x2="85.94" y2="389.1" stroke="#4d4d4d" stroke-width="1"/>
<line x1="99.22" y1="502.7" x2="99.22" y2="500.9" stroke="#4d4d4d" stroke-width="1"/>
<line x1="99.22" y1="387.3" x2="99.22" y2="389.1" stroke="#4d4d4d" stroke-width="1"/>
<line x1="109.53" y1="502.7" x2="109.53" y2="500.9" stroke="#4d4d4d" stroke-width="1"/>
<line x1="109.53" y1="387.3" x2="109.53" y2="389.1" stroke="#4d4d4d" stroke-width="1"/>
<line x1="117.95" y1="502.7" x2="117.95" y2="500.9" stroke="#4d4d4d" stroke-width="1"/>
<line x1="117.95" y1="387.3" x2="117.95" y2="389.1" stroke="#4d4d4d" stroke-width="1"/>
<line x1="125.07" y1="502.7" x2="125.07" y2="500.9" stroke="#4d4d4d" stroke-width="1"/>
<line x1="125.07" y1="387.3" x2="125.07" y2="389.1" stroke="#4d4d4d" stroke-width="1"/>
<line x1="131.24" y1="502.7" x2="131.24" y2="500.9" stroke="#4d4d4d" stroke-width="1"/>
<line x1="131.24" y1="387.3" x2="131.24" y2="389.1" stroke="#4d4d4d" stroke-width="1"/>
<line x1="136.68" y1="502.7" x2="136.68" y2="500.9" stroke="#4d4d4d" stroke-width="1"/>
<line x1="136.68" y1="387.3" x2="136.68" y2="389.1" stroke="#4d4d4d" stroke-width="1"/>
<line x1="173.55" y1="502.7" x2="173.55" y2="500.9" stroke="#4d4d4d" stroke-width="1"/>
<line x1="173.55" y1="387.3" x2="173.55" y2="389.1" stroke="#4d4d4d" stroke-width="1"/>
<line x1="192.28" y1="502.7" x2="192.28" y2="500.9" stroke="#4d4d4d" stroke-width="1"/>
<line x1="192.28" y1="387.3" x2="192.28" y2="389.1" stroke="#4d4d4d" stroke-width="1"/>
<line x1="205.57" y1="502.7" x2="205.57" y2="500.9" stroke="#4d4d4d" stroke-width="1"/>
<line x1="205.57" y1="387.3" x2="205.57" y2="389.1" stroke="#4d4d4d" stroke-width="1"/>
<line x1="215.87" y1="502.7" x2="215.87" y2="500.9" stroke="#4d4d4d" stroke-width="1"/>
<line x1="215.87" y1="387.3" x2="215.87" y2="389.1" stroke="#4d4d4d" stroke-width="1"/>
<line x1="224.29" y1="502.7" x2="224.29" y2="500.9" stroke="#4d4d4d" stroke-width="1"/>
<line x1="224.29" y1="387.3" x2="224.29" y2="389.1" stroke="#4d4d4d" stroke-width="1"/>
<line x1="231.41" y1="502.7" x2="231.41" y2="500.9" stroke="#4d4d4d" stroke-width="1"/>
<line x1="231.41" y1="387.3" x2="231.41" y2="389.1" stroke="#4d4d4d" stroke-width="1"/>
<line x1="237.58" y1="502.7" x2="237.58" y2="500.9" stroke="#4d4d4d" stroke-width="1"/>
<line x1="237.58" y1="387.3" x2="237.58" y2="389.1" stroke="#4d4d4d" stroke-width="1"/>
<line x1="243.02" y1="502.7" x2="243.02" y2="500.9" stroke="#4d4d4d" stroke-width="1"/>
<line x1="243.02" y1="387.3" x2="243.02" y2="389.1" stroke="#4d4d4d" stroke-width="1"/>
<line x1="279.89" y1="502.7" x2="279.89" y2="500.9" stroke="#4d4d4d" stroke-width="1"/>
<line x1="279.89" y1="387.3" x2="279.89" y2="389.1" stroke="#4d4d4d" stroke-width="1"/>
<text x="163.40" y="533.30" text-anchor="middle" font-size="11.9" fill="#383838">spatial frequeny / (1 / mm)</text>
<text transform="translate(9.80,444.50) rotate(-90)" x="0" y="0" text-anchor="middle" font-size="11.8" fill="#383838">amplitude transmission / %</text>
<text x="164.40" y="383.60" text-anchor="middle" font-size="11.9" font-weight="bold" fill="#000" stroke="#000" stroke-width="0.25">e) ASG sample evaluation CM 100x</text>
<clipPath id="clipf"><rect x="346.2" y="387.3" width="254.2" height="115.39999999999998"/></clipPath>
<line x1="346.2" y1="484.48" x2="600.4" y2="484.48" stroke="#ececec" stroke-width="1"/>
<line x1="346.2" y1="454.11" x2="600.4" y2="454.11" stroke="#ececec" stroke-width="1"/>
<line x1="346.2" y1="423.74" x2="600.4" y2="423.74" stroke="#ececec" stroke-width="1"/>
<line x1="346.2" y1="393.37" x2="600.4" y2="393.37" stroke="#ececec" stroke-width="1"/>
<line x1="452.21" y1="387.3" x2="452.21" y2="502.7" stroke="#ececec" stroke-width="1"/>
<line x1="558.22" y1="387.3" x2="558.22" y2="502.7" stroke="#ececec" stroke-width="1"/>
<path d="M378.11,499.60V502.80M378.11,488.21V491.41M378.11,476.82V480.02M378.11,465.43V468.63M378.11,454.04V457.24M378.11,442.65V445.85M378.11,431.26V434.46M378.11,419.87V423.07M378.11,408.48V411.68M378.11,397.09V400.29" stroke="#d2d2d2" stroke-width="1" fill="none"/>
<path d="M396.78,499.60V502.80M396.78,488.21V491.41M396.78,476.82V480.02M396.78,465.43V468.63M396.78,454.04V457.24M396.78,442.65V445.85M396.78,431.26V434.46M396.78,419.87V423.07M396.78,408.48V411.68M396.78,397.09V400.29" stroke="#d2d2d2" stroke-width="1" fill="none"/>
<path d="M410.02,499.60V502.80M410.02,488.21V491.41M410.02,476.82V480.02M410.02,465.43V468.63M410.02,454.04V457.24M410.02,442.65V445.85M410.02,431.26V434.46M410.02,419.87V423.07M410.02,408.48V411.68M410.02,397.09V400.29" stroke="#d2d2d2" stroke-width="1" fill="none"/>
<path d="M420.30,499.60V502.80M420.30,488.21V491.41M420.30,476.82V480.02M420.30,465.43V468.63M420.30,454.04V457.24M420.30,442.65V445.85M420.30,431.26V434.46M420.30,419.87V423.07M420.30,408.48V411.68M420.30,397.09V400.29" stroke="#d2d2d2" stroke-width="1" fill="none"/>
<path d="M428.69,499.60V502.80M428.69,488.21V491.41M428.69,476.82V480.02M428.69,465.43V468.63M428.69,454.04V457.24M428.69,442.65V445.85M428.69,431.26V434.46M428.69,419.87V423.07M428.69,408.48V411.68M428.69,397.09V400.29" stroke="#d2d2d2" stroke-width="1" fill="none"/>
<path d="M435.79,499.60V502.80M435.79,488.21V491.41M435.79,476.82V480.02M435.79,465.43V468.63M435.79,454.04V457.24M435.79,442.65V445.85M435.79,431.26V434.46M435.79,419.87V423.07M435.79,408.48V411.68M435.79,397.09V400.29" stroke="#d2d2d2" stroke-width="1" fill="none"/>
<path d="M441.93,499.60V502.80M441.93,488.21V491.41M441.93,476.82V480.02M441.93,465.43V468.63M441.93,454.04V457.24M441.93,442.65V445.85M441.93,431.26V434.46M441.93,419.87V423.07M441.93,408.48V411.68M441.93,397.09V400.29" stroke="#d2d2d2" stroke-width="1" fill="none"/>
<path d="M447.36,499.60V502.80M447.36,488.21V491.41M447.36,476.82V480.02M447.36,465.43V468.63M447.36,454.04V457.24M447.36,442.65V445.85M447.36,431.26V434.46M447.36,419.87V423.07M447.36,408.48V411.68M447.36,397.09V400.29" stroke="#d2d2d2" stroke-width="1" fill="none"/>
<path d="M484.12,499.60V502.80M484.12,488.21V491.41M484.12,476.82V480.02M484.12,465.43V468.63M484.12,454.04V457.24M484.12,442.65V445.85M484.12,431.26V434.46M484.12,419.87V423.07M484.12,408.48V411.68M484.12,397.09V400.29" stroke="#d2d2d2" stroke-width="1" fill="none"/>
<path d="M502.79,499.60V502.80M502.79,488.21V491.41M502.79,476.82V480.02M502.79,465.43V468.63M502.79,454.04V457.24M502.79,442.65V445.85M502.79,431.26V434.46M502.79,419.87V423.07M502.79,408.48V411.68M502.79,397.09V400.29" stroke="#d2d2d2" stroke-width="1" fill="none"/>
<path d="M516.03,499.60V502.80M516.03,488.21V491.41M516.03,476.82V480.02M516.03,465.43V468.63M516.03,454.04V457.24M516.03,442.65V445.85M516.03,431.26V434.46M516.03,419.87V423.07M516.03,408.48V411.68M516.03,397.09V400.29" stroke="#d2d2d2" stroke-width="1" fill="none"/>
<path d="M526.30,499.60V502.80M526.30,488.21V491.41M526.30,476.82V480.02M526.30,465.43V468.63M526.30,454.04V457.24M526.30,442.65V445.85M526.30,431.26V434.46M526.30,419.87V423.07M526.30,408.48V411.68M526.30,397.09V400.29" stroke="#d2d2d2" stroke-width="1" fill="none"/>
<path d="M534.70,499.60V502.80M534.70,488.21V491.41M534.70,476.82V480.02M534.70,465.43V468.63M534.70,454.04V457.24M534.70,442.65V445.85M534.70,431.26V434.46M534.70,419.87V423.07M534.70,408.48V411.68M534.70,397.09V400.29" stroke="#d2d2d2" stroke-width="1" fill="none"/>
<path d="M541.79,499.60V502.80M541.79,488.21V491.41M541.79,476.82V480.02M541.79,465.43V468.63M541.79,454.04V457.24M541.79,442.65V445.85M541.79,431.26V434.46M541.79,419.87V423.07M541.79,408.48V411.68M541.79,397.09V400.29" stroke="#d2d2d2" stroke-width="1" fill="none"/>
<path d="M547.94,499.60V502.80M547.94,488.21V491.41M547.94,476.82V480.02M547.94,465.43V468.63M547.94,454.04V457.24M547.94,442.65V445.85M547.94,431.26V434.46M547.94,419.87V423.07M547.94,408.48V411.68M547.94,397.09V400.29" stroke="#d2d2d2" stroke-width="1" fill="none"/>
<path d="M553.36,499.60V502.80M553.36,488.21V491.41M553.36,476.82V480.02M553.36,465.43V468.63M553.36,454.04V457.24M553.36,442.65V445.85M553.36,431.26V434.46M553.36,419.87V423.07M553.36,408.48V411.68M553.36,397.09V400.29" stroke="#d2d2d2" stroke-width="1" fill="none"/>
<path d="M590.13,499.60V502.80M590.13,488.21V491.41M590.13,476.82V480.02M590.13,465.43V468.63M590.13,454.04V457.24M590.13,442.65V445.85M590.13,431.26V434.46M590.13,419.87V423.07M590.13,408.48V411.68M590.13,397.09V400.29" stroke="#d2d2d2" stroke-width="1" fill="none"/>
<g clip-path="url(#clipf)" fill="none" stroke="#ff0000" stroke-width="1.25" stroke-linejoin="round">
<polyline points="440.8,414.9 442.0,415.0 443.3,415.1 444.5,415.2 445.7,415.3 446.9,415.6 448.2,416.0 449.4,416.6 450.6,417.2 451.8,417.7 453.0,418.1 454.2,418.3 455.4,418.5 456.6,418.8 457.9,419.1 459.1,419.4 460.3,419.8 461.5,420.1 462.7,420.5 463.9,421.1 465.1,421.7 466.3,422.3 467.5,422.8 468.7,423.2 469.9,423.6 471.1,424.0 472.4,424.3 473.6,424.6 474.8,424.8 476.1,425.1 477.3,425.4 478.5,425.8 479.7,426.2 480.9,426.8 482.1,427.3 483.3,427.8 484.4,428.3 485.6,428.9 486.8,429.5 487.9,429.9 489.0,430.5 490.1,431.0 491.2,431.6 492.4,432.3 493.5,433.0 494.6,433.5 495.6,434.1 496.6,434.7 497.6,435.4 498.6,436.4 499.6,437.3 500.6,438.2 501.7,439.1 502.7,439.9 503.8,440.7 504.8,441.4 505.9,442.0 506.9,442.5 508.0,443.1 509.1,443.7 510.1,444.5 511.2,445.1 512.4,445.7 513.5,446.3 514.6,447.0 515.7,447.6 516.8,448.3 517.9,448.9 519.0,449.5 520.1,450.2 521.1,451.0 522.1,451.9 523.1,452.7 524.0,453.5 525.0,454.3 526.0,455.1 527.0,455.9 528.0,456.7 529.0,457.5 530.0,458.4 531.0,459.2 532.0,460.0 533.1,460.8 534.1,461.6 535.2,462.3 536.2,462.9 537.3,463.5 538.3,464.0 539.4,464.7 540.4,465.5 541.5,466.4 542.6,467.3 543.6,468.1 544.7,468.9 545.8,469.6 546.9,470.2 548.0,470.7 549.1,471.1 550.2,471.6 551.3,472.2 552.5,472.7 553.6,473.3 554.8,473.9 555.9,474.6 557.0,475.4 558.2,476.3 559.4,477.1 560.5,477.6 561.7,478.0 562.8,478.3 564.0,478.8 565.2,479.4 566.4,479.7 567.6,479.9 568.9,480.2 570.1,480.6 571.3,480.9 572.5,481.0 573.8,481.1 575.0,481.2 576.3,481.4 577.6,481.7 578.9,482.0 580.1,482.2 581.4,482.5 582.7,482.8 583.9,483.1 585.2,483.2 586.5,483.3 587.8,483.3 589.0,483.3 590.3,483.3 591.6,483.3 592.9,483.2 594.1,483.1 595.4,483.0 596.7,483.0 598.0,483.1 599.2,483.2 600.5,483.3"/>
<polyline points="441.4,415.6 442.7,415.8 444.0,415.9 445.2,416.1 446.5,416.4 447.8,416.7 449.0,417.1 450.3,417.5 451.6,417.7 452.8,418.1 454.0,418.5 455.2,419.2 456.4,420.1 457.6,420.9 458.9,421.5 460.1,422.0 461.3,422.3 462.5,422.4 463.7,422.7 464.9,423.0 466.1,423.4 467.3,423.9 468.5,424.4 469.7,424.9 470.9,425.3 472.1,425.6 473.4,425.9 474.6,426.3 475.8,426.5 477.0,426.8 478.2,426.9 479.4,427.2 480.6,427.9 481.7,428.7 482.8,429.4 483.9,429.9 485.1,430.3 486.2,430.8 487.2,431.6 488.3,432.2 489.3,432.9 490.3,433.6 491.3,434.4 492.4,435.1 493.4,435.7 494.4,436.4 495.4,437.2 496.5,438.0 497.5,438.7 498.6,439.3 499.6,440.0 500.6,440.9 501.7,441.7 502.7,442.3 503.8,442.6 504.9,443.0 505.9,443.6 506.9,444.4 507.9,445.3 509.0,446.0 510.0,446.7 511.1,447.4 512.1,448.2 513.2,448.9 514.2,449.6 515.3,450.4 516.4,451.2 517.5,451.9 518.6,452.5 519.6,453.0 520.7,453.7 521.7,454.5 522.7,455.4 523.6,456.4 524.5,457.4 525.5,458.4 526.4,459.2 527.3,460.0 528.3,460.8 529.2,461.8 530.1,462.8 531.1,463.6 532.1,464.4 533.1,465.1 534.1,466.0 535.2,467.0 536.2,467.9 537.2,468.6 538.3,469.4 539.3,470.2 540.4,471.0 541.4,471.8 542.6,472.2 543.7,472.5 544.9,472.7 546.0,473.2 547.2,473.8 548.3,474.6 549.5,475.3 550.7,475.9 551.8,476.5 553.0,477.0 554.2,477.3 555.4,477.5 556.6,477.8 557.9,478.2 559.1,478.7 560.3,479.2 561.5,479.7 562.7,480.0 563.9,480.2 565.1,480.4 566.3,480.6 567.6,480.7 568.8,480.7 570.1,480.8 571.3,481.0 572.6,481.4 573.8,481.8 575.1,482.1 576.3,482.2 577.6,482.4 578.9,482.4 580.1,482.4 581.4,482.2 582.7,482.1 584.0,482.1 585.2,482.4 586.5,482.6 587.8,482.6 589.0,482.6 590.3,482.7 591.6,483.0 592.9,483.3 594.1,483.4 595.4,483.4 596.7,483.4 598.0,483.3 599.2,483.0 600.5,482.7"/>
<polyline points="443.9,418.0 445.2,418.1 446.4,418.1 447.6,418.1 448.9,418.3 450.1,418.4 451.4,418.6 452.6,418.8 453.8,419.3 455.0,419.9 456.1,420.5 457.3,421.0 458.5,421.6 459.6,422.0 460.8,422.3 462.0,422.8 463.2,423.4 464.4,424.0 465.6,424.4 466.7,424.7 467.9,425.0 469.1,425.5 470.3,426.1 471.5,426.6 472.7,426.9 473.9,427.0 475.1,427.2 476.3,427.5 477.5,428.0 478.7,428.5 479.9,428.9 481.1,429.6 482.2,430.4 483.3,431.0 484.4,431.6 485.6,432.1 486.7,432.6 487.6,433.3 488.6,434.1 489.5,435.0 490.5,436.0 491.4,436.9 492.4,437.9 493.4,438.8 494.3,439.6 495.4,440.4 496.4,441.1 497.5,441.8 498.5,442.6 499.6,443.2 500.6,443.8 501.7,444.4 502.8,444.9 503.8,445.5 504.8,446.2 505.8,446.9 506.8,447.7 507.7,448.5 508.7,449.5 509.7,450.4 510.6,451.4 511.6,452.3 512.6,453.0 513.6,453.6 514.7,454.3 515.8,455.1 516.9,455.9 517.9,456.7 519.0,457.3 520.0,458.0 521.1,458.6 522.1,459.3 523.0,460.1 523.9,461.0 524.9,461.9 525.8,462.7 526.7,463.6 527.6,464.5 528.5,465.2 529.4,465.9 530.3,466.8 531.3,467.7 532.4,468.4 533.5,469.1 534.5,469.7 535.6,470.4 536.7,471.0 537.8,471.6 538.8,472.2 539.9,472.7 541.0,473.3 542.1,473.6 543.3,473.9 544.5,474.3 545.7,474.6 546.9,475.0 548.1,475.6 549.3,476.2 550.5,476.8 551.7,477.5 552.9,478.1 554.1,478.5 555.3,478.7 556.5,478.7 557.7,478.7 559.0,478.8 560.2,479.1 561.4,479.6 562.6,480.1 563.8,480.5 565.1,480.4 566.3,480.5 567.6,480.6 568.8,480.7 570.1,480.9 571.3,481.2 572.6,481.6 573.8,481.9 575.1,482.1 576.4,482.2 577.6,482.5 578.9,482.7 580.2,482.9 581.5,483.0 582.7,482.9 584.0,482.8 585.3,482.8 586.5,482.9 587.8,483.1 589.1,483.2 590.3,483.3 591.6,483.3 592.9,483.5 594.1,483.8 595.4,484.1 596.7,484.2 598.0,484.2 599.2,484.2 600.5,484.2"/>
<polyline points="445.1,418.4 446.4,418.8 447.7,419.0 449.0,419.1 450.3,419.3 451.6,419.6 452.8,420.0 454.0,420.4 455.2,420.8 456.4,421.1 457.6,421.5 458.8,421.9 460.0,422.5 461.2,423.2 462.4,423.7 463.5,424.1 464.7,424.4 465.9,424.8 467.1,425.4 468.2,426.1 469.4,426.6 470.6,427.0 471.8,427.3 472.9,427.4 474.1,427.6 475.3,427.9 476.5,428.3 477.7,428.8 478.8,429.4 480.0,429.9 481.1,430.4 482.2,431.1 483.3,431.6 484.4,432.2 485.4,432.8 486.5,433.6 487.5,434.4 488.4,435.3 489.4,436.1 490.3,436.9 491.2,437.7 492.1,438.6 493.0,439.4 493.9,440.2 494.8,440.9 495.8,441.5 496.7,442.4 497.7,443.4 498.7,444.3 499.7,445.1 500.7,445.9 501.7,446.9 502.6,447.9 503.6,448.9 504.5,449.8 505.4,450.7 506.2,451.6 507.0,452.4 507.9,453.1 508.6,454.1 509.4,455.3 510.1,456.7 510.8,457.9 511.5,459.0 512.3,460.0 513.0,461.0 513.8,461.9 514.5,462.8 515.2,463.7 516.0,464.7 516.8,465.6 517.9,466.2 518.9,466.9 519.9,467.6 520.9,468.1 521.9,468.4 522.9,468.6 524.0,469.1 525.0,469.9 526.1,470.9 527.1,471.8 528.2,472.4 529.4,472.9 530.6,473.2 531.8,473.6 532.9,474.1 534.1,474.8 535.3,475.4 536.5,476.1 537.6,476.6 538.8,476.9 540.1,476.9 541.3,477.0 542.6,477.2 543.9,477.7 545.1,478.1 546.4,478.3 547.7,478.5 549.0,478.7 550.2,479.0 551.5,479.5 552.8,480.0 554.0,480.4 555.3,480.7 556.6,480.9 557.9,481.0 559.2,481.1 560.5,481.2 561.7,481.4 563.0,481.5 564.3,481.7 565.6,481.7 566.9,482.2 568.2,482.5 569.4,482.5 570.7,482.4 572.0,482.4 573.3,482.5 574.6,482.7 575.9,483.1 577.1,483.5 578.4,483.7 579.7,483.6 581.0,483.5 582.3,483.5 583.6,483.4 584.9,483.4 586.2,483.3 587.5,483.2 588.8,483.1 590.1,483.1 591.4,483.2 592.7,483.4 594.0,483.6 595.3,483.7 596.6,483.7 597.9,483.5 599.2,483.3 600.5,483.3"/>
<polyline points="443.8,419.3 445.1,419.5 446.5,419.6 447.8,419.5 449.1,419.5 450.4,419.6 451.7,420.0 452.9,420.5 454.2,420.9 455.4,421.4 456.6,421.9 457.8,422.4 459.0,422.7 460.2,423.0 461.4,423.4 462.7,423.8 463.9,424.3 465.1,425.0 466.3,425.6 467.5,426.1 468.7,426.5 470.0,427.0 471.2,427.4 472.4,427.8 473.7,428.3 474.9,428.8 476.2,429.3 477.4,429.7 478.7,430.1 479.9,430.7 481.1,431.3 482.2,431.8 483.4,432.3 484.6,432.8 485.6,433.6 486.7,434.6 487.7,435.7 488.8,436.7 489.8,437.6 490.7,438.5 491.5,439.5 492.4,440.6 493.3,441.9 494.1,443.1 495.0,444.1 495.8,445.0 496.7,446.1 497.5,447.3 498.3,448.4 499.1,449.5 499.9,450.8 500.8,452.0 501.6,453.2 502.3,454.2 503.1,455.2 503.7,456.3 504.3,457.5 504.9,458.8 505.5,460.3 506.0,461.9 506.5,463.3 506.7,464.5 507.0,465.6 507.3,466.9 507.5,468.3 507.8,469.9 508.0,471.3 508.3,472.6 508.6,473.8 508.9,475.0 509.2,476.2 509.9,477.0 511.1,476.9 512.4,476.8 513.6,476.7 514.9,476.6 516.1,476.4 517.4,476.3 518.6,476.4 520.0,476.9 521.3,477.3 522.6,477.7 523.9,478.0 525.2,478.3 526.6,478.6 527.9,478.7 529.2,478.9 530.6,479.1 531.9,479.3 533.3,479.5 534.6,479.7 536.0,479.9 537.3,480.1 538.7,480.1 540.0,480.0 541.4,480.1 542.8,480.4 544.1,480.8 545.5,481.1 546.8,481.2 548.2,481.4 549.5,481.5 550.9,481.6 552.2,481.7 553.6,481.8 554.9,482.0 556.3,482.2 557.6,482.4 559.0,482.5 560.3,482.4 561.6,482.3 563.0,482.4 564.3,482.6 565.7,483.0 567.0,483.4 568.4,483.6 569.7,483.8 571.0,483.8 572.4,483.7 573.7,483.4 575.0,483.1 576.4,482.9 577.7,483.0 579.0,483.3 580.4,483.6 581.7,483.8 583.1,483.7 584.4,483.5 585.7,483.4 587.1,483.3 588.4,483.4 589.8,483.6 591.1,483.7 592.4,483.9 593.8,484.1 595.1,484.3 596.5,484.6 597.8,484.8 599.2,484.8 600.5,484.6"/>
<polyline points="444.6,419.6 446.0,420.0 447.3,420.3 448.7,420.4 450.1,420.3 451.4,420.2 452.7,420.4 454.0,420.9 455.2,421.5 456.5,422.2 457.8,422.9 459.0,423.5 460.3,423.9 461.5,424.3 462.8,424.7 464.1,425.2 465.3,425.8 466.6,426.5 467.8,427.0 469.1,427.5 470.4,428.1 471.6,428.5 472.9,428.9 474.2,429.4 475.5,429.9 476.8,430.5 478.1,431.0 479.4,431.4 480.6,431.9 481.8,432.5 482.9,433.2 484.1,434.0 485.3,434.8 486.5,435.4 487.4,436.3 488.4,437.2 489.4,438.3 490.3,439.3 491.3,440.4 492.2,441.4 492.9,442.5 493.7,443.6 494.4,444.9 495.2,446.2 495.9,447.5 496.7,448.6 497.4,449.7 498.1,450.7 498.8,451.7 499.4,452.8 500.1,454.1 500.8,455.4 501.5,456.7 502.2,457.8 502.8,458.9 503.3,460.2 503.8,461.6 504.3,463.0 504.8,464.4 505.2,465.8 505.6,467.3 505.7,468.7 505.9,469.9 506.0,471.0 506.1,472.2 506.3,473.6 506.4,474.9 506.7,476.2 506.9,477.4 507.1,478.5 507.4,479.8 508.0,480.5 509.3,480.3 510.7,480.0 512.0,479.7 513.3,479.4 514.6,479.1 515.9,478.8 517.3,478.7 518.6,478.8 520.0,478.9 521.3,479.0 522.7,479.2 524.0,479.5 525.4,480.0 526.7,480.5 528.1,481.0 529.5,481.2 530.8,481.3 532.2,481.4 533.5,481.5 534.9,481.6 536.2,481.6 537.6,481.6 539.0,481.8 540.3,482.0 541.7,482.1 543.1,482.3 544.4,482.4 545.8,482.5 547.1,482.6 548.5,482.6 549.9,482.7 551.2,482.7 552.6,482.6 554.0,482.5 555.4,482.4 556.8,482.4 558.1,482.6 559.5,482.8 560.9,483.1 562.3,483.2 563.7,483.1 565.0,482.8 566.4,482.9 567.8,483.0 569.2,482.9 570.5,482.7 571.9,482.7 573.3,482.9 574.6,483.0 576.0,483.1 577.4,483.1 578.8,483.2 580.1,483.3 581.5,483.2 582.8,483.1 584.2,483.3 585.6,483.5 586.9,483.6 588.3,483.7 589.6,483.8 591.0,483.9 592.4,484.2 593.7,484.4 595.1,484.5 596.4,484.4 597.8,484.2 599.1,484.0 600.5,484.1"/>
<polyline points="503.0,462.0 505.5,470.0 507.2,484.1 508.3,476.0 509.2,483.0 510.7,472.5 511.7,481.5 513.3,471.0 515.0,477.0 516.7,478.0 525.0,480.0"/>
<polyline points="515.0,458.0 518.5,462.0 520.2,449.5 521.5,466.0 522.3,454.0 523.6,467.7 527.0,470.5"/>
<polyline points="526.0,460.0 531.4,464.2 532.3,448.6 539.2,453.8 540.9,471.1 544.0,473.5"/>
<polyline points="545.0,470.0 549.0,471.5 551.3,469.0 553.0,474.0 557.0,476.0"/>
</g>
<line x1="346.20" y1="454.11" x2="600.4" y2="454.11" stroke="#111" stroke-width="1.8" stroke-dasharray="1.8 4.413"/>
<rect x="346.2" y="387.3" width="254.2" height="115.39999999999998" fill="none" stroke="#4d4d4d" stroke-width="1.1"/>
<line x1="346.2" y1="484.48" x2="348.8" y2="484.48" stroke="#4d4d4d" stroke-width="1"/>
<line x1="600.4" y1="484.48" x2="597.8" y2="484.48" stroke="#4d4d4d" stroke-width="1"/>
<text x="344.40" y="489.38" text-anchor="end" font-size="11.7" fill="#383838">0</text>
<line x1="346.2" y1="454.11" x2="348.8" y2="454.11" stroke="#4d4d4d" stroke-width="1"/>
<line x1="600.4" y1="454.11" x2="597.8" y2="454.11" stroke="#4d4d4d" stroke-width="1"/>
<text x="344.40" y="459.01" text-anchor="end" font-size="11.7" fill="#383838">50</text>
<line x1="346.2" y1="423.74" x2="348.8" y2="423.74" stroke="#4d4d4d" stroke-width="1"/>
<line x1="600.4" y1="423.74" x2="597.8" y2="423.74" stroke="#4d4d4d" stroke-width="1"/>
<text x="344.40" y="428.64" text-anchor="end" font-size="11.7" fill="#383838">100</text>
<line x1="346.2" y1="393.37" x2="348.8" y2="393.37" stroke="#4d4d4d" stroke-width="1"/>
<line x1="600.4" y1="393.37" x2="597.8" y2="393.37" stroke="#4d4d4d" stroke-width="1"/>
<text x="344.40" y="398.27" text-anchor="end" font-size="11.7" fill="#383838">150</text>
<line x1="346.20" y1="502.7" x2="346.20" y2="500.09999999999997" stroke="#4d4d4d" stroke-width="1"/>
<line x1="346.20" y1="387.3" x2="346.20" y2="389.90000000000003" stroke="#4d4d4d" stroke-width="1"/>
<text x="346.80" y="519.50" text-anchor="middle" font-size="11.7" fill="#383838">10<tspan font-size="8.8" dy="-4.5">1</tspan></text>
<line x1="452.21" y1="502.7" x2="452.21" y2="500.09999999999997" stroke="#4d4d4d" stroke-width="1"/>
<line x1="452.21" y1="387.3" x2="452.21" y2="389.90000000000003" stroke="#4d4d4d" stroke-width="1"/>
<text x="452.81" y="519.50" text-anchor="middle" font-size="11.7" fill="#383838">10<tspan font-size="8.8" dy="-4.5">2</tspan></text>
<line x1="558.22" y1="502.7" x2="558.22" y2="500.09999999999997" stroke="#4d4d4d" stroke-width="1"/>
<line x1="558.22" y1="387.3" x2="558.22" y2="389.90000000000003" stroke="#4d4d4d" stroke-width="1"/>
<text x="558.82" y="519.50" text-anchor="middle" font-size="11.7" fill="#383838">10<tspan font-size="8.8" dy="-4.5">3</tspan></text>
<line x1="378.11" y1="502.7" x2="378.11" y2="500.9" stroke="#4d4d4d" stroke-width="1"/>
<line x1="378.11" y1="387.3" x2="378.11" y2="389.1" stroke="#4d4d4d" stroke-width="1"/>
<line x1="396.78" y1="502.7" x2="396.78" y2="500.9" stroke="#4d4d4d" stroke-width="1"/>
<line x1="396.78" y1="387.3" x2="396.78" y2="389.1" stroke="#4d4d4d" stroke-width="1"/>
<line x1="410.02" y1="502.7" x2="410.02" y2="500.9" stroke="#4d4d4d" stroke-width="1"/>
<line x1="410.02" y1="387.3" x2="410.02" y2="389.1" stroke="#4d4d4d" stroke-width="1"/>
<line x1="420.30" y1="502.7" x2="420.30" y2="500.9" stroke="#4d4d4d" stroke-width="1"/>
<line x1="420.30" y1="387.3" x2="420.30" y2="389.1" stroke="#4d4d4d" stroke-width="1"/>
<line x1="428.69" y1="502.7" x2="428.69" y2="500.9" stroke="#4d4d4d" stroke-width="1"/>
<line x1="428.69" y1="387.3" x2="428.69" y2="389.1" stroke="#4d4d4d" stroke-width="1"/>
<line x1="435.79" y1="502.7" x2="435.79" y2="500.9" stroke="#4d4d4d" stroke-width="1"/>
<line x1="435.79" y1="387.3" x2="435.79" y2="389.1" stroke="#4d4d4d" stroke-width="1"/>
<line x1="441.93" y1="502.7" x2="441.93" y2="500.9" stroke="#4d4d4d" stroke-width="1"/>
<line x1="441.93" y1="387.3" x2="441.93" y2="389.1" stroke="#4d4d4d" stroke-width="1"/>
<line x1="447.36" y1="502.7" x2="447.36" y2="500.9" stroke="#4d4d4d" stroke-width="1"/>
<line x1="447.36" y1="387.3" x2="447.36" y2="389.1" stroke="#4d4d4d" stroke-width="1"/>
<line x1="484.12" y1="502.7" x2="484.12" y2="500.9" stroke="#4d4d4d" stroke-width="1"/>
<line x1="484.12" y1="387.3" x2="484.12" y2="389.1" stroke="#4d4d4d" stroke-width="1"/>
<line x1="502.79" y1="502.7" x2="502.79" y2="500.9" stroke="#4d4d4d" stroke-width="1"/>
<line x1="502.79" y1="387.3" x2="502.79" y2="389.1" stroke="#4d4d4d" stroke-width="1"/>
<line x1="516.03" y1="502.7" x2="516.03" y2="500.9" stroke="#4d4d4d" stroke-width="1"/>
<line x1="516.03" y1="387.3" x2="516.03" y2="389.1" stroke="#4d4d4d" stroke-width="1"/>
<line x1="526.30" y1="502.7" x2="526.30" y2="500.9" stroke="#4d4d4d" stroke-width="1"/>
<line x1="526.30" y1="387.3" x2="526.30" y2="389.1" stroke="#4d4d4d" stroke-width="1"/>
<line x1="534.70" y1="502.7" x2="534.70" y2="500.9" stroke="#4d4d4d" stroke-width="1"/>
<line x1="534.70" y1="387.3" x2="534.70" y2="389.1" stroke="#4d4d4d" stroke-width="1"/>
<line x1="541.79" y1="502.7" x2="541.79" y2="500.9" stroke="#4d4d4d" stroke-width="1"/>
<line x1="541.79" y1="387.3" x2="541.79" y2="389.1" stroke="#4d4d4d" stroke-width="1"/>
<line x1="547.94" y1="502.7" x2="547.94" y2="500.9" stroke="#4d4d4d" stroke-width="1"/>
<line x1="547.94" y1="387.3" x2="547.94" y2="389.1" stroke="#4d4d4d" stroke-width="1"/>
<line x1="553.36" y1="502.7" x2="553.36" y2="500.9" stroke="#4d4d4d" stroke-width="1"/>
<line x1="553.36" y1="387.3" x2="553.36" y2="389.1" stroke="#4d4d4d" stroke-width="1"/>
<line x1="590.13" y1="502.7" x2="590.13" y2="500.9" stroke="#4d4d4d" stroke-width="1"/>
<line x1="590.13" y1="387.3" x2="590.13" y2="389.1" stroke="#4d4d4d" stroke-width="1"/>
<text x="474.00" y="533.30" text-anchor="middle" font-size="11.9" fill="#383838">spatial frequeny / (1 / mm)</text>
<text transform="translate(320.80,444.50) rotate(-90)" x="0" y="0" text-anchor="middle" font-size="11.8" fill="#383838">amplitude transmission / %</text>
<text x="475.00" y="383.60" text-anchor="middle" font-size="11.9" font-weight="bold" fill="#000" stroke="#000" stroke-width="0.25">f) ASG sample evaluation WLI 100x</text>
<text x="250" y="51.6" text-anchor="middle" font-size="11.9" fill="#383838">lateral period</text>
<text x="250" y="64.8" text-anchor="middle" font-size="11.9" fill="#383838">limit threshold</text>
<line x1="259.8" y1="66.5" x2="259.8" y2="73" stroke="#222" stroke-width="1"/>
<path d="M257.3,72.2 L262.3,72.2 L259.8,78.2 Z" fill="#222"/>
<line x1="35.2" y1="679.10" x2="289.9" y2="679.10" stroke="#ececec" stroke-width="1"/>
<line x1="35.2" y1="631.33" x2="289.9" y2="631.33" stroke="#ececec" stroke-width="1"/>
<line x1="35.2" y1="583.55" x2="289.9" y2="583.55" stroke="#ececec" stroke-width="1"/>
<line x1="56.42" y1="574.0" x2="56.42" y2="679.1" stroke="#ececec" stroke-width="1"/>
<line x1="98.88" y1="574.0" x2="98.88" y2="679.1" stroke="#ececec" stroke-width="1"/>
<line x1="141.32" y1="574.0" x2="141.32" y2="679.1" stroke="#ececec" stroke-width="1"/>
<line x1="183.77" y1="574.0" x2="183.77" y2="679.1" stroke="#ececec" stroke-width="1"/>
<line x1="226.22" y1="574.0" x2="226.22" y2="679.1" stroke="#ececec" stroke-width="1"/>
<line x1="268.68" y1="574.0" x2="268.68" y2="679.1" stroke="#ececec" stroke-width="1"/>
<line x1="56.42" y1="580.88" x2="56.42" y2="592.54" stroke="#0000ff" stroke-width="1.3"/>
<circle cx="56.42" cy="586.61" r="2.0" fill="none" stroke="#0000ff" stroke-width="1.8"/>
<line x1="98.88" y1="618.81" x2="98.88" y2="640.88" stroke="#0000ff" stroke-width="1.3"/>
<circle cx="98.88" cy="629.99" r="2.0" fill="none" stroke="#0000ff" stroke-width="1.8"/>
<circle cx="141.32" cy="649.96" r="2.0" fill="#7070ff" stroke="#0000ff" stroke-width="1.8"/>
<circle cx="183.77" cy="627.98" r="2.0" fill="#ff7070" stroke="#ff0000" stroke-width="1.8"/>
<circle cx="226.22" cy="638.02" r="2.0" fill="#ff7070" stroke="#ff0000" stroke-width="1.8"/>
<circle cx="268.68" cy="652.35" r="2.0" fill="#ff7070" stroke="#ff0000" stroke-width="1.8"/>
<rect x="35.2" y="574.0" width="254.7" height="105.10000000000002" fill="none" stroke="#4d4d4d" stroke-width="1.1"/>
<line x1="35.2" y1="679.10" x2="37.800000000000004" y2="679.10" stroke="#4d4d4d" stroke-width="1"/>
<text x="33.40" y="684.00" text-anchor="end" font-size="11.7" fill="#383838">0</text>
<line x1="35.2" y1="631.33" x2="37.800000000000004" y2="631.33" stroke="#4d4d4d" stroke-width="1"/>
<text x="33.40" y="636.23" text-anchor="end" font-size="11.7" fill="#383838">5</text>
<line x1="35.2" y1="583.55" x2="37.800000000000004" y2="583.55" stroke="#4d4d4d" stroke-width="1"/>
<text x="33.40" y="588.45" text-anchor="end" font-size="11.7" fill="#383838">10</text>
<line x1="289.9" y1="583.55" x2="287.29999999999995" y2="583.55" stroke="#4d4d4d" stroke-width="1"/>
<text x="292.80" y="588.35" font-size="11.7" fill="#383838">100</text>
<line x1="289.9" y1="631.33" x2="287.29999999999995" y2="631.33" stroke="#4d4d4d" stroke-width="1"/>
<text x="292.80" y="636.13" font-size="11.7" fill="#383838">200</text>
<line x1="289.9" y1="647.25" x2="287.29999999999995" y2="647.25" stroke="#4d4d4d" stroke-width="1"/>
<text x="292.80" y="652.05" font-size="11.7" fill="#383838">300</text>
<line x1="289.9" y1="659.99" x2="287.29999999999995" y2="659.99" stroke="#4d4d4d" stroke-width="1"/>
<text x="292.80" y="664.79" font-size="11.7" fill="#383838">500</text>
<line x1="56.42" y1="679.1" x2="56.42" y2="676.5" stroke="#4d4d4d" stroke-width="1"/>
<line x1="56.42" y1="574.0" x2="56.42" y2="576.6" stroke="#4d4d4d" stroke-width="1"/>
<text transform="translate(63.12,686.30) rotate(-45)" x="0" y="4.1" text-anchor="end" font-size="11.9" fill="#383838">CM 20x</text>
<line x1="98.88" y1="679.1" x2="98.88" y2="676.5" stroke="#4d4d4d" stroke-width="1"/>
<line x1="98.88" y1="574.0" x2="98.88" y2="576.6" stroke="#4d4d4d" stroke-width="1"/>
<text transform="translate(105.58,686.30) rotate(-45)" x="0" y="4.1" text-anchor="end" font-size="11.9" fill="#383838">CM 50x</text>
<line x1="141.32" y1="679.1" x2="141.32" y2="676.5" stroke="#4d4d4d" stroke-width="1"/>
<line x1="141.32" y1="574.0" x2="141.32" y2="576.6" stroke="#4d4d4d" stroke-width="1"/>
<text transform="translate(148.02,686.30) rotate(-45)" x="0" y="4.1" text-anchor="end" font-size="11.9" fill="#383838">CM 100x</text>
<line x1="183.77" y1="679.1" x2="183.77" y2="676.5" stroke="#4d4d4d" stroke-width="1"/>
<line x1="183.77" y1="574.0" x2="183.77" y2="576.6" stroke="#4d4d4d" stroke-width="1"/>
<text transform="translate(190.47,686.30) rotate(-45)" x="0" y="4.1" text-anchor="end" font-size="11.9" fill="#383838">WLI 20x</text>
<line x1="226.22" y1="679.1" x2="226.22" y2="676.5" stroke="#4d4d4d" stroke-width="1"/>
<line x1="226.22" y1="574.0" x2="226.22" y2="576.6" stroke="#4d4d4d" stroke-width="1"/>
<text transform="translate(232.92,686.30) rotate(-45)" x="0" y="4.1" text-anchor="end" font-size="11.9" fill="#383838">WLI 50x</text>
<line x1="268.68" y1="679.1" x2="268.68" y2="676.5" stroke="#4d4d4d" stroke-width="1"/>
<line x1="268.68" y1="574.0" x2="268.68" y2="576.6" stroke="#4d4d4d" stroke-width="1"/>
<text transform="translate(275.38,686.30) rotate(-45)" x="0" y="4.1" text-anchor="end" font-size="11.9" fill="#383838">WLI 100x</text>
<text x="164.25" y="570.40" text-anchor="middle" font-size="11.9" font-weight="bold" fill="#000" stroke="#000" stroke-width="0.25">g) Lateral period limit evaluation</text>
<text transform="translate(9.60,626.55) rotate(-90)" text-anchor="middle" font-size="11.9" fill="#383838">lateral period limit / µm</text>
<text transform="translate(320.00,630.05) rotate(-90)" text-anchor="middle" font-size="11.9" fill="#383838">spatial frequency / (1 / mm)</text>
</svg></body></html>
